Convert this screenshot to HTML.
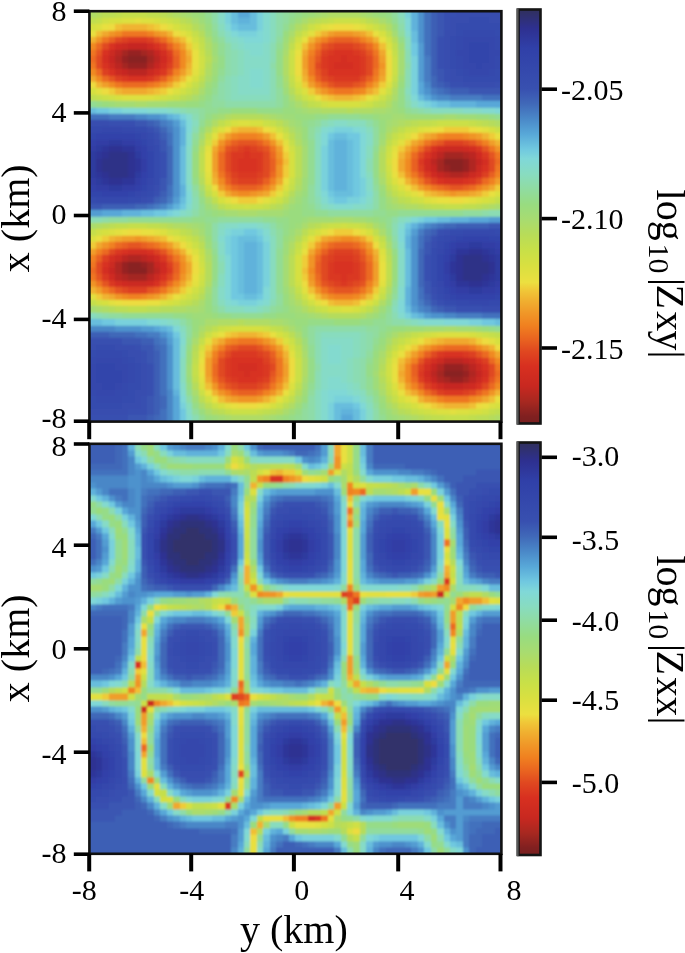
<!DOCTYPE html>
<html><head><meta charset="utf-8"><style>
html,body{margin:0;padding:0;background:#fff;width:685px;height:953px;overflow:hidden}
svg{display:block;will-change:transform}
text{font-family:"Liberation Serif",serif;fill:#000}
</style></head><body>
<svg width="685" height="953" viewBox="0 0 685 953">
<defs><linearGradient id="cg" x1="0" y1="0" x2="0" y2="1"><stop offset="0.000" stop-color="#303060"/><stop offset="0.003" stop-color="#303060"/><stop offset="0.045" stop-color="#2e3090"/><stop offset="0.093" stop-color="#3040a8"/><stop offset="0.191" stop-color="#3850b0"/><stop offset="0.227" stop-color="#4068b8"/><stop offset="0.264" stop-color="#4a88c8"/><stop offset="0.301" stop-color="#58a8d8"/><stop offset="0.337" stop-color="#70c8e0"/><stop offset="0.361" stop-color="#80d8d8"/><stop offset="0.398" stop-color="#88dcc0"/><stop offset="0.435" stop-color="#90dca0"/><stop offset="0.471" stop-color="#98dc80"/><stop offset="0.508" stop-color="#a8dc70"/><stop offset="0.544" stop-color="#b8dc58"/><stop offset="0.581" stop-color="#c8e048"/><stop offset="0.617" stop-color="#d8e040"/><stop offset="0.659" stop-color="#ece040"/><stop offset="0.678" stop-color="#f0c838"/><stop offset="0.703" stop-color="#f0b030"/><stop offset="0.732" stop-color="#f09828"/><stop offset="0.764" stop-color="#f08020"/><stop offset="0.800" stop-color="#e86020"/><stop offset="0.825" stop-color="#e04820"/><stop offset="0.861" stop-color="#d83020"/><stop offset="0.910" stop-color="#c82820"/><stop offset="0.946" stop-color="#a82820"/><stop offset="0.983" stop-color="#802020"/><stop offset="1.000" stop-color="#782020"/></linearGradient><filter id="bl" x="-0.05" y="-0.05" width="1.1" height="1.1"><feGaussianBlur stdDeviation="0.8"/></filter></defs>
<clipPath id="hc1"><rect x="89.40" y="11.20" width="412.00" height="410.40"/></clipPath><g clip-path="url(#hc1)"><g filter="url(#bl)"><svg x="82.96" y="4.79" width="424.88" height="423.23" viewBox="0 0 66 66" preserveAspectRatio="none" shape-rendering="crispEdges"><path fill="#b0dc65" d="M0 0h2v1h-2zM14 0h1v1h-1zM38 0h5v1h-5zM0 1h2v1h-2zM14 1h1v1h-1zM38 1h5v1h-5zM33 3h1v1h-1zM47 3h1v1h-1zM19 6h1v1h-1zM31 8h1v1h-1zM31 9h1v1h-1zM19 10h1v1h-1zM31 10h1v1h-1zM48 13h1v1h-1zM47 15h1v1h-1zM37 16h4v1h-4zM42 16h3v1h-3zM22 17h1v1h-1zM28 17h1v1h-1zM20 18h1v1h-1zM31 18h1v1h-1zM49 18h1v1h-1zM64 18h2v1h-2zM19 19h1v1h-1zM32 19h1v1h-1zM18 21h1v1h-1zM33 21h1v1h-1zM46 22h1v1h-1zM46 26h1v1h-1zM33 28h1v1h-1zM47 29h1v1h-1zM48 30h1v1h-1zM50 31h2v1h-2zM63 31h1v1h-1zM2 34h1v1h-1zM14 34h2v1h-2zM17 35h1v1h-1zM18 36h1v1h-1zM32 37h1v1h-1zM19 39h1v1h-1zM19 43h1v1h-1zM32 44h1v1h-1zM47 44h1v1h-1zM33 46h1v1h-1zM46 46h1v1h-1zM3 47h1v1h-1zM14 47h2v1h-2zM34 47h1v1h-1zM45 47h1v1h-1zM37 48h1v1h-1zM43 48h1v1h-1zM21 49h3v1h-3zM25 49h4v1h-4zM34 55h1v1h-1zM46 55h1v1h-1zM34 56h1v1h-1zM34 57h1v1h-1zM46 59h1v1h-1zM32 62h1v1h-1zM23 64h5v1h-5zM51 64h1v1h-1zM64 64h2v1h-2zM23 65h5v1h-5zM51 65h1v1h-1zM64 65h2v1h-2z"/><path fill="#b5dc5c" d="M2 0h1v1h-1zM13 0h1v1h-1zM2 1h1v1h-1zM13 1h1v1h-1zM16 2h1v1h-1zM35 2h1v1h-1zM45 2h1v1h-1zM17 3h1v1h-1zM18 4h1v1h-1zM32 5h1v1h-1zM48 5h1v1h-1zM19 7h1v1h-1zM19 9h1v1h-1zM18 12h1v1h-1zM32 13h1v1h-1zM16 14h1v1h-1zM34 15h1v1h-1zM41 16h1v1h-1zM23 17h5v1h-5zM50 18h1v1h-1zM63 18h1v1h-1zM48 19h1v1h-1zM47 20h1v1h-1zM46 23h1v1h-1zM46 24h1v1h-1zM46 25h1v1h-1zM18 27h1v1h-1zM33 27h1v1h-1zM32 29h1v1h-1zM30 31h1v1h-1zM52 31h1v1h-1zM62 31h1v1h-1zM3 34h1v1h-1zM13 34h1v1h-1zM35 34h1v1h-1zM33 36h1v1h-1zM32 38h1v1h-1zM47 38h1v1h-1zM19 40h1v1h-1zM19 41h1v1h-1zM19 42h1v1h-1zM18 45h1v1h-1zM17 46h1v1h-1zM4 47h1v1h-1zM12 47h2v1h-2zM38 48h5v1h-5zM24 49h1v1h-1zM19 50h1v1h-1zM31 50h1v1h-1zM18 51h1v1h-1zM49 51h1v1h-1zM33 52h1v1h-1zM17 53h1v1h-1zM47 53h1v1h-1zM46 56h1v1h-1zM46 58h1v1h-1zM17 59h1v1h-1zM33 60h1v1h-1zM47 61h1v1h-1zM48 62h1v1h-1zM20 63h1v1h-1zM30 63h1v1h-1zM49 63h1v1h-1zM52 64h1v1h-1zM63 64h1v1h-1zM52 65h1v1h-1zM63 65h1v1h-1z"/><path fill="#bbdd55" d="M3 0h2v1h-2zM12 0h1v1h-1zM3 1h2v1h-2zM12 1h1v1h-1zM15 2h1v1h-1zM36 2h1v1h-1zM44 2h1v1h-1zM34 3h1v1h-1zM19 8h1v1h-1zM48 12h1v1h-1zM17 13h1v1h-1zM15 14h1v1h-1zM33 14h1v1h-1zM47 14h1v1h-1zM46 15h1v1h-1zM30 18h1v1h-1zM51 18h1v1h-1zM62 18h1v1h-1zM32 20h1v1h-1zM18 22h1v1h-1zM33 22h1v1h-1zM33 23h1v1h-1zM33 24h1v1h-1zM33 25h1v1h-1zM18 26h1v1h-1zM33 26h1v1h-1zM47 28h1v1h-1zM31 30h1v1h-1zM49 30h1v1h-1zM21 31h1v1h-1zM29 31h1v1h-1zM53 31h1v1h-1zM61 31h1v1h-1zM4 34h1v1h-1zM12 34h1v1h-1zM36 34h1v1h-1zM44 34h1v1h-1zM16 35h1v1h-1zM34 35h1v1h-1zM18 37h1v1h-1zM32 39h1v1h-1zM47 39h1v1h-1zM32 40h1v1h-1zM32 41h1v1h-1zM32 42h1v1h-1zM32 43h1v1h-1zM47 43h1v1h-1zM33 45h1v1h-1zM5 47h2v1h-2zM10 47h2v1h-2zM35 47h1v1h-1zM32 51h1v1h-1zM50 51h1v1h-1zM48 52h1v1h-1zM17 54h1v1h-1zM46 57h1v1h-1zM18 61h1v1h-1zM19 62h1v1h-1zM31 62h1v1h-1zM21 63h1v1h-1zM29 63h1v1h-1zM50 63h1v1h-1zM53 64h1v1h-1zM61 64h2v1h-2zM53 65h1v1h-1zM61 65h2v1h-2z"/><path fill="#c0de50" d="M5 0h1v1h-1zM10 0h2v1h-2zM5 1h1v1h-1zM10 1h2v1h-2zM0 2h2v1h-2zM37 2h1v1h-1zM46 3h1v1h-1zM33 4h1v1h-1zM47 4h1v1h-1zM18 5h1v1h-1zM32 6h1v1h-1zM48 6h1v1h-1zM18 11h1v1h-1zM32 12h1v1h-1zM0 14h2v1h-2zM35 15h1v1h-1zM45 15h1v1h-1zM21 18h1v1h-1zM52 18h2v1h-2zM61 18h1v1h-1zM31 19h1v1h-1zM49 19h1v1h-1zM47 21h1v1h-1zM18 23h1v1h-1zM18 24h1v1h-1zM18 25h1v1h-1zM19 29h1v1h-1zM48 29h1v1h-1zM20 30h1v1h-1zM50 30h1v1h-1zM54 31h2v1h-2zM59 31h2v1h-2zM5 34h2v1h-2zM10 34h2v1h-2zM15 35h1v1h-1zM45 35h1v1h-1zM17 36h1v1h-1zM46 36h1v1h-1zM47 40h1v1h-1zM47 41h1v1h-1zM47 42h1v1h-1zM18 44h1v1h-1zM16 46h1v1h-1zM34 46h1v1h-1zM7 47h3v1h-3zM44 47h1v1h-1zM20 50h1v1h-1zM30 50h1v1h-1zM64 51h2v1h-2zM33 53h1v1h-1zM47 54h1v1h-1zM17 55h1v1h-1zM17 58h1v1h-1zM33 59h1v1h-1zM47 60h1v1h-1zM32 61h1v1h-1zM28 63h1v1h-1zM64 63h2v1h-2zM54 64h2v1h-2zM60 64h1v1h-1zM54 65h2v1h-2zM60 65h1v1h-1z"/><path fill="#c5df4b" d="M6 0h4v1h-4zM6 1h4v1h-4zM2 2h1v1h-1zM14 2h1v1h-1zM38 2h1v1h-1zM43 2h1v1h-1zM16 3h1v1h-1zM17 4h1v1h-1zM18 6h1v1h-1zM48 7h1v1h-1zM32 11h1v1h-1zM48 11h1v1h-1zM17 12h1v1h-1zM16 13h1v1h-1zM2 14h1v1h-1zM14 14h1v1h-1zM36 15h1v1h-1zM29 18h1v1h-1zM54 18h1v1h-1zM60 18h1v1h-1zM19 20h1v1h-1zM48 20h1v1h-1zM32 21h1v1h-1zM47 27h1v1h-1zM32 28h1v1h-1zM64 30h2v1h-2zM22 31h1v1h-1zM28 31h1v1h-1zM56 31h3v1h-3zM7 34h3v1h-3zM37 34h1v1h-1zM43 34h1v1h-1zM0 35h2v1h-2zM33 37h1v1h-1zM18 38h1v1h-1zM33 44h1v1h-1zM17 45h1v1h-1zM46 45h1v1h-1zM0 46h2v1h-2zM15 46h1v1h-1zM36 47h1v1h-1zM29 50h1v1h-1zM51 51h1v1h-1zM63 51h1v1h-1zM18 52h1v1h-1zM49 52h1v1h-1zM48 53h1v1h-1zM33 54h1v1h-1zM17 56h1v1h-1zM17 57h1v1h-1zM47 59h1v1h-1zM48 61h1v1h-1zM49 62h1v1h-1zM22 63h1v1h-1zM27 63h1v1h-1zM51 63h1v1h-1zM63 63h1v1h-1zM56 64h4v1h-4zM56 65h4v1h-4z"/><path fill="#aadc6d" d="M15 0h1v1h-1zM37 0h1v1h-1zM43 0h1v1h-1zM15 1h1v1h-1zM37 1h1v1h-1zM43 1h1v1h-1zM17 2h1v1h-1zM34 2h1v1h-1zM46 2h1v1h-1zM18 3h1v1h-1zM32 4h1v1h-1zM19 5h1v1h-1zM31 7h1v1h-1zM19 11h1v1h-1zM31 11h1v1h-1zM18 13h1v1h-1zM17 14h1v1h-1zM32 14h1v1h-1zM48 14h1v1h-1zM8 15h2v1h-2zM33 15h1v1h-1zM35 16h2v1h-2zM45 16h2v1h-2zM29 17h1v1h-1zM48 18h1v1h-1zM47 19h1v1h-1zM33 20h1v1h-1zM46 27h1v1h-1zM18 28h1v1h-1zM19 30h1v1h-1zM32 30h1v1h-1zM20 31h1v1h-1zM31 31h1v1h-1zM49 31h1v1h-1zM64 31h2v1h-2zM24 32h3v1h-3zM39 33h3v1h-3zM0 34h2v1h-2zM16 34h1v1h-1zM34 34h1v1h-1zM45 34h1v1h-1zM33 35h1v1h-1zM46 35h1v1h-1zM47 37h1v1h-1zM19 38h1v1h-1zM32 45h1v1h-1zM18 46h1v1h-1zM2 47h1v1h-1zM16 47h2v1h-2zM36 48h1v1h-1zM19 49h2v1h-2zM29 49h2v1h-2zM18 50h1v1h-1zM32 50h1v1h-1zM56 50h2v1h-2zM33 51h1v1h-1zM48 51h1v1h-1zM17 52h1v1h-1zM47 52h1v1h-1zM34 54h1v1h-1zM46 54h1v1h-1zM34 58h1v1h-1zM17 60h1v1h-1zM46 60h1v1h-1zM33 61h1v1h-1zM18 62h1v1h-1zM47 62h1v1h-1zM19 63h1v1h-1zM31 63h1v1h-1zM48 63h1v1h-1zM22 64h1v1h-1zM28 64h1v1h-1zM50 64h1v1h-1zM22 65h1v1h-1zM28 65h1v1h-1zM50 65h1v1h-1z"/><path fill="#a5dc73" d="M16 0h1v1h-1zM36 0h1v1h-1zM44 0h1v1h-1zM16 1h1v1h-1zM36 1h1v1h-1zM44 1h1v1h-1zM48 4h1v1h-1zM31 6h1v1h-1zM49 7h1v1h-1zM20 8h1v1h-1zM49 8h1v1h-1zM49 9h1v1h-1zM49 10h1v1h-1zM31 12h1v1h-1zM5 15h3v1h-3zM10 15h3v1h-3zM34 16h1v1h-1zM47 16h1v1h-1zM21 17h1v1h-1zM30 17h1v1h-1zM48 17h2v1h-2zM56 17h2v1h-2zM32 18h1v1h-1zM47 18h1v1h-1zM33 19h1v1h-1zM18 20h1v1h-1zM46 21h1v1h-1zM34 22h1v1h-1zM34 23h1v1h-1zM34 24h1v1h-1zM34 25h1v1h-1zM34 26h1v1h-1zM33 29h1v1h-1zM47 30h1v1h-1zM48 31h1v1h-1zM22 32h2v1h-2zM27 32h4v1h-4zM35 33h4v1h-4zM42 33h2v1h-2zM17 34h1v1h-1zM18 35h1v1h-1zM32 36h1v1h-1zM31 39h1v1h-1zM31 40h1v1h-1zM31 41h1v1h-1zM31 42h1v1h-1zM31 43h1v1h-1zM19 44h1v1h-1zM47 45h1v1h-1zM32 46h1v1h-1zM0 47h2v1h-2zM18 47h1v1h-1zM33 47h1v1h-1zM35 48h1v1h-1zM44 48h1v1h-1zM31 49h1v1h-1zM53 50h3v1h-3zM58 50h3v1h-3zM34 53h1v1h-1zM45 57h1v1h-1zM34 59h1v1h-1zM21 64h1v1h-1zM29 64h1v1h-1zM49 64h1v1h-1zM21 65h1v1h-1zM29 65h1v1h-1zM49 65h1v1h-1z"/><path fill="#9fdc79" d="M17 0h1v1h-1zM35 0h1v1h-1zM45 0h1v1h-1zM17 1h1v1h-1zM35 1h1v1h-1zM45 1h1v1h-1zM18 2h1v1h-1zM33 2h1v1h-1zM47 2h1v1h-1zM32 3h1v1h-1zM19 4h1v1h-1zM31 5h1v1h-1zM20 6h1v1h-1zM49 6h1v1h-1zM20 7h1v1h-1zM20 9h1v1h-1zM20 10h1v1h-1zM49 11h1v1h-1zM19 12h1v1h-1zM31 13h1v1h-1zM18 14h1v1h-1zM4 15h1v1h-1zM13 15h3v1h-3zM32 15h1v1h-1zM48 15h1v1h-1zM33 16h1v1h-1zM48 16h1v1h-1zM20 17h1v1h-1zM31 17h2v1h-2zM46 17h2v1h-2zM50 17h6v1h-6zM58 17h3v1h-3zM19 18h1v1h-1zM33 18h1v1h-1zM46 20h1v1h-1zM34 21h1v1h-1zM34 27h1v1h-1zM34 28h1v1h-1zM46 28h1v1h-1zM18 29h1v1h-1zM33 30h1v1h-1zM19 31h1v1h-1zM32 31h1v1h-1zM47 31h1v1h-1zM21 32h1v1h-1zM31 32h1v1h-1zM34 33h1v1h-1zM44 33h1v1h-1zM18 34h1v1h-1zM33 34h1v1h-1zM46 34h1v1h-1zM32 35h1v1h-1zM47 36h1v1h-1zM19 37h1v1h-1zM31 37h1v1h-1zM31 38h1v1h-1zM31 44h1v1h-1zM19 45h1v1h-1zM32 47h1v1h-1zM46 47h1v1h-1zM17 48h3v1h-3zM33 48h2v1h-2zM45 48h1v1h-1zM18 49h1v1h-1zM32 49h1v1h-1zM33 50h1v1h-1zM50 50h3v1h-3zM61 50h1v1h-1zM17 51h1v1h-1zM47 51h1v1h-1zM34 52h1v1h-1zM46 53h1v1h-1zM45 55h1v1h-1zM16 56h1v1h-1zM45 56h1v1h-1zM16 57h1v1h-1zM45 58h1v1h-1zM45 59h1v1h-1zM34 60h1v1h-1zM17 61h1v1h-1zM46 61h1v1h-1zM33 62h1v1h-1zM32 63h1v1h-1zM47 63h1v1h-1zM20 64h1v1h-1zM30 64h1v1h-1zM48 64h1v1h-1zM20 65h1v1h-1zM30 65h1v1h-1zM48 65h1v1h-1z"/><path fill="#9adc7e" d="M18 0h1v1h-1zM34 0h1v1h-1zM46 0h1v1h-1zM18 1h1v1h-1zM34 1h1v1h-1zM46 1h1v1h-1zM19 3h1v1h-1zM48 3h1v1h-1zM31 4h1v1h-1zM20 11h1v1h-1zM49 12h1v1h-1zM19 13h1v1h-1zM3 15h1v1h-1zM16 15h2v1h-2zM23 16h4v1h-4zM31 16h2v1h-2zM49 16h1v1h-1zM33 17h3v1h-3zM45 17h1v1h-1zM61 17h2v1h-2zM46 18h1v1h-1zM18 19h1v1h-1zM34 19h1v1h-1zM46 19h1v1h-1zM34 20h1v1h-1zM17 23h1v1h-1zM17 24h1v1h-1zM17 25h1v1h-1zM17 26h1v1h-1zM34 29h1v1h-1zM46 29h1v1h-1zM33 31h1v1h-1zM20 32h1v1h-1zM32 32h2v1h-2zM32 33h2v1h-2zM45 33h1v1h-1zM32 34h1v1h-1zM19 36h1v1h-1zM31 36h1v1h-1zM48 39h1v1h-1zM48 40h1v1h-1zM48 41h1v1h-1zM48 42h1v1h-1zM31 45h1v1h-1zM19 46h1v1h-1zM31 46h1v1h-1zM47 46h1v1h-1zM19 47h1v1h-1zM16 48h1v1h-1zM20 48h1v1h-1zM30 48h3v1h-3zM17 49h1v1h-1zM33 49h2v1h-2zM39 49h4v1h-4zM17 50h1v1h-1zM48 50h2v1h-2zM62 50h1v1h-1zM46 52h1v1h-1zM16 54h1v1h-1zM45 54h1v1h-1zM16 55h1v1h-1zM16 58h1v1h-1zM34 61h1v1h-1zM46 62h1v1h-1zM18 63h1v1h-1zM19 64h1v1h-1zM31 64h1v1h-1zM47 64h1v1h-1zM19 65h1v1h-1zM31 65h1v1h-1zM47 65h1v1h-1z"/><path fill="#93dc93" d="M19 0h1v1h-1zM32 0h1v1h-1zM19 1h1v1h-1zM32 1h1v1h-1zM48 2h1v1h-1zM31 3h1v1h-1zM20 4h1v1h-1zM21 6h1v1h-1zM30 6h1v1h-1zM21 7h1v1h-1zM21 10h1v1h-1zM30 11h1v1h-1zM30 12h1v1h-1zM20 13h1v1h-1zM0 15h2v1h-2zM19 15h1v1h-1zM19 16h2v1h-2zM50 16h1v1h-1zM38 17h5v1h-5zM64 17h2v1h-2zM18 18h1v1h-1zM35 18h1v1h-1zM45 18h1v1h-1zM17 21h1v1h-1zM35 21h1v1h-1zM35 22h1v1h-1zM45 22h1v1h-1zM35 23h1v1h-1zM35 24h1v1h-1zM35 25h1v1h-1zM35 26h1v1h-1zM35 27h1v1h-1zM45 27h1v1h-1zM18 31h1v1h-1zM35 31h1v1h-1zM18 32h1v1h-1zM36 32h2v1h-2zM45 32h2v1h-2zM49 32h10v1h-10zM7 33h10v1h-10zM19 33h2v1h-2zM28 33h2v1h-2zM47 33h1v1h-1zM30 34h1v1h-1zM47 34h1v1h-1zM20 38h1v1h-1zM30 38h1v1h-1zM30 39h1v1h-1zM30 40h1v1h-1zM30 41h1v1h-1zM30 42h1v1h-1zM20 43h1v1h-1zM30 43h1v1h-1zM30 44h1v1h-1zM48 44h1v1h-1zM20 47h1v1h-1zM30 47h1v1h-1zM47 47h1v1h-1zM6 48h8v1h-8zM23 48h5v1h-5zM16 49h1v1h-1zM45 49h2v1h-2zM46 50h1v1h-1zM64 50h2v1h-2zM16 52h1v1h-1zM45 52h1v1h-1zM35 53h1v1h-1zM35 54h1v1h-1zM44 55h1v1h-1zM44 58h1v1h-1zM35 59h1v1h-1zM44 59h1v1h-1zM16 60h1v1h-1zM45 61h1v1h-1zM34 62h1v1h-1zM18 64h1v1h-1zM33 64h1v1h-1zM46 64h1v1h-1zM18 65h1v1h-1zM33 65h1v1h-1zM46 65h1v1h-1z"/><path fill="#8edca9" d="M20 0h1v1h-1zM30 0h1v1h-1zM20 1h1v1h-1zM30 1h1v1h-1zM20 2h1v1h-1zM30 2h1v1h-1zM30 3h1v1h-1zM49 3h1v1h-1zM30 4h1v1h-1zM22 6h1v1h-1zM22 7h1v1h-1zM22 8h1v1h-1zM22 9h1v1h-1zM29 9h1v1h-1zM50 9h1v1h-1zM22 10h1v1h-1zM21 12h1v1h-1zM21 13h1v1h-1zM21 14h1v1h-1zM22 15h8v1h-8zM50 15h1v1h-1zM16 16h2v1h-2zM52 16h1v1h-1zM44 18h1v1h-1zM17 29h1v1h-1zM45 29h1v1h-1zM45 30h1v1h-1zM36 31h1v1h-1zM45 31h1v1h-1zM17 32h1v1h-1zM62 32h1v1h-1zM3 33h1v1h-1zM48 33h1v1h-1zM20 34h1v1h-1zM29 34h1v1h-1zM20 35h1v1h-1zM20 36h1v1h-1zM48 36h1v1h-1zM21 47h1v1h-1zM3 48h1v1h-1zM15 49h1v1h-1zM48 49h2v1h-2zM36 50h8v1h-8zM44 51h1v1h-1zM44 52h1v1h-1zM44 53h1v1h-1zM43 55h1v1h-1zM36 56h1v1h-1zM43 56h1v1h-1zM43 57h1v1h-1zM43 58h1v1h-1zM43 59h1v1h-1zM16 61h1v1h-1zM35 61h1v1h-1zM35 62h1v1h-1zM35 63h1v1h-1zM45 63h1v1h-1zM35 64h1v1h-1zM45 64h1v1h-1zM35 65h1v1h-1zM45 65h1v1h-1z"/><path fill="#86dbc7" d="M21 0h1v1h-1zM21 1h1v1h-1zM21 2h1v1h-1zM22 4h1v1h-1zM23 5h1v1h-1zM24 6h1v1h-1zM28 6h1v1h-1zM25 7h1v1h-1zM28 7h1v1h-1zM25 8h4v1h-4zM25 9h4v1h-4zM25 10h1v1h-1zM28 10h1v1h-1zM24 11h2v1h-2zM28 11h1v1h-1zM24 12h2v1h-2zM28 12h1v1h-1zM24 13h5v1h-5zM51 15h1v1h-1zM13 16h1v1h-1zM59 16h3v1h-3zM39 18h2v1h-2zM44 20h1v1h-1zM44 21h1v1h-1zM16 22h1v1h-1zM16 23h1v1h-1zM16 24h1v1h-1zM16 25h1v1h-1zM16 26h1v1h-1zM16 27h1v1h-1zM44 27h1v1h-1zM44 28h1v1h-1zM44 30h1v1h-1zM38 31h1v1h-1zM42 31h2v1h-2zM15 32h1v1h-1zM50 33h1v1h-1zM22 34h2v1h-2zM27 34h1v1h-1zM21 35h1v1h-1zM21 37h1v1h-1zM21 38h1v1h-1zM49 38h1v1h-1zM49 39h1v1h-1zM49 40h1v1h-1zM49 41h1v1h-1zM49 42h1v1h-1zM49 43h1v1h-1zM21 44h1v1h-1zM21 45h1v1h-1zM25 47h2v1h-2zM13 49h1v1h-1zM52 49h1v1h-1zM15 51h1v1h-1zM37 52h5v1h-5zM15 53h1v1h-1zM37 53h1v1h-1zM40 53h2v1h-2zM15 54h1v1h-1zM37 54h1v1h-1zM40 54h2v1h-2zM37 55h1v1h-1zM40 55h1v1h-1zM37 56h4v1h-4zM37 57h4v1h-4zM37 58h1v1h-1zM40 58h1v1h-1zM15 59h1v1h-1zM37 59h1v1h-1zM41 59h1v1h-1zM42 60h1v1h-1zM43 61h1v1h-1zM16 63h1v1h-1zM44 63h1v1h-1zM44 64h1v1h-1zM44 65h1v1h-1z"/><path fill="#79d1dc" d="M22 0h1v1h-1zM27 0h1v1h-1zM50 0h1v1h-1zM22 1h1v1h-1zM27 1h1v1h-1zM50 1h1v1h-1zM22 2h1v1h-1zM27 2h1v1h-1zM27 3h1v1h-1zM24 4h3v1h-3zM51 8h1v1h-1zM51 9h1v1h-1zM51 10h1v1h-1zM51 11h1v1h-1zM51 12h1v1h-1zM51 13h1v1h-1zM53 15h1v1h-1zM4 16h2v1h-2zM15 17h1v1h-1zM39 19h3v1h-3zM37 22h1v1h-1zM37 23h1v1h-1zM37 24h1v1h-1zM37 25h1v1h-1zM37 26h1v1h-1zM37 27h1v1h-1zM43 27h1v1h-1zM37 28h1v1h-1zM43 28h1v1h-1zM43 29h1v1h-1zM38 30h1v1h-1zM41 30h2v1h-2zM13 32h1v1h-1zM52 33h1v1h-1zM23 35h2v1h-2zM27 35h1v1h-1zM22 36h1v1h-1zM22 37h1v1h-1zM28 37h1v1h-1zM22 38h1v1h-1zM28 38h1v1h-1zM28 39h1v1h-1zM28 40h1v1h-1zM28 41h1v1h-1zM28 42h1v1h-1zM28 43h1v1h-1zM24 46h3v1h-3zM50 48h1v1h-1zM5 49h5v1h-5zM60 49h2v1h-2zM39 61h3v1h-3zM15 62h1v1h-1zM38 62h1v1h-1zM38 63h1v1h-1zM43 63h1v1h-1zM38 64h1v1h-1zM43 64h1v1h-1zM38 65h1v1h-1zM43 65h1v1h-1z"/><path fill="#68bddd" d="M23 0h1v1h-1zM26 0h1v1h-1zM23 1h1v1h-1zM26 1h1v1h-1zM23 2h1v1h-1zM26 2h1v1h-1zM24 3h3v1h-3zM51 4h1v1h-1zM51 5h1v1h-1zM52 14h1v1h-1zM55 15h2v1h-2zM0 16h2v1h-2zM14 17h1v1h-1zM15 18h1v1h-1zM39 20h2v1h-2zM38 21h1v1h-1zM41 21h1v1h-1zM15 22h1v1h-1zM38 22h1v1h-1zM41 22h1v1h-1zM15 23h1v1h-1zM38 23h1v1h-1zM41 23h1v1h-1zM15 24h1v1h-1zM38 24h1v1h-1zM41 24h1v1h-1zM15 25h1v1h-1zM38 25h1v1h-1zM41 25h1v1h-1zM15 26h1v1h-1zM38 26h1v1h-1zM41 26h1v1h-1zM15 27h1v1h-1zM38 27h1v1h-1zM41 27h1v1h-1zM38 28h1v1h-1zM41 28h1v1h-1zM39 29h3v1h-3zM15 30h1v1h-1zM9 32h2v1h-2zM55 33h2v1h-2zM50 35h1v1h-1zM24 36h3v1h-3zM24 37h1v1h-1zM27 37h1v1h-1zM24 38h1v1h-1zM27 38h1v1h-1zM50 38h1v1h-1zM24 39h1v1h-1zM27 39h1v1h-1zM50 39h1v1h-1zM24 40h1v1h-1zM27 40h1v1h-1zM50 40h1v1h-1zM24 41h1v1h-1zM27 41h1v1h-1zM50 41h1v1h-1zM24 42h1v1h-1zM27 42h1v1h-1zM50 42h1v1h-1zM24 43h1v1h-1zM27 43h1v1h-1zM50 43h1v1h-1zM24 44h1v1h-1zM27 44h1v1h-1zM25 45h2v1h-2zM50 47h1v1h-1zM51 48h1v1h-1zM0 49h3v1h-3zM64 49h2v1h-2zM13 50h1v1h-1zM14 52h1v1h-1zM14 53h1v1h-1zM14 54h1v1h-1zM14 55h1v1h-1zM14 56h1v1h-1zM14 57h1v1h-1zM14 58h1v1h-1zM14 59h1v1h-1zM39 62h3v1h-3zM39 63h1v1h-1zM42 63h1v1h-1zM39 64h1v1h-1zM42 64h1v1h-1zM39 65h1v1h-1zM42 65h1v1h-1z"/><path fill="#58a7d8" d="M24 0h2v1h-2zM24 1h2v1h-2zM52 12h1v1h-1zM52 13h1v1h-1zM53 14h1v1h-1zM61 15h5v1h-5zM3 32h3v1h-3zM60 33h3v1h-3zM11 50h1v1h-1zM13 51h1v1h-1zM14 61h1v1h-1zM14 62h1v1h-1zM14 63h1v1h-1zM14 64h1v1h-1zM40 64h2v1h-2zM14 65h1v1h-1zM40 65h2v1h-2z"/><path fill="#83dacf" d="M28 0h1v1h-1zM28 1h1v1h-1zM28 2h1v1h-1zM28 3h1v1h-1zM28 4h1v1h-1zM50 4h1v1h-1zM24 5h1v1h-1zM28 5h1v1h-1zM25 6h3v1h-3zM26 7h2v1h-2zM26 10h2v1h-2zM26 11h2v1h-2zM26 12h2v1h-2zM10 16h3v1h-3zM62 16h2v1h-2zM16 17h1v1h-1zM37 19h1v1h-1zM43 19h1v1h-1zM16 20h1v1h-1zM16 21h1v1h-1zM16 28h1v1h-1zM44 29h1v1h-1zM37 30h1v1h-1zM16 31h1v1h-1zM39 31h3v1h-3zM24 34h3v1h-3zM49 34h1v1h-1zM28 35h1v1h-1zM21 36h1v1h-1zM49 37h1v1h-1zM49 44h1v1h-1zM49 45h1v1h-1zM22 46h1v1h-1zM28 46h1v1h-1zM49 48h1v1h-1zM12 49h1v1h-1zM53 49h3v1h-3zM15 52h1v1h-1zM38 53h2v1h-2zM38 54h2v1h-2zM38 55h2v1h-2zM38 58h2v1h-2zM38 59h3v1h-3zM15 60h1v1h-1zM37 60h1v1h-1zM41 60h1v1h-1zM37 61h1v1h-1zM37 62h1v1h-1zM37 63h1v1h-1zM16 64h1v1h-1zM37 64h1v1h-1zM16 65h1v1h-1zM37 65h1v1h-1z"/><path fill="#88dcbe" d="M29 0h1v1h-1zM49 0h1v1h-1zM29 1h1v1h-1zM49 1h1v1h-1zM29 2h1v1h-1zM21 3h1v1h-1zM29 3h1v1h-1zM29 4h1v1h-1zM22 5h1v1h-1zM29 5h1v1h-1zM50 5h1v1h-1zM23 6h1v1h-1zM50 6h1v1h-1zM24 7h1v1h-1zM24 8h1v1h-1zM24 9h1v1h-1zM24 10h1v1h-1zM23 11h1v1h-1zM23 12h1v1h-1zM23 13h1v1h-1zM50 13h1v1h-1zM23 14h6v1h-6zM14 16h1v1h-1zM54 16h5v1h-5zM17 18h1v1h-1zM38 18h1v1h-1zM41 18h3v1h-3zM44 19h1v1h-1zM36 20h1v1h-1zM36 21h1v1h-1zM36 22h1v1h-1zM44 22h1v1h-1zM36 23h1v1h-1zM44 23h1v1h-1zM36 24h1v1h-1zM36 25h1v1h-1zM36 26h1v1h-1zM44 26h1v1h-1zM36 27h1v1h-1zM36 28h1v1h-1zM36 29h1v1h-1zM37 31h1v1h-1zM44 31h1v1h-1zM16 32h1v1h-1zM49 33h1v1h-1zM21 34h1v1h-1zM28 34h1v1h-1zM29 36h1v1h-1zM29 37h1v1h-1zM29 38h1v1h-1zM21 39h1v1h-1zM29 39h1v1h-1zM29 40h1v1h-1zM29 41h1v1h-1zM21 42h1v1h-1zM29 42h1v1h-1zM21 43h1v1h-1zM29 43h1v1h-1zM29 44h1v1h-1zM29 45h1v1h-1zM21 46h1v1h-1zM22 47h3v1h-3zM27 47h1v1h-1zM48 47h1v1h-1zM0 48h2v1h-2zM14 49h1v1h-1zM51 49h1v1h-1zM15 50h1v1h-1zM37 51h6v1h-6zM42 52h1v1h-1zM42 53h1v1h-1zM42 54h1v1h-1zM15 55h1v1h-1zM41 55h1v1h-1zM15 56h1v1h-1zM41 56h1v1h-1zM15 57h1v1h-1zM41 57h1v1h-1zM15 58h1v1h-1zM41 58h1v1h-1zM42 59h1v1h-1zM36 60h1v1h-1zM43 60h1v1h-1zM36 61h1v1h-1zM16 62h1v1h-1zM36 62h1v1h-1zM44 62h1v1h-1zM36 63h1v1h-1zM36 64h1v1h-1zM36 65h1v1h-1z"/><path fill="#91dc9e" d="M31 0h1v1h-1zM48 0h1v1h-1zM31 1h1v1h-1zM48 1h1v1h-1zM31 2h1v1h-1zM20 3h1v1h-1zM49 4h1v1h-1zM21 5h1v1h-1zM30 5h1v1h-1zM21 11h1v1h-1zM30 13h1v1h-1zM20 14h1v1h-1zM30 14h1v1h-1zM20 15h2v1h-2zM30 15h1v1h-1zM18 16h1v1h-1zM51 16h1v1h-1zM18 17h1v1h-1zM36 18h1v1h-1zM35 19h1v1h-1zM45 19h1v1h-1zM17 20h1v1h-1zM35 20h1v1h-1zM45 20h1v1h-1zM45 21h1v1h-1zM17 28h1v1h-1zM35 28h1v1h-1zM45 28h1v1h-1zM35 29h1v1h-1zM35 30h1v1h-1zM38 32h7v1h-7zM59 32h3v1h-3zM4 33h3v1h-3zM21 33h7v1h-7zM30 35h1v1h-1zM30 36h1v1h-1zM20 37h1v1h-1zM30 37h1v1h-1zM48 37h1v1h-1zM20 44h1v1h-1zM20 45h1v1h-1zM30 45h1v1h-1zM48 45h1v1h-1zM20 46h1v1h-1zM30 46h1v1h-1zM29 47h1v1h-1zM4 48h2v1h-2zM47 48h1v1h-1zM47 49h1v1h-1zM16 50h1v1h-1zM35 50h1v1h-1zM44 50h2v1h-2zM16 51h1v1h-1zM35 51h1v1h-1zM45 51h1v1h-1zM35 52h1v1h-1zM44 54h1v1h-1zM35 60h1v1h-1zM44 60h1v1h-1zM45 62h1v1h-1zM17 63h1v1h-1zM34 63h1v1h-1zM34 64h1v1h-1zM34 65h1v1h-1z"/><path fill="#96dc88" d="M33 0h1v1h-1zM47 0h1v1h-1zM33 1h1v1h-1zM47 1h1v1h-1zM19 2h1v1h-1zM32 2h1v1h-1zM20 5h1v1h-1zM49 5h1v1h-1zM30 7h1v1h-1zM21 8h1v1h-1zM30 8h1v1h-1zM21 9h1v1h-1zM30 9h1v1h-1zM30 10h1v1h-1zM20 12h1v1h-1zM49 13h1v1h-1zM19 14h1v1h-1zM31 14h1v1h-1zM49 14h1v1h-1zM2 15h1v1h-1zM18 15h1v1h-1zM31 15h1v1h-1zM49 15h1v1h-1zM21 16h2v1h-2zM27 16h4v1h-4zM19 17h1v1h-1zM36 17h2v1h-2zM43 17h2v1h-2zM63 17h1v1h-1zM34 18h1v1h-1zM17 22h1v1h-1zM45 23h1v1h-1zM45 24h1v1h-1zM45 25h1v1h-1zM45 26h1v1h-1zM17 27h1v1h-1zM18 30h1v1h-1zM34 30h1v1h-1zM46 30h1v1h-1zM34 31h1v1h-1zM46 31h1v1h-1zM19 32h1v1h-1zM34 32h2v1h-2zM47 32h2v1h-2zM17 33h2v1h-2zM30 33h2v1h-2zM46 33h1v1h-1zM19 34h1v1h-1zM31 34h1v1h-1zM19 35h1v1h-1zM31 35h1v1h-1zM47 35h1v1h-1zM48 38h1v1h-1zM20 39h1v1h-1zM20 40h1v1h-1zM20 41h1v1h-1zM20 42h1v1h-1zM48 43h1v1h-1zM31 47h1v1h-1zM14 48h2v1h-2zM21 48h2v1h-2zM28 48h2v1h-2zM46 48h1v1h-1zM35 49h4v1h-4zM43 49h2v1h-2zM34 50h1v1h-1zM47 50h1v1h-1zM63 50h1v1h-1zM34 51h1v1h-1zM46 51h1v1h-1zM16 53h1v1h-1zM45 53h1v1h-1zM35 55h1v1h-1zM35 56h1v1h-1zM44 56h1v1h-1zM35 57h1v1h-1zM44 57h1v1h-1zM35 58h1v1h-1zM16 59h1v1h-1zM45 60h1v1h-1zM17 62h1v1h-1zM33 63h1v1h-1zM46 63h1v1h-1zM32 64h1v1h-1zM32 65h1v1h-1z"/><path fill="#60b2db" d="M51 0h1v1h-1zM51 1h1v1h-1zM24 2h2v1h-2zM51 2h1v1h-1zM51 3h1v1h-1zM57 15h4v1h-4zM13 17h1v1h-1zM15 19h1v1h-1zM15 20h1v1h-1zM15 21h1v1h-1zM39 21h2v1h-2zM39 22h2v1h-2zM39 23h2v1h-2zM39 24h2v1h-2zM39 25h2v1h-2zM39 26h2v1h-2zM39 27h2v1h-2zM15 28h1v1h-1zM39 28h2v1h-2zM15 29h1v1h-1zM14 31h1v1h-1zM6 32h3v1h-3zM57 33h3v1h-3zM51 34h1v1h-1zM50 36h1v1h-1zM25 37h2v1h-2zM50 37h1v1h-1zM25 38h2v1h-2zM25 39h2v1h-2zM25 40h2v1h-2zM25 41h2v1h-2zM25 42h2v1h-2zM25 43h2v1h-2zM25 44h2v1h-2zM50 44h1v1h-1zM50 45h1v1h-1zM50 46h1v1h-1zM52 48h1v1h-1zM12 50h1v1h-1zM14 60h1v1h-1zM40 63h2v1h-2z"/><path fill="#4e92cd" d="M52 0h1v1h-1zM52 1h1v1h-1zM52 2h1v1h-1zM52 3h1v1h-1zM52 4h1v1h-1zM52 5h1v1h-1zM53 13h1v1h-1zM54 14h1v1h-1zM10 17h2v1h-2zM14 19h1v1h-1zM14 20h1v1h-1zM14 21h1v1h-1zM14 22h1v1h-1zM14 23h1v1h-1zM14 24h1v1h-1zM14 25h1v1h-1zM14 26h1v1h-1zM14 27h1v1h-1zM14 28h1v1h-1zM14 29h1v1h-1zM51 36h1v1h-1zM51 37h1v1h-1zM51 38h1v1h-1zM51 39h1v1h-1zM51 40h1v1h-1zM51 41h1v1h-1zM51 42h1v1h-1zM51 43h1v1h-1zM51 44h1v1h-1zM51 45h1v1h-1zM51 46h1v1h-1zM54 48h2v1h-2zM5 50h4v1h-4zM12 51h1v1h-1zM13 53h1v1h-1zM13 54h1v1h-1zM13 55h1v1h-1zM13 56h1v1h-1zM13 57h1v1h-1zM13 58h1v1h-1zM13 59h1v1h-1z"/><path fill="#4371bd" d="M53 0h1v1h-1zM53 1h1v1h-1zM53 2h1v1h-1zM53 3h1v1h-1zM53 4h1v1h-1zM53 5h1v1h-1zM53 6h1v1h-1zM53 7h1v1h-1zM55 13h1v1h-1zM62 14h4v1h-4zM0 17h4v1h-4zM13 20h1v1h-1zM13 21h1v1h-1zM13 28h1v1h-1zM13 29h1v1h-1zM10 31h1v1h-1zM55 34h1v1h-1zM52 36h1v1h-1zM52 37h1v1h-1zM52 44h1v1h-1zM52 45h1v1h-1zM62 48h4v1h-4zM8 51h2v1h-2zM11 52h1v1h-1zM12 53h1v1h-1zM12 54h1v1h-1zM12 55h1v1h-1zM12 56h1v1h-1zM12 57h1v1h-1zM12 58h1v1h-1zM12 59h1v1h-1zM12 60h1v1h-1zM12 63h1v1h-1zM12 64h1v1h-1zM12 65h1v1h-1z"/><path fill="#3d5eb5" d="M54 0h1v1h-1zM54 1h1v1h-1zM54 2h1v1h-1zM54 3h1v1h-1zM54 4h1v1h-1zM54 5h1v1h-1zM54 6h1v1h-1zM54 7h1v1h-1zM54 8h1v1h-1zM54 9h1v1h-1zM54 10h1v1h-1zM55 12h1v1h-1zM57 13h3v1h-3zM10 18h1v1h-1zM12 20h1v1h-1zM12 29h1v1h-1zM11 30h1v1h-1zM3 31h5v1h-5zM58 34h5v1h-5zM54 35h1v1h-1zM53 36h1v1h-1zM53 45h1v1h-1zM55 47h1v1h-1zM0 51h4v1h-4zM9 52h2v1h-2zM11 54h1v1h-1zM11 55h1v1h-1zM11 56h1v1h-1zM11 57h1v1h-1zM11 58h1v1h-1zM11 59h1v1h-1zM11 60h1v1h-1zM11 61h1v1h-1zM11 62h1v1h-1zM11 63h1v1h-1zM10 64h1v1h-1zM10 65h1v1h-1z"/><path fill="#3a56b2" d="M55 0h1v1h-1zM55 1h1v1h-1zM55 2h1v1h-1zM55 3h1v1h-1zM55 4h1v1h-1zM55 10h1v1h-1zM55 11h1v1h-1zM56 12h1v1h-1zM60 13h6v1h-6zM8 18h2v1h-2zM11 19h1v1h-1zM12 21h1v1h-1zM12 22h1v1h-1zM12 27h1v1h-1zM12 28h1v1h-1zM0 31h3v1h-3zM63 34h3v1h-3zM53 37h1v1h-1zM53 38h1v1h-1zM53 43h1v1h-1zM53 44h1v1h-1zM54 46h1v1h-1zM56 47h2v1h-2zM6 52h3v1h-3zM9 53h2v1h-2zM10 54h1v1h-1zM10 55h1v1h-1zM10 61h1v1h-1zM10 62h1v1h-1zM10 63h1v1h-1zM7 64h3v1h-3zM7 65h3v1h-3z"/><path fill="#384fb0" d="M56 0h2v1h-2zM56 1h2v1h-2zM56 2h1v1h-1zM56 3h1v1h-1zM55 5h1v1h-1zM55 6h1v1h-1zM55 7h1v1h-1zM55 8h1v1h-1zM55 9h1v1h-1zM56 10h1v1h-1zM56 11h1v1h-1zM57 12h2v1h-2zM64 12h2v1h-2zM4 18h4v1h-4zM10 19h1v1h-1zM11 20h1v1h-1zM12 23h1v1h-1zM12 24h1v1h-1zM12 25h1v1h-1zM12 26h1v1h-1zM11 29h1v1h-1zM10 30h1v1h-1zM55 35h1v1h-1zM54 36h1v1h-1zM53 39h1v1h-1zM53 40h1v1h-1zM53 41h1v1h-1zM53 42h1v1h-1zM54 45h1v1h-1zM55 46h1v1h-1zM58 47h4v1h-4zM0 52h6v1h-6zM8 53h1v1h-1zM9 54h1v1h-1zM9 55h1v1h-1zM10 56h1v1h-1zM10 57h1v1h-1zM10 58h1v1h-1zM10 59h1v1h-1zM10 60h1v1h-1zM9 61h1v1h-1zM9 62h1v1h-1zM7 63h3v1h-3zM0 64h7v1h-7zM0 65h7v1h-7z"/><path fill="#374daf" d="M58 0h8v1h-8zM58 1h8v1h-8zM57 2h3v1h-3zM63 2h3v1h-3zM57 3h1v1h-1zM56 4h2v1h-2zM56 5h1v1h-1zM56 6h1v1h-1zM56 7h1v1h-1zM56 8h1v1h-1zM56 9h1v1h-1zM57 10h1v1h-1zM57 11h2v1h-2zM59 12h5v1h-5zM0 18h4v1h-4zM11 21h1v1h-1zM11 28h1v1h-1zM9 30h1v1h-1zM56 35h1v1h-1zM54 37h1v1h-1zM54 44h1v1h-1zM62 47h4v1h-4zM0 53h2v1h-2zM5 53h3v1h-3zM7 54h2v1h-2zM8 55h1v1h-1zM9 56h1v1h-1zM9 57h1v1h-1zM9 58h1v1h-1zM9 59h1v1h-1zM8 60h2v1h-2zM8 61h1v1h-1zM6 62h3v1h-3zM0 63h7v1h-7z"/><path fill="#d0e044" d="M3 2h1v1h-1zM12 2h1v1h-1zM34 4h1v1h-1zM17 5h1v1h-1zM33 5h1v1h-1zM47 5h1v1h-1zM18 8h1v1h-1zM18 9h1v1h-1zM15 13h1v1h-1zM4 14h1v1h-1zM12 14h1v1h-1zM37 15h1v1h-1zM43 15h1v1h-1zM30 19h1v1h-1zM51 19h1v1h-1zM31 20h1v1h-1zM49 20h1v1h-1zM19 21h1v1h-1zM48 21h1v1h-1zM32 22h1v1h-1zM47 23h1v1h-1zM47 25h1v1h-1zM52 30h1v1h-1zM63 30h1v1h-1zM25 31h1v1h-1zM40 34h1v1h-1zM2 35h1v1h-1zM13 35h1v1h-1zM18 40h1v1h-1zM18 42h1v1h-1zM33 43h1v1h-1zM17 44h1v1h-1zM46 44h1v1h-1zM16 45h1v1h-1zM34 45h1v1h-1zM2 46h1v1h-1zM14 46h1v1h-1zM35 46h1v1h-1zM22 50h1v1h-1zM28 50h1v1h-1zM53 51h1v1h-1zM61 51h1v1h-1zM50 52h1v1h-1zM47 56h1v1h-1zM47 57h1v1h-1zM32 60h1v1h-1zM48 60h1v1h-1zM19 61h1v1h-1zM31 61h1v1h-1zM53 63h1v1h-1zM62 63h1v1h-1z"/><path fill="#d6e041" d="M4 2h2v1h-2zM11 2h1v1h-1zM0 3h2v1h-2zM14 3h1v1h-1zM36 3h1v1h-1zM44 3h1v1h-1zM16 4h1v1h-1zM46 4h1v1h-1zM17 11h1v1h-1zM16 12h1v1h-1zM33 12h1v1h-1zM0 13h2v1h-2zM5 14h1v1h-1zM11 14h1v1h-1zM35 14h1v1h-1zM38 15h5v1h-5zM23 18h1v1h-1zM26 18h2v1h-2zM63 19h1v1h-1zM32 23h1v1h-1zM32 24h1v1h-1zM47 24h1v1h-1zM32 25h1v1h-1zM32 26h1v1h-1zM20 29h1v1h-1zM50 29h1v1h-1zM21 30h1v1h-1zM29 30h1v1h-1zM62 30h1v1h-1zM3 35h1v1h-1zM36 35h1v1h-1zM44 35h1v1h-1zM15 36h1v1h-1zM45 36h1v1h-1zM33 39h1v1h-1zM33 40h1v1h-1zM18 41h1v1h-1zM33 41h1v1h-1zM33 42h1v1h-1zM3 46h1v1h-1zM13 46h1v1h-1zM38 47h2v1h-2zM42 47h1v1h-1zM23 50h5v1h-5zM30 51h1v1h-1zM54 51h1v1h-1zM60 51h1v1h-1zM64 52h2v1h-2zM18 53h1v1h-1zM32 53h1v1h-1zM49 53h1v1h-1zM48 54h1v1h-1zM49 61h1v1h-1zM21 62h1v1h-1zM29 62h1v1h-1zM51 62h1v1h-1zM64 62h2v1h-2zM54 63h1v1h-1zM60 63h2v1h-2z"/><path fill="#dce040" d="M6 2h2v1h-2zM9 2h2v1h-2zM2 3h1v1h-1zM17 6h1v1h-1zM33 6h1v1h-1zM47 6h1v1h-1zM47 12h1v1h-1zM14 13h1v1h-1zM34 13h1v1h-1zM6 14h5v1h-5zM45 14h1v1h-1zM24 18h2v1h-2zM21 19h1v1h-1zM52 19h1v1h-1zM50 20h1v1h-1zM19 27h1v1h-1zM48 27h1v1h-1zM31 28h1v1h-1zM49 28h1v1h-1zM64 29h2v1h-2zM53 30h1v1h-1zM61 30h1v1h-1zM4 35h1v1h-1zM12 35h1v1h-1zM0 36h2v1h-2zM16 37h1v1h-1zM34 37h1v1h-1zM17 38h1v1h-1zM46 38h1v1h-1zM15 45h1v1h-1zM12 46h1v1h-1zM44 46h1v1h-1zM40 47h2v1h-2zM20 51h1v1h-1zM55 51h5v1h-5zM31 52h1v1h-1zM51 52h1v1h-1zM18 59h1v1h-1zM32 59h1v1h-1zM48 59h1v1h-1zM63 62h1v1h-1zM55 63h2v1h-2zM58 63h2v1h-2z"/><path fill="#e2e040" d="M8 2h1v1h-1zM13 3h1v1h-1zM37 3h1v1h-1zM43 3h1v1h-1zM15 4h1v1h-1zM35 4h1v1h-1zM17 10h1v1h-1zM33 11h1v1h-1zM2 13h1v1h-1zM46 13h1v1h-1zM29 19h1v1h-1zM53 19h1v1h-1zM62 19h1v1h-1zM20 20h1v1h-1zM31 21h1v1h-1zM49 21h1v1h-1zM19 22h1v1h-1zM48 22h1v1h-1zM19 26h1v1h-1zM30 29h1v1h-1zM51 29h1v1h-1zM22 30h1v1h-1zM28 30h1v1h-1zM54 30h1v1h-1zM60 30h1v1h-1zM5 35h1v1h-1zM11 35h1v1h-1zM37 35h1v1h-1zM43 35h1v1h-1zM14 36h1v1h-1zM35 36h1v1h-1zM46 39h1v1h-1zM17 43h1v1h-1zM46 43h1v1h-1zM16 44h1v1h-1zM34 44h1v1h-1zM0 45h2v1h-2zM45 45h1v1h-1zM4 46h1v1h-1zM36 46h1v1h-1zM19 52h1v1h-1zM63 52h1v1h-1zM18 54h1v1h-1zM32 54h1v1h-1zM48 55h1v1h-1zM18 58h1v1h-1zM30 61h1v1h-1zM50 61h1v1h-1zM22 62h1v1h-1zM28 62h1v1h-1zM52 62h1v1h-1zM57 63h1v1h-1z"/><path fill="#cbe047" d="M13 2h1v1h-1zM39 2h4v1h-4zM15 3h1v1h-1zM35 3h1v1h-1zM45 3h1v1h-1zM18 7h1v1h-1zM32 7h1v1h-1zM32 8h1v1h-1zM48 8h1v1h-1zM32 9h1v1h-1zM48 9h1v1h-1zM18 10h1v1h-1zM32 10h1v1h-1zM48 10h1v1h-1zM33 13h1v1h-1zM47 13h1v1h-1zM3 14h1v1h-1zM13 14h1v1h-1zM34 14h1v1h-1zM46 14h1v1h-1zM44 15h1v1h-1zM22 18h1v1h-1zM28 18h1v1h-1zM55 18h5v1h-5zM20 19h1v1h-1zM50 19h1v1h-1zM64 19h2v1h-2zM47 22h1v1h-1zM47 26h1v1h-1zM32 27h1v1h-1zM19 28h1v1h-1zM48 28h1v1h-1zM31 29h1v1h-1zM49 29h1v1h-1zM30 30h1v1h-1zM51 30h1v1h-1zM23 31h2v1h-2zM26 31h2v1h-2zM38 34h2v1h-2zM41 34h2v1h-2zM14 35h1v1h-1zM35 35h1v1h-1zM16 36h1v1h-1zM34 36h1v1h-1zM17 37h1v1h-1zM46 37h1v1h-1zM33 38h1v1h-1zM18 39h1v1h-1zM18 43h1v1h-1zM45 46h1v1h-1zM37 47h1v1h-1zM43 47h1v1h-1zM21 50h1v1h-1zM19 51h1v1h-1zM31 51h1v1h-1zM52 51h1v1h-1zM62 51h1v1h-1zM32 52h1v1h-1zM33 55h1v1h-1zM47 55h1v1h-1zM33 56h1v1h-1zM33 57h1v1h-1zM33 58h1v1h-1zM47 58h1v1h-1zM18 60h1v1h-1zM20 62h1v1h-1zM30 62h1v1h-1zM50 62h1v1h-1zM23 63h4v1h-4zM52 63h1v1h-1z"/><path fill="#8bdcb3" d="M49 2h1v1h-1zM21 4h1v1h-1zM29 6h1v1h-1zM23 7h1v1h-1zM29 7h1v1h-1zM50 7h1v1h-1zM23 8h1v1h-1zM29 8h1v1h-1zM50 8h1v1h-1zM23 9h1v1h-1zM23 10h1v1h-1zM29 10h1v1h-1zM50 10h1v1h-1zM22 11h1v1h-1zM29 11h1v1h-1zM50 11h1v1h-1zM22 12h1v1h-1zM29 12h1v1h-1zM50 12h1v1h-1zM22 13h1v1h-1zM29 13h1v1h-1zM22 14h1v1h-1zM29 14h1v1h-1zM50 14h1v1h-1zM15 16h1v1h-1zM53 16h1v1h-1zM17 17h1v1h-1zM37 18h1v1h-1zM17 19h1v1h-1zM36 19h1v1h-1zM44 24h1v1h-1zM44 25h1v1h-1zM17 30h1v1h-1zM36 30h1v1h-1zM17 31h1v1h-1zM63 32h3v1h-3zM0 33h3v1h-3zM48 34h1v1h-1zM29 35h1v1h-1zM48 35h1v1h-1zM21 40h1v1h-1zM21 41h1v1h-1zM29 46h1v1h-1zM48 46h1v1h-1zM28 47h1v1h-1zM2 48h1v1h-1zM48 48h1v1h-1zM50 49h1v1h-1zM36 51h1v1h-1zM43 51h1v1h-1zM36 52h1v1h-1zM43 52h1v1h-1zM36 53h1v1h-1zM43 53h1v1h-1zM36 54h1v1h-1zM43 54h1v1h-1zM36 55h1v1h-1zM42 55h1v1h-1zM42 56h1v1h-1zM36 57h1v1h-1zM42 57h1v1h-1zM36 58h1v1h-1zM42 58h1v1h-1zM36 59h1v1h-1zM44 61h1v1h-1zM17 64h1v1h-1zM17 65h1v1h-1z"/><path fill="#80d8d7" d="M50 2h1v1h-1zM22 3h1v1h-1zM50 3h1v1h-1zM23 4h1v1h-1zM27 4h1v1h-1zM25 5h3v1h-3zM51 14h1v1h-1zM52 15h1v1h-1zM6 16h4v1h-4zM64 16h2v1h-2zM16 18h1v1h-1zM16 19h1v1h-1zM38 19h1v1h-1zM42 19h1v1h-1zM37 20h1v1h-1zM43 20h1v1h-1zM37 21h1v1h-1zM43 21h1v1h-1zM43 22h1v1h-1zM43 23h1v1h-1zM43 24h1v1h-1zM43 25h1v1h-1zM43 26h1v1h-1zM16 29h1v1h-1zM37 29h1v1h-1zM16 30h1v1h-1zM43 30h1v1h-1zM14 32h1v1h-1zM51 33h1v1h-1zM22 35h1v1h-1zM49 35h1v1h-1zM28 36h1v1h-1zM49 36h1v1h-1zM22 39h1v1h-1zM22 40h1v1h-1zM22 41h1v1h-1zM22 42h1v1h-1zM22 43h1v1h-1zM22 44h1v1h-1zM28 44h1v1h-1zM22 45h1v1h-1zM28 45h1v1h-1zM23 46h1v1h-1zM27 46h1v1h-1zM49 46h1v1h-1zM49 47h1v1h-1zM10 49h2v1h-2zM56 49h4v1h-4zM14 50h1v1h-1zM38 60h3v1h-3zM15 61h1v1h-1zM38 61h1v1h-1zM42 61h1v1h-1zM43 62h1v1h-1z"/><path fill="#364bae" d="M60 2h3v1h-3zM58 3h8v1h-8zM58 4h1v1h-1zM64 4h2v1h-2zM57 5h1v1h-1zM57 6h1v1h-1zM57 7h1v1h-1zM57 8h1v1h-1zM57 9h1v1h-1zM58 10h1v1h-1zM64 10h2v1h-2zM59 11h7v1h-7zM8 19h2v1h-2zM10 20h1v1h-1zM11 22h1v1h-1zM11 23h1v1h-1zM11 24h1v1h-1zM11 25h1v1h-1zM11 26h1v1h-1zM11 27h1v1h-1zM10 29h1v1h-1zM0 30h2v1h-2zM7 30h2v1h-2zM57 35h2v1h-2zM64 35h2v1h-2zM55 36h1v1h-1zM54 38h1v1h-1zM54 39h1v1h-1zM54 40h1v1h-1zM54 41h1v1h-1zM54 42h1v1h-1zM54 43h1v1h-1zM55 45h1v1h-1zM56 46h2v1h-2zM2 53h3v1h-3zM0 54h2v1h-2zM6 54h1v1h-1zM7 55h1v1h-1zM8 56h1v1h-1zM8 57h1v1h-1zM8 58h1v1h-1zM7 59h2v1h-2zM7 60h1v1h-1zM0 61h2v1h-2zM6 61h2v1h-2zM0 62h6v1h-6z"/><path fill="#e8e040" d="M3 3h1v1h-1zM38 3h1v1h-1zM42 3h1v1h-1zM0 4h2v1h-2zM45 4h1v1h-1zM16 5h1v1h-1zM34 5h1v1h-1zM46 5h1v1h-1zM17 7h1v1h-1zM33 7h1v1h-1zM47 7h1v1h-1zM17 8h1v1h-1zM17 9h1v1h-1zM16 11h1v1h-1zM47 11h1v1h-1zM15 12h1v1h-1zM13 13h1v1h-1zM36 14h1v1h-1zM44 14h1v1h-1zM54 19h1v1h-1zM61 19h1v1h-1zM30 20h1v1h-1zM64 20h2v1h-2zM19 23h1v1h-1zM48 23h1v1h-1zM19 24h1v1h-1zM19 25h1v1h-1zM48 26h1v1h-1zM31 27h1v1h-1zM63 29h1v1h-1zM55 30h2v1h-2zM59 30h1v1h-1zM6 35h1v1h-1zM9 35h2v1h-2zM2 36h1v1h-1zM34 38h1v1h-1zM17 39h1v1h-1zM46 40h1v1h-1zM46 41h1v1h-1zM17 42h1v1h-1zM46 42h1v1h-1zM14 45h1v1h-1zM35 45h1v1h-1zM5 46h1v1h-1zM10 46h2v1h-2zM21 51h1v1h-1zM29 51h1v1h-1zM52 52h1v1h-1zM50 53h1v1h-1zM49 54h1v1h-1zM18 55h1v1h-1zM48 56h1v1h-1zM18 57h1v1h-1zM48 57h1v1h-1zM32 58h1v1h-1zM48 58h1v1h-1zM19 60h1v1h-1zM31 60h1v1h-1zM49 60h1v1h-1zM20 61h1v1h-1zM64 61h2v1h-2zM23 62h1v1h-1zM27 62h1v1h-1zM62 62h1v1h-1z"/><path fill="#eddc3f" d="M4 3h1v1h-1zM12 3h1v1h-1zM39 3h3v1h-3zM14 4h1v1h-1zM33 8h1v1h-1zM47 8h1v1h-1zM33 9h1v1h-1zM47 9h1v1h-1zM33 10h1v1h-1zM47 10h1v1h-1zM0 12h2v1h-2zM3 13h1v1h-1zM22 19h1v1h-1zM28 19h1v1h-1zM55 19h1v1h-1zM60 19h1v1h-1zM51 20h1v1h-1zM31 22h1v1h-1zM48 24h1v1h-1zM48 25h1v1h-1zM49 27h1v1h-1zM20 28h1v1h-1zM50 28h1v1h-1zM52 29h1v1h-1zM23 30h1v1h-1zM27 30h1v1h-1zM57 30h2v1h-2zM7 35h2v1h-2zM38 35h1v1h-1zM42 35h1v1h-1zM13 36h1v1h-1zM15 37h1v1h-1zM45 37h1v1h-1zM16 38h1v1h-1zM17 40h1v1h-1zM17 41h1v1h-1zM34 43h1v1h-1zM6 46h4v1h-4zM37 46h1v1h-1zM43 46h1v1h-1zM62 52h1v1h-1zM64 53h2v1h-2zM32 55h1v1h-1zM18 56h1v1h-1zM32 56h1v1h-1zM32 57h1v1h-1zM51 61h1v1h-1zM24 62h3v1h-3zM53 62h1v1h-1zM61 62h1v1h-1z"/><path fill="#f0bf35" d="M5 3h1v1h-1zM10 3h1v1h-1zM2 4h1v1h-1zM44 4h1v1h-1zM15 5h1v1h-1zM34 6h1v1h-1zM46 6h1v1h-1zM16 10h1v1h-1zM15 11h1v1h-1zM11 13h1v1h-1zM45 13h1v1h-1zM38 14h1v1h-1zM42 14h1v1h-1zM23 19h1v1h-1zM27 19h1v1h-1zM21 20h1v1h-1zM29 20h1v1h-1zM52 20h1v1h-1zM30 21h1v1h-1zM31 24h1v1h-1zM49 26h1v1h-1zM51 28h1v1h-1zM53 29h1v1h-1zM12 36h1v1h-1zM14 37h1v1h-1zM16 39h1v1h-1zM34 41h1v1h-1zM35 44h1v1h-1zM36 45h1v1h-1zM44 45h1v1h-1zM38 46h1v1h-1zM42 46h1v1h-1zM23 51h1v1h-1zM27 51h1v1h-1zM20 52h1v1h-1zM54 52h1v1h-1zM50 54h1v1h-1zM49 55h1v1h-1zM19 59h1v1h-1zM31 59h1v1h-1zM50 60h1v1h-1zM21 61h1v1h-1zM63 61h1v1h-1zM55 62h1v1h-1zM60 62h1v1h-1z"/><path fill="#f0b331" d="M6 3h4v1h-4zM13 4h1v1h-1zM37 4h1v1h-1zM0 5h2v1h-2zM35 5h1v1h-1zM45 5h1v1h-1zM16 7h1v1h-1zM16 9h1v1h-1zM34 11h1v1h-1zM2 12h1v1h-1zM5 13h1v1h-1zM10 13h1v1h-1zM39 14h3v1h-3zM24 19h3v1h-3zM62 20h1v1h-1zM64 21h2v1h-2zM49 23h1v1h-1zM20 27h1v1h-1zM50 27h1v1h-1zM54 29h1v1h-1zM61 29h1v1h-1zM4 36h1v1h-1zM11 36h1v1h-1zM15 38h1v1h-1zM45 38h1v1h-1zM16 42h1v1h-1zM0 44h2v1h-2zM3 45h1v1h-1zM12 45h1v1h-1zM39 46h3v1h-3zM24 51h3v1h-3zM55 52h1v1h-1zM60 52h1v1h-1zM63 53h1v1h-1zM19 54h1v1h-1zM31 54h1v1h-1zM49 56h1v1h-1zM49 58h1v1h-1zM20 60h1v1h-1zM30 60h1v1h-1zM64 60h2v1h-2zM28 61h1v1h-1zM52 61h1v1h-1zM56 62h4v1h-4z"/><path fill="#efcc39" d="M11 3h1v1h-1zM36 4h1v1h-1zM16 6h1v1h-1zM14 12h1v1h-1zM34 12h1v1h-1zM46 12h1v1h-1zM4 13h1v1h-1zM12 13h1v1h-1zM35 13h1v1h-1zM37 14h1v1h-1zM43 14h1v1h-1zM56 19h4v1h-4zM63 20h1v1h-1zM20 21h1v1h-1zM50 21h1v1h-1zM49 22h1v1h-1zM31 23h1v1h-1zM31 25h1v1h-1zM31 26h1v1h-1zM30 28h1v1h-1zM64 28h2v1h-2zM21 29h1v1h-1zM29 29h1v1h-1zM62 29h1v1h-1zM24 30h3v1h-3zM39 35h3v1h-3zM3 36h1v1h-1zM36 36h1v1h-1zM44 36h1v1h-1zM0 37h2v1h-2zM35 37h1v1h-1zM34 39h1v1h-1zM34 40h1v1h-1zM34 42h1v1h-1zM16 43h1v1h-1zM15 44h1v1h-1zM45 44h1v1h-1zM2 45h1v1h-1zM13 45h1v1h-1zM22 51h1v1h-1zM28 51h1v1h-1zM30 52h1v1h-1zM53 52h1v1h-1zM61 52h1v1h-1zM19 53h1v1h-1zM31 53h1v1h-1zM51 53h1v1h-1zM49 59h1v1h-1zM29 61h1v1h-1zM54 62h1v1h-1z"/><path fill="#70c8e0" d="M23 3h1v1h-1zM51 6h1v1h-1zM51 7h1v1h-1zM54 15h1v1h-1zM2 16h2v1h-2zM38 20h1v1h-1zM41 20h2v1h-2zM42 21h1v1h-1zM42 22h1v1h-1zM42 23h1v1h-1zM42 24h1v1h-1zM42 25h1v1h-1zM42 26h1v1h-1zM42 27h1v1h-1zM42 28h1v1h-1zM38 29h1v1h-1zM42 29h1v1h-1zM39 30h2v1h-2zM15 31h1v1h-1zM11 32h2v1h-2zM53 33h2v1h-2zM50 34h1v1h-1zM25 35h2v1h-2zM23 36h1v1h-1zM27 36h1v1h-1zM23 37h1v1h-1zM23 38h1v1h-1zM23 39h1v1h-1zM23 40h1v1h-1zM23 41h1v1h-1zM23 42h1v1h-1zM23 43h1v1h-1zM23 44h1v1h-1zM23 45h2v1h-2zM27 45h1v1h-1zM3 49h2v1h-2zM62 49h2v1h-2zM14 51h1v1h-1zM42 62h1v1h-1zM15 63h1v1h-1zM15 64h1v1h-1zM15 65h1v1h-1z"/><path fill="#f0a82d" d="M3 4h1v1h-1zM43 4h1v1h-1zM14 5h1v1h-1zM34 7h1v1h-1zM46 7h1v1h-1zM16 8h1v1h-1zM34 10h1v1h-1zM0 11h2v1h-2zM46 11h1v1h-1zM13 12h1v1h-1zM6 13h4v1h-4zM36 13h1v1h-1zM44 13h1v1h-1zM53 20h1v1h-1zM51 21h1v1h-1zM20 22h1v1h-1zM50 22h1v1h-1zM49 24h1v1h-1zM49 25h1v1h-1zM20 26h1v1h-1zM30 27h1v1h-1zM63 28h1v1h-1zM22 29h1v1h-1zM28 29h1v1h-1zM55 29h1v1h-1zM60 29h1v1h-1zM5 36h1v1h-1zM10 36h1v1h-1zM37 36h1v1h-1zM43 36h1v1h-1zM2 37h1v1h-1zM35 38h1v1h-1zM45 39h1v1h-1zM16 40h1v1h-1zM16 41h1v1h-1zM15 43h1v1h-1zM45 43h1v1h-1zM14 44h1v1h-1zM4 45h1v1h-1zM21 52h1v1h-1zM29 52h1v1h-1zM56 52h4v1h-4zM52 53h1v1h-1zM64 54h2v1h-2zM31 55h1v1h-1zM49 57h1v1h-1zM19 58h1v1h-1zM31 58h1v1h-1zM51 60h1v1h-1zM22 61h1v1h-1zM62 61h1v1h-1z"/><path fill="#f09427" d="M4 4h1v1h-1zM11 4h1v1h-1zM39 4h3v1h-3zM2 5h1v1h-1zM36 5h1v1h-1zM44 5h1v1h-1zM35 6h1v1h-1zM46 9h1v1h-1zM12 12h1v1h-1zM37 13h1v1h-1zM60 20h1v1h-1zM21 21h1v1h-1zM29 21h1v1h-1zM52 21h1v1h-1zM64 22h2v1h-2zM30 23h1v1h-1zM50 23h1v1h-1zM30 25h1v1h-1zM30 26h1v1h-1zM50 26h1v1h-1zM51 27h1v1h-1zM62 28h1v1h-1zM23 29h1v1h-1zM26 29h1v1h-1zM57 29h1v1h-1zM8 36h1v1h-1zM39 36h1v1h-1zM42 36h1v1h-1zM3 37h1v1h-1zM14 38h1v1h-1zM15 39h1v1h-1zM35 39h1v1h-1zM35 40h1v1h-1zM15 42h1v1h-1zM35 42h1v1h-1zM0 43h2v1h-2zM13 44h1v1h-1zM36 44h1v1h-1zM44 44h1v1h-1zM5 45h1v1h-1zM10 45h1v1h-1zM28 52h1v1h-1zM53 53h1v1h-1zM20 59h1v1h-1zM30 59h1v1h-1zM21 60h1v1h-1zM29 60h1v1h-1zM63 60h1v1h-1zM24 61h3v1h-3zM54 61h1v1h-1zM61 61h1v1h-1z"/><path fill="#f08a24" d="M5 4h1v1h-1zM13 5h1v1h-1zM0 6h2v1h-2zM45 6h1v1h-1zM15 7h1v1h-1zM15 8h1v1h-1zM15 9h1v1h-1zM0 10h2v1h-2zM2 11h1v1h-1zM35 11h1v1h-1zM4 12h1v1h-1zM43 13h1v1h-1zM23 20h1v1h-1zM27 20h1v1h-1zM55 20h1v1h-1zM59 20h1v1h-1zM51 22h1v1h-1zM30 24h1v1h-1zM50 24h1v1h-1zM50 25h1v1h-1zM21 27h1v1h-1zM53 28h1v1h-1zM24 29h2v1h-2zM40 36h2v1h-2zM12 37h1v1h-1zM44 38h1v1h-1zM15 40h1v1h-1zM15 41h1v1h-1zM35 41h1v1h-1zM14 43h1v1h-1zM6 45h1v1h-1zM9 45h1v1h-1zM38 45h1v1h-1zM42 45h1v1h-1zM22 52h1v1h-1zM61 53h1v1h-1zM30 54h1v1h-1zM63 54h1v1h-1zM64 55h2v1h-2zM50 56h1v1h-1zM50 57h1v1h-1zM50 58h1v1h-1zM64 59h2v1h-2zM52 60h1v1h-1zM60 61h1v1h-1z"/><path fill="#ee7620" d="M6 4h4v1h-4zM3 5h1v1h-1zM36 6h1v1h-1zM0 7h2v1h-2zM45 7h1v1h-1zM35 8h1v1h-1zM0 9h2v1h-2zM35 9h1v1h-1zM35 10h1v1h-1zM45 10h1v1h-1zM5 12h1v1h-1zM10 12h1v1h-1zM39 13h3v1h-3zM22 21h1v1h-1zM28 21h1v1h-1zM53 21h1v1h-1zM29 22h1v1h-1zM63 22h1v1h-1zM64 23h2v1h-2zM64 25h2v1h-2zM21 26h1v1h-1zM51 26h1v1h-1zM52 27h1v1h-1zM54 28h1v1h-1zM11 37h1v1h-1zM13 38h1v1h-1zM14 39h1v1h-1zM44 39h1v1h-1zM0 40h2v1h-2zM0 42h2v1h-2zM2 43h1v1h-1zM36 43h1v1h-1zM12 44h1v1h-1zM37 44h1v1h-1zM43 44h1v1h-1zM24 52h3v1h-3zM55 53h1v1h-1zM60 53h1v1h-1zM20 55h1v1h-1zM30 55h1v1h-1zM30 56h1v1h-1zM64 56h2v1h-2zM30 57h1v1h-1zM20 58h1v1h-1zM64 58h2v1h-2zM29 59h1v1h-1zM62 60h1v1h-1zM56 61h4v1h-4z"/><path fill="#f08120" d="M10 4h1v1h-1zM37 5h1v1h-1zM43 5h1v1h-1zM14 6h1v1h-1zM35 7h1v1h-1zM14 10h1v1h-1zM13 11h1v1h-1zM45 11h1v1h-1zM11 12h1v1h-1zM36 12h1v1h-1zM44 12h1v1h-1zM38 13h1v1h-1zM42 13h1v1h-1zM24 20h3v1h-3zM56 20h3v1h-3zM62 21h1v1h-1zM21 22h1v1h-1zM64 26h2v1h-2zM29 27h1v1h-1zM63 27h1v1h-1zM22 28h1v1h-1zM28 28h1v1h-1zM61 28h1v1h-1zM4 37h1v1h-1zM37 37h1v1h-1zM43 37h1v1h-1zM2 38h1v1h-1zM36 38h1v1h-1zM0 39h2v1h-2zM44 43h1v1h-1zM3 44h1v1h-1zM7 45h2v1h-2zM39 45h3v1h-3zM23 52h1v1h-1zM27 52h1v1h-1zM21 53h1v1h-1zM29 53h1v1h-1zM54 53h1v1h-1zM20 54h1v1h-1zM52 54h1v1h-1zM51 55h1v1h-1zM30 58h1v1h-1zM51 59h1v1h-1zM22 60h1v1h-1zM28 60h1v1h-1zM55 61h1v1h-1z"/><path fill="#f09e2a" d="M12 4h1v1h-1zM38 4h1v1h-1zM42 4h1v1h-1zM15 6h1v1h-1zM34 8h1v1h-1zM46 8h1v1h-1zM34 9h1v1h-1zM15 10h1v1h-1zM46 10h1v1h-1zM14 11h1v1h-1zM3 12h1v1h-1zM35 12h1v1h-1zM45 12h1v1h-1zM22 20h1v1h-1zM28 20h1v1h-1zM54 20h1v1h-1zM61 20h1v1h-1zM63 21h1v1h-1zM30 22h1v1h-1zM20 23h1v1h-1zM20 24h1v1h-1zM20 25h1v1h-1zM64 27h2v1h-2zM21 28h1v1h-1zM29 28h1v1h-1zM52 28h1v1h-1zM27 29h1v1h-1zM56 29h1v1h-1zM58 29h2v1h-2zM6 36h2v1h-2zM9 36h1v1h-1zM38 36h1v1h-1zM13 37h1v1h-1zM36 37h1v1h-1zM44 37h1v1h-1zM0 38h2v1h-2zM45 40h1v1h-1zM45 41h1v1h-1zM45 42h1v1h-1zM35 43h1v1h-1zM2 44h1v1h-1zM11 45h1v1h-1zM37 45h1v1h-1zM43 45h1v1h-1zM20 53h1v1h-1zM30 53h1v1h-1zM62 53h1v1h-1zM51 54h1v1h-1zM19 55h1v1h-1zM50 55h1v1h-1zM19 56h1v1h-1zM31 56h1v1h-1zM19 57h1v1h-1zM31 57h1v1h-1zM50 59h1v1h-1zM23 61h1v1h-1zM27 61h1v1h-1zM53 61h1v1h-1z"/><path fill="#3549ad" d="M59 4h5v1h-5zM58 5h1v1h-1zM64 5h2v1h-2zM58 6h1v1h-1zM64 6h2v1h-2zM58 8h1v1h-1zM64 8h2v1h-2zM58 9h1v1h-1zM64 9h2v1h-2zM59 10h1v1h-1zM63 10h1v1h-1zM0 19h3v1h-3zM6 19h2v1h-2zM10 21h1v1h-1zM10 28h1v1h-1zM9 29h1v1h-1zM2 30h5v1h-5zM59 35h5v1h-5zM56 36h1v1h-1zM55 37h1v1h-1zM55 44h1v1h-1zM58 46h2v1h-2zM63 46h3v1h-3zM2 54h4v1h-4zM0 55h2v1h-2zM6 55h1v1h-1zM7 56h1v1h-1zM7 57h1v1h-1zM7 58h1v1h-1zM6 59h1v1h-1zM0 60h2v1h-2zM5 60h2v1h-2zM2 61h4v1h-4z"/><path fill="#e86020" d="M4 5h1v1h-1zM39 5h3v1h-3zM13 6h1v1h-1zM36 7h1v1h-1zM14 8h1v1h-1zM14 9h1v1h-1zM12 11h1v1h-1zM36 11h1v1h-1zM44 11h1v1h-1zM43 12h1v1h-1zM23 21h1v1h-1zM27 21h1v1h-1zM54 21h1v1h-1zM29 24h1v1h-1zM51 24h1v1h-1zM29 25h1v1h-1zM51 25h1v1h-1zM63 26h1v1h-1zM22 27h1v1h-1zM28 27h1v1h-1zM24 28h3v1h-3zM56 28h1v1h-1zM59 28h1v1h-1zM6 37h1v1h-1zM9 37h1v1h-1zM39 37h3v1h-3zM37 38h1v1h-1zM43 38h1v1h-1zM2 39h1v1h-1zM14 40h1v1h-1zM36 40h1v1h-1zM14 41h1v1h-1zM36 41h1v1h-1zM11 44h1v1h-1zM38 44h1v1h-1zM42 44h1v1h-1zM22 53h1v1h-1zM21 54h1v1h-1zM29 54h1v1h-1zM53 54h1v1h-1zM51 56h1v1h-1zM51 57h1v1h-1zM29 58h1v1h-1zM52 59h1v1h-1zM24 60h3v1h-3zM61 60h1v1h-1z"/><path fill="#e04820" d="M5 5h1v1h-1zM3 6h1v1h-1zM38 6h1v1h-1zM42 6h1v1h-1zM2 8h1v1h-1zM44 8h1v1h-1zM2 9h1v1h-1zM36 9h1v1h-1zM44 9h1v1h-1zM44 10h1v1h-1zM11 11h1v1h-1zM37 11h1v1h-1zM43 11h1v1h-1zM39 12h3v1h-3zM59 21h1v1h-1zM23 22h1v1h-1zM27 22h1v1h-1zM53 22h1v1h-1zM22 23h1v1h-1zM28 23h1v1h-1zM52 23h1v1h-1zM22 24h1v1h-1zM28 24h1v1h-1zM63 24h1v1h-1zM22 25h1v1h-1zM28 25h1v1h-1zM63 25h1v1h-1zM28 26h1v1h-1zM23 27h1v1h-1zM27 27h1v1h-1zM61 27h1v1h-1zM4 38h1v1h-1zM38 38h1v1h-1zM42 38h1v1h-1zM37 39h1v1h-1zM2 40h1v1h-1zM37 40h1v1h-1zM43 40h1v1h-1zM2 41h1v1h-1zM37 41h1v1h-1zM43 41h1v1h-1zM13 42h1v1h-1zM37 42h1v1h-1zM43 42h1v1h-1zM12 43h1v1h-1zM38 43h1v1h-1zM42 43h1v1h-1zM6 44h1v1h-1zM24 53h3v1h-3zM22 54h1v1h-1zM28 54h1v1h-1zM54 54h1v1h-1zM21 55h1v1h-1zM21 56h1v1h-1zM29 56h1v1h-1zM63 56h1v1h-1zM21 57h1v1h-1zM63 57h1v1h-1zM23 59h1v1h-1zM27 59h1v1h-1zM62 59h1v1h-1zM60 60h1v1h-1z"/><path fill="#dd4020" d="M6 5h1v1h-1zM10 5h1v1h-1zM12 6h1v1h-1zM39 6h3v1h-3zM13 7h1v1h-1zM37 7h1v1h-1zM43 7h1v1h-1zM13 9h1v1h-1zM3 10h1v1h-1zM37 10h1v1h-1zM5 11h1v1h-1zM38 11h1v1h-1zM56 21h3v1h-3zM24 22h1v1h-1zM26 22h1v1h-1zM52 25h1v1h-1zM23 26h1v1h-1zM27 26h1v1h-1zM62 26h1v1h-1zM24 27h3v1h-3zM54 27h1v1h-1zM11 38h1v1h-1zM39 38h3v1h-3zM3 39h1v1h-1zM38 39h1v1h-1zM42 39h1v1h-1zM13 40h1v1h-1zM39 43h1v1h-1zM41 43h1v1h-1zM7 44h3v1h-3zM27 54h1v1h-1zM60 54h1v1h-1zM28 55h1v1h-1zM62 55h1v1h-1zM52 56h1v1h-1zM22 58h1v1h-1zM28 58h1v1h-1zM52 58h1v1h-1zM24 59h3v1h-3zM53 59h1v1h-1zM55 60h1v1h-1zM59 60h1v1h-1z"/><path fill="#da3720" d="M7 5h3v1h-3zM38 7h1v1h-1zM42 7h1v1h-1zM13 8h1v1h-1zM37 8h1v1h-1zM43 8h1v1h-1zM37 9h1v1h-1zM43 9h1v1h-1zM12 10h1v1h-1zM43 10h1v1h-1zM6 11h1v1h-1zM10 11h1v1h-1zM39 11h4v1h-4zM25 22h1v1h-1zM61 22h1v1h-1zM23 23h2v1h-2zM26 23h2v1h-2zM62 23h1v1h-1zM23 24h1v1h-1zM27 24h1v1h-1zM52 24h1v1h-1zM23 25h1v1h-1zM27 25h1v1h-1zM24 26h3v1h-3zM53 26h1v1h-1zM60 27h1v1h-1zM5 38h1v1h-1zM12 39h1v1h-1zM39 39h3v1h-3zM38 40h1v1h-1zM42 40h1v1h-1zM13 41h1v1h-1zM38 41h1v1h-1zM42 41h1v1h-1zM3 42h1v1h-1zM38 42h2v1h-2zM41 42h2v1h-2zM4 43h1v1h-1zM40 43h1v1h-1zM23 54h4v1h-4zM55 54h1v1h-1zM59 54h1v1h-1zM22 55h1v1h-1zM53 55h1v1h-1zM22 56h1v1h-1zM28 56h1v1h-1zM22 57h1v1h-1zM28 57h1v1h-1zM52 57h1v1h-1zM23 58h1v1h-1zM27 58h1v1h-1zM56 60h3v1h-3z"/><path fill="#e45420" d="M11 5h1v1h-1zM37 6h1v1h-1zM43 6h1v1h-1zM2 7h1v1h-1zM44 7h1v1h-1zM36 8h1v1h-1zM13 10h1v1h-1zM36 10h1v1h-1zM4 11h1v1h-1zM38 12h1v1h-1zM42 12h1v1h-1zM24 21h3v1h-3zM55 21h1v1h-1zM60 21h1v1h-1zM22 22h1v1h-1zM28 22h1v1h-1zM62 22h1v1h-1zM63 23h1v1h-1zM22 26h1v1h-1zM52 26h1v1h-1zM53 27h1v1h-1zM57 28h2v1h-2zM7 37h2v1h-2zM12 38h1v1h-1zM13 39h1v1h-1zM43 39h1v1h-1zM2 42h1v1h-1zM3 43h1v1h-1zM37 43h1v1h-1zM43 43h1v1h-1zM5 44h1v1h-1zM10 44h1v1h-1zM39 44h3v1h-3zM23 53h1v1h-1zM27 53h1v1h-1zM61 54h1v1h-1zM29 55h1v1h-1zM52 55h1v1h-1zM29 57h1v1h-1zM21 58h1v1h-1zM63 58h1v1h-1zM22 59h1v1h-1zM28 59h1v1h-1zM54 60h1v1h-1z"/><path fill="#eb6b20" d="M12 5h1v1h-1zM38 5h1v1h-1zM42 5h1v1h-1zM2 6h1v1h-1zM44 6h1v1h-1zM14 7h1v1h-1zM0 8h2v1h-2zM45 8h1v1h-1zM45 9h1v1h-1zM2 10h1v1h-1zM3 11h1v1h-1zM6 12h4v1h-4zM37 12h1v1h-1zM61 21h1v1h-1zM52 22h1v1h-1zM21 23h1v1h-1zM29 23h1v1h-1zM51 23h1v1h-1zM21 24h1v1h-1zM64 24h2v1h-2zM21 25h1v1h-1zM29 26h1v1h-1zM62 27h1v1h-1zM23 28h1v1h-1zM27 28h1v1h-1zM55 28h1v1h-1zM60 28h1v1h-1zM5 37h1v1h-1zM10 37h1v1h-1zM38 37h1v1h-1zM42 37h1v1h-1zM3 38h1v1h-1zM36 39h1v1h-1zM44 40h1v1h-1zM0 41h2v1h-2zM44 41h1v1h-1zM14 42h1v1h-1zM36 42h1v1h-1zM44 42h1v1h-1zM13 43h1v1h-1zM4 44h1v1h-1zM28 53h1v1h-1zM56 53h4v1h-4zM62 54h1v1h-1zM63 55h1v1h-1zM20 56h1v1h-1zM20 57h1v1h-1zM64 57h2v1h-2zM51 58h1v1h-1zM21 59h1v1h-1zM63 59h1v1h-1zM23 60h1v1h-1zM27 60h1v1h-1zM53 60h1v1h-1z"/><path fill="#3447ac" d="M59 5h5v1h-5zM59 6h1v1h-1zM63 6h1v1h-1zM58 7h2v1h-2zM63 7h3v1h-3zM59 8h1v1h-1zM63 8h1v1h-1zM59 9h2v1h-2zM62 9h2v1h-2zM60 10h3v1h-3zM3 19h3v1h-3zM9 20h1v1h-1zM10 22h1v1h-1zM10 27h1v1h-1zM8 29h1v1h-1zM57 36h1v1h-1zM55 38h1v1h-1zM55 43h1v1h-1zM56 45h1v1h-1zM60 46h3v1h-3zM2 55h4v1h-4zM0 56h2v1h-2zM5 56h2v1h-2zM0 57h2v1h-2zM6 57h1v1h-1zM0 58h2v1h-2zM6 58h1v1h-1zM0 59h3v1h-3zM5 59h1v1h-1zM2 60h3v1h-3z"/><path fill="#d83020" d="M4 6h1v1h-1zM11 6h1v1h-1zM3 7h1v1h-1zM39 7h3v1h-3zM38 8h2v1h-2zM41 8h2v1h-2zM3 9h1v1h-1zM38 9h1v1h-1zM42 9h1v1h-1zM4 10h1v1h-1zM38 10h5v1h-5zM7 11h3v1h-3zM54 22h1v1h-1zM25 23h1v1h-1zM53 23h1v1h-1zM24 24h3v1h-3zM24 25h3v1h-3zM62 25h1v1h-1zM55 27h1v1h-1zM59 27h1v1h-1zM6 38h1v1h-1zM10 38h1v1h-1zM3 40h1v1h-1zM39 40h3v1h-3zM39 41h3v1h-3zM12 42h1v1h-1zM40 42h1v1h-1zM11 43h1v1h-1zM56 54h3v1h-3zM23 55h5v1h-5zM61 55h1v1h-1zM23 56h1v1h-1zM27 56h1v1h-1zM62 56h1v1h-1zM23 57h2v1h-2zM26 57h2v1h-2zM24 58h3v1h-3zM62 58h1v1h-1zM54 59h1v1h-1zM61 59h1v1h-1z"/><path fill="#cf2c20" d="M5 6h1v1h-1zM10 6h1v1h-1zM12 8h1v1h-1zM55 22h1v1h-1zM59 22h1v1h-1zM61 23h1v1h-1zM53 24h1v1h-1zM53 25h1v1h-1zM54 26h1v1h-1zM11 39h1v1h-1zM12 40h1v1h-1zM12 41h1v1h-1zM4 42h1v1h-1zM6 43h1v1h-1zM10 43h1v1h-1zM53 57h1v1h-1zM55 59h1v1h-1zM60 59h1v1h-1z"/><path fill="#cb2a20" d="M6 6h1v1h-1zM4 7h1v1h-1zM4 9h1v1h-1zM5 10h1v1h-1zM10 10h1v1h-1zM56 22h3v1h-3zM54 23h1v1h-1zM61 25h1v1h-1zM60 26h1v1h-1zM5 39h1v1h-1zM4 40h1v1h-1zM11 42h1v1h-1zM7 43h3v1h-3zM55 55h1v1h-1zM60 55h1v1h-1zM61 56h1v1h-1zM61 58h1v1h-1zM59 59h1v1h-1z"/><path fill="#c62820" d="M7 6h3v1h-3zM11 7h1v1h-1zM4 8h1v1h-1zM11 9h1v1h-1zM6 10h1v1h-1zM61 24h1v1h-1zM54 25h1v1h-1zM55 26h1v1h-1zM10 39h1v1h-1zM11 40h1v1h-1zM4 41h1v1h-1zM59 55h1v1h-1zM54 56h1v1h-1zM61 57h1v1h-1zM54 58h1v1h-1zM56 59h3v1h-3z"/><path fill="#539cd2" d="M52 6h1v1h-1zM52 7h1v1h-1zM52 8h1v1h-1zM52 9h1v1h-1zM52 10h1v1h-1zM52 11h1v1h-1zM12 17h1v1h-1zM14 18h1v1h-1zM14 30h1v1h-1zM13 31h1v1h-1zM0 32h3v1h-3zM63 33h3v1h-3zM52 34h1v1h-1zM51 35h1v1h-1zM51 47h1v1h-1zM53 48h1v1h-1zM9 50h2v1h-2zM13 52h1v1h-1z"/><path fill="#3345ab" d="M60 6h3v1h-3zM60 7h3v1h-3zM60 8h3v1h-3zM61 9h1v1h-1zM0 20h2v1h-2zM8 20h1v1h-1zM9 21h1v1h-1zM10 23h1v1h-1zM10 24h1v1h-1zM10 25h1v1h-1zM10 26h1v1h-1zM9 28h1v1h-1zM0 29h3v1h-3zM7 29h1v1h-1zM58 36h1v1h-1zM63 36h3v1h-3zM56 37h1v1h-1zM55 39h1v1h-1zM55 40h1v1h-1zM55 41h1v1h-1zM55 42h1v1h-1zM56 44h1v1h-1zM57 45h1v1h-1zM64 45h2v1h-2zM2 56h3v1h-3zM2 57h4v1h-4zM2 58h4v1h-4zM3 59h2v1h-2z"/><path fill="#bb2820" d="M5 7h1v1h-1zM11 8h1v1h-1zM5 9h1v1h-1zM7 10h3v1h-3zM55 23h1v1h-1zM60 23h1v1h-1zM54 24h1v1h-1zM56 26h1v1h-1zM59 26h1v1h-1zM6 39h1v1h-1zM9 39h1v1h-1zM11 41h1v1h-1zM5 42h1v1h-1zM10 42h1v1h-1zM56 55h3v1h-3zM60 56h1v1h-1zM54 57h1v1h-1zM60 58h1v1h-1z"/><path fill="#a42720" d="M6 7h1v1h-1zM9 7h1v1h-1zM10 8h1v1h-1zM6 9h1v1h-1zM56 23h3v1h-3zM55 24h1v1h-1zM55 25h1v1h-1zM10 40h1v1h-1zM10 41h1v1h-1zM7 42h3v1h-3zM59 56h1v1h-1zM55 57h1v1h-1zM56 58h1v1h-1zM59 58h1v1h-1z"/><path fill="#962420" d="M7 7h2v1h-2zM6 8h1v1h-1zM7 9h3v1h-3zM59 24h1v1h-1zM56 25h1v1h-1zM59 25h1v1h-1zM6 40h1v1h-1zM9 40h1v1h-1zM6 41h1v1h-1zM56 56h3v1h-3zM59 57h1v1h-1zM57 58h2v1h-2z"/><path fill="#b02820" d="M10 7h1v1h-1zM5 8h1v1h-1zM10 9h1v1h-1zM59 23h1v1h-1zM60 24h1v1h-1zM60 25h1v1h-1zM57 26h2v1h-2zM7 39h2v1h-2zM5 40h1v1h-1zM5 41h1v1h-1zM6 42h1v1h-1zM55 56h1v1h-1zM60 57h1v1h-1zM55 58h1v1h-1z"/><path fill="#d32e20" d="M12 7h1v1h-1zM3 8h1v1h-1zM40 8h1v1h-1zM12 9h1v1h-1zM39 9h3v1h-3zM11 10h1v1h-1zM60 22h1v1h-1zM62 24h1v1h-1zM61 26h1v1h-1zM56 27h3v1h-3zM7 38h3v1h-3zM4 39h1v1h-1zM3 41h1v1h-1zM5 43h1v1h-1zM54 55h1v1h-1zM24 56h3v1h-3zM53 56h1v1h-1zM25 57h1v1h-1zM62 57h1v1h-1zM53 58h1v1h-1z"/><path fill="#892220" d="M7 8h3v1h-3zM56 24h3v1h-3zM57 25h2v1h-2zM7 40h2v1h-2zM7 41h3v1h-3zM56 57h3v1h-3z"/><path fill="#467cc2" d="M53 8h1v1h-1zM53 9h1v1h-1zM53 10h1v1h-1zM53 11h1v1h-1zM54 13h1v1h-1zM57 14h5v1h-5zM4 17h4v1h-4zM12 18h1v1h-1zM13 19h1v1h-1zM13 30h1v1h-1zM11 31h1v1h-1zM54 34h1v1h-1zM52 35h1v1h-1zM52 46h1v1h-1zM53 47h1v1h-1zM58 48h4v1h-4zM10 51h2v1h-2zM12 52h1v1h-1z"/><path fill="#4067b8" d="M54 11h1v1h-1zM54 12h1v1h-1zM56 13h1v1h-1zM11 18h1v1h-1zM12 19h1v1h-1zM13 22h1v1h-1zM13 23h1v1h-1zM13 24h1v1h-1zM13 25h1v1h-1zM13 26h1v1h-1zM13 27h1v1h-1zM12 30h1v1h-1zM8 31h2v1h-2zM56 34h2v1h-2zM53 35h1v1h-1zM52 38h1v1h-1zM52 39h1v1h-1zM52 40h1v1h-1zM52 41h1v1h-1zM52 42h1v1h-1zM52 43h1v1h-1zM53 46h1v1h-1zM54 47h1v1h-1zM4 51h4v1h-4zM11 53h1v1h-1zM12 61h1v1h-1zM12 62h1v1h-1zM11 64h1v1h-1zM11 65h1v1h-1z"/><path fill="#4a87c7" d="M53 12h1v1h-1zM55 14h2v1h-2zM8 17h2v1h-2zM13 18h1v1h-1zM12 31h1v1h-1zM53 34h1v1h-1zM52 47h1v1h-1zM56 48h2v1h-2zM0 50h5v1h-5zM13 60h1v1h-1zM13 61h1v1h-1zM13 62h1v1h-1zM13 63h1v1h-1zM13 64h1v1h-1zM13 65h1v1h-1z"/><path fill="#3243aa" d="M2 20h6v1h-6zM9 27h1v1h-1zM3 29h4v1h-4zM59 36h4v1h-4zM56 38h1v1h-1zM58 45h6v1h-6z"/><path fill="#3141a9" d="M0 21h2v1h-2zM8 21h1v1h-1zM9 22h1v1h-1zM9 23h1v1h-1zM9 26h1v1h-1zM0 28h2v1h-2zM8 28h1v1h-1zM57 37h1v1h-1zM64 37h2v1h-2zM56 39h1v1h-1zM56 42h1v1h-1zM56 43h1v1h-1zM57 44h1v1h-1zM64 44h2v1h-2z"/><path fill="#303ea5" d="M2 21h2v1h-2zM6 21h2v1h-2zM0 22h2v1h-2zM8 22h1v1h-1zM9 24h1v1h-1zM9 25h1v1h-1zM0 27h2v1h-2zM8 27h1v1h-1zM2 28h2v1h-2zM6 28h2v1h-2zM58 37h2v1h-2zM62 37h2v1h-2zM57 38h1v1h-1zM64 38h2v1h-2zM56 40h1v1h-1zM56 41h1v1h-1zM57 43h1v1h-1zM64 43h2v1h-2zM58 44h2v1h-2zM62 44h2v1h-2z"/><path fill="#2f3a9f" d="M4 21h2v1h-2zM2 22h1v1h-1zM0 23h2v1h-2zM8 23h1v1h-1zM0 24h2v1h-2zM0 25h2v1h-2zM0 26h2v1h-2zM8 26h1v1h-1zM2 27h1v1h-1zM4 28h2v1h-2zM60 37h2v1h-2zM63 38h1v1h-1zM57 39h1v1h-1zM64 39h2v1h-2zM64 40h2v1h-2zM64 41h2v1h-2zM57 42h1v1h-1zM64 42h2v1h-2zM63 43h1v1h-1zM60 44h2v1h-2z"/><path fill="#2f3699" d="M3 22h1v1h-1zM6 22h2v1h-2zM2 23h1v1h-1zM8 24h1v1h-1zM8 25h1v1h-1zM2 26h1v1h-1zM3 27h1v1h-1zM6 27h2v1h-2zM58 38h2v1h-2zM62 38h1v1h-1zM63 39h1v1h-1zM57 40h1v1h-1zM57 41h1v1h-1zM63 42h1v1h-1zM58 43h2v1h-2zM62 43h1v1h-1z"/><path fill="#2e3292" d="M4 22h2v1h-2zM3 23h1v1h-1zM7 23h1v1h-1zM2 24h1v1h-1zM7 24h1v1h-1zM2 25h1v1h-1zM7 25h1v1h-1zM3 26h1v1h-1zM7 26h1v1h-1zM4 27h2v1h-2zM60 38h2v1h-2zM58 39h1v1h-1zM62 39h1v1h-1zM58 40h1v1h-1zM63 40h1v1h-1zM58 41h1v1h-1zM63 41h1v1h-1zM58 42h1v1h-1zM62 42h1v1h-1zM60 43h2v1h-2z"/><path fill="#2e3087" d="M4 23h3v1h-3zM3 24h4v1h-4zM3 25h4v1h-4zM4 26h3v1h-3zM59 39h3v1h-3zM59 40h4v1h-4zM59 41h4v1h-4zM59 42h3v1h-3z"/></svg></g></g>
<clipPath id="hc2"><rect x="89.40" y="443.80" width="412.00" height="410.00"/></clipPath><g clip-path="url(#hc2)"><g filter="url(#bl)"><svg x="82.96" y="437.39" width="424.88" height="422.81" viewBox="0 0 66 66" preserveAspectRatio="none" shape-rendering="crispEdges"><path fill="#3d5eb5" d="M0 0h5v1h-5zM28 0h8v1h-8zM45 0h21v1h-21zM0 1h5v1h-5zM28 1h8v1h-8zM45 1h21v1h-21zM0 2h5v1h-5zM45 2h21v1h-21zM0 3h5v1h-5zM45 3h21v1h-21zM50 4h16v1h-16zM55 5h6v1h-6zM56 6h3v1h-3zM57 7h1v1h-1zM14 8h2v1h-2zM11 9h1v1h-1zM22 9h1v1h-1zM58 9h1v1h-1zM10 10h1v1h-1zM37 10h1v1h-1zM46 11h2v1h-2zM49 11h2v1h-2zM9 12h1v1h-1zM45 12h1v1h-1zM9 13h1v1h-1zM23 13h1v1h-1zM38 13h1v1h-1zM28 14h1v1h-1zM38 14h1v1h-1zM53 14h1v1h-1zM59 14h1v1h-1zM44 15h1v1h-1zM59 15h1v1h-1zM0 16h2v1h-2zM44 16h1v1h-1zM0 17h2v1h-2zM44 17h1v1h-1zM0 18h2v1h-2zM28 19h1v1h-1zM38 19h1v1h-1zM53 19h1v1h-1zM60 19h1v1h-1zM9 20h1v1h-1zM9 21h1v1h-1zM36 21h1v1h-1zM47 21h1v1h-1zM49 21h2v1h-2zM62 21h2v1h-2zM11 23h2v1h-2zM0 28h6v1h-6zM29 28h1v1h-1zM53 28h1v1h-1zM0 29h6v1h-6zM14 29h1v1h-1zM19 29h1v1h-1zM28 29h1v1h-1zM62 29h4v1h-4zM0 30h6v1h-6zM13 30h1v1h-1zM62 30h4v1h-4zM0 31h6v1h-6zM61 31h5v1h-5zM0 32h6v1h-6zM38 32h1v1h-1zM61 32h5v1h-5zM0 33h6v1h-6zM38 33h1v1h-1zM61 33h5v1h-5zM0 34h5v1h-5zM53 34h1v1h-1zM61 34h5v1h-5zM0 35h5v1h-5zM60 35h6v1h-6zM0 36h3v1h-3zM20 36h1v1h-1zM28 36h1v1h-1zM47 36h1v1h-1zM50 36h1v1h-1zM60 36h6v1h-6zM14 37h2v1h-2zM17 37h2v1h-2zM60 37h6v1h-6zM54 42h1v1h-1zM56 43h1v1h-1zM5 44h1v1h-1zM15 44h4v1h-4zM36 44h1v1h-1zM13 45h1v1h-1zM20 45h1v1h-1zM37 45h1v1h-1zM6 47h1v1h-1zM42 47h1v1h-1zM64 47h2v1h-2zM27 48h1v1h-1zM42 48h1v1h-1zM64 48h2v1h-2zM42 49h1v1h-1zM64 49h2v1h-2zM13 51h1v1h-1zM20 52h1v1h-1zM15 53h1v1h-1zM37 53h1v1h-1zM28 54h1v1h-1zM56 54h1v1h-1zM28 55h1v1h-1zM55 55h1v1h-1zM54 56h1v1h-1zM8 57h1v1h-1zM44 57h4v1h-4zM6 58h4v1h-4zM5 59h6v1h-6zM0 60h13v1h-13zM0 61h18v1h-18zM64 61h2v1h-2zM0 62h23v1h-23zM62 62h4v1h-4zM0 63h23v1h-23zM31 63h2v1h-2zM62 63h4v1h-4zM0 64h23v1h-23zM30 64h9v1h-9zM61 64h5v1h-5zM0 65h23v1h-23zM30 65h9v1h-9zM61 65h5v1h-5z"/><path fill="#4067b8" d="M5 0h1v1h-1zM27 0h1v1h-1zM5 1h1v1h-1zM27 1h1v1h-1zM5 2h1v1h-1zM33 2h2v1h-2zM5 3h1v1h-1zM0 4h6v1h-6zM45 4h5v1h-5zM54 5h1v1h-1zM22 7h1v1h-1zM12 8h2v1h-2zM10 9h1v1h-1zM31 9h6v1h-6zM29 10h1v1h-1zM58 10h1v1h-1zM9 11h1v1h-1zM51 11h1v1h-1zM38 12h1v1h-1zM52 12h1v1h-1zM28 13h1v1h-1zM44 14h1v1h-1zM0 15h2v1h-2zM59 16h1v1h-1zM44 18h1v1h-1zM44 19h1v1h-1zM38 20h1v1h-1zM53 20h1v1h-1zM60 20h1v1h-1zM29 21h1v1h-1zM37 21h1v1h-1zM46 21h1v1h-1zM51 21h1v1h-1zM61 21h1v1h-1zM9 22h1v1h-1zM22 22h1v1h-1zM10 23h1v1h-1zM20 23h1v1h-1zM0 27h7v1h-7zM31 27h3v1h-3zM48 27h4v1h-4zM6 28h1v1h-1zM37 28h1v1h-1zM45 28h1v1h-1zM6 29h1v1h-1zM38 30h1v1h-1zM44 30h1v1h-1zM54 30h1v1h-1zM61 30h1v1h-1zM21 31h1v1h-1zM38 31h1v1h-1zM44 31h1v1h-1zM54 31h1v1h-1zM12 32h1v1h-1zM21 32h1v1h-1zM44 32h1v1h-1zM54 32h1v1h-1zM12 33h1v1h-1zM21 33h1v1h-1zM44 33h1v1h-1zM5 34h1v1h-1zM12 34h1v1h-1zM21 34h1v1h-1zM38 34h1v1h-1zM44 34h1v1h-1zM60 34h1v1h-1zM12 35h1v1h-1zM21 35h1v1h-1zM3 36h1v1h-1zM46 36h1v1h-1zM51 36h1v1h-1zM19 37h1v1h-1zM29 37h1v1h-1zM36 37h1v1h-1zM59 37h1v1h-1zM59 38h7v1h-7zM44 42h1v1h-1zM55 42h1v1h-1zM0 43h4v1h-4zM43 43h1v1h-1zM14 44h1v1h-1zM19 44h1v1h-1zM28 44h1v1h-1zM6 46h1v1h-1zM21 46h1v1h-1zM27 46h1v1h-1zM42 46h1v1h-1zM64 46h2v1h-2zM21 47h1v1h-1zM27 47h1v1h-1zM21 48h1v1h-1zM21 49h1v1h-1zM27 49h1v1h-1zM21 50h1v1h-1zM27 50h1v1h-1zM42 50h1v1h-1zM64 50h2v1h-2zM20 53h1v1h-1zM7 54h1v1h-1zM17 54h2v1h-2zM37 54h1v1h-1zM36 55h1v1h-1zM43 55h1v1h-1zM56 55h1v1h-1zM8 56h1v1h-1zM55 56h1v1h-1zM9 57h1v1h-1zM43 57h1v1h-1zM48 57h1v1h-1zM10 58h1v1h-1zM11 59h1v1h-1zM13 60h1v1h-1zM62 60h4v1h-4zM18 61h5v1h-5zM61 61h3v1h-3zM60 62h2v1h-2zM33 63h1v1h-1zM60 63h2v1h-2zM47 64h4v1h-4zM60 64h1v1h-1zM47 65h4v1h-4zM60 65h1v1h-1z"/><path fill="#4371bd" d="M6 0h1v1h-1zM36 0h1v1h-1zM6 1h1v1h-1zM36 1h1v1h-1zM6 2h1v1h-1zM35 2h1v1h-1zM6 3h1v1h-1zM6 4h1v1h-1zM0 5h7v1h-7zM53 5h1v1h-1zM55 6h1v1h-1zM19 7h3v1h-3zM23 7h1v1h-1zM4 8h3v1h-3zM10 8h2v1h-2zM57 8h1v1h-1zM6 9h1v1h-1zM9 9h1v1h-1zM30 9h1v1h-1zM37 9h1v1h-1zM9 10h1v1h-1zM38 10h1v1h-1zM38 11h1v1h-1zM45 11h1v1h-1zM23 12h1v1h-1zM28 12h1v1h-1zM44 13h1v1h-1zM53 13h1v1h-1zM2 16h1v1h-1zM2 17h1v1h-1zM59 17h1v1h-1zM2 18h1v1h-1zM0 19h2v1h-2zM23 20h1v1h-1zM28 20h1v1h-1zM44 20h1v1h-1zM45 21h1v1h-1zM52 21h1v1h-1zM9 23h1v1h-1zM3 26h4v1h-4zM34 27h2v1h-2zM46 27h2v1h-2zM52 27h1v1h-1zM28 28h1v1h-1zM62 28h4v1h-4zM13 29h1v1h-1zM20 29h1v1h-1zM38 29h1v1h-1zM44 29h1v1h-1zM54 29h1v1h-1zM61 29h1v1h-1zM6 30h1v1h-1zM21 30h1v1h-1zM6 31h1v1h-1zM12 31h1v1h-1zM27 31h1v1h-1zM27 32h1v1h-1zM27 33h1v1h-1zM60 33h1v1h-1zM27 34h1v1h-1zM5 35h1v1h-1zM38 35h1v1h-1zM44 35h1v1h-1zM53 35h1v1h-1zM4 36h1v1h-1zM12 36h1v1h-1zM21 36h1v1h-1zM45 36h1v1h-1zM59 36h1v1h-1zM13 37h1v1h-1zM20 37h1v1h-1zM28 37h1v1h-1zM37 37h1v1h-1zM33 38h1v1h-1zM58 39h2v1h-2zM47 41h1v1h-1zM56 42h1v1h-1zM4 43h1v1h-1zM30 43h5v1h-5zM13 44h1v1h-1zM20 44h1v1h-1zM6 45h1v1h-1zM21 45h1v1h-1zM27 45h1v1h-1zM12 46h1v1h-1zM63 46h1v1h-1zM12 47h1v1h-1zM63 47h1v1h-1zM12 48h1v1h-1zM63 48h1v1h-1zM12 49h1v1h-1zM63 49h1v1h-1zM12 50h1v1h-1zM21 51h1v1h-1zM27 51h1v1h-1zM42 51h1v1h-1zM13 52h1v1h-1zM7 53h1v1h-1zM14 53h1v1h-1zM57 53h1v1h-1zM16 54h1v1h-1zM19 54h1v1h-1zM57 54h1v1h-1zM28 56h7v1h-7zM43 56h1v1h-1zM56 56h1v1h-1zM49 57h6v1h-6zM14 60h1v1h-1zM60 60h2v1h-2zM23 61h1v1h-1zM60 61h1v1h-1zM30 63h1v1h-1zM34 63h1v1h-1zM46 64h1v1h-1zM46 65h1v1h-1z"/><path fill="#60b2db" d="M7 0h1v1h-1zM21 0h1v1h-1zM7 1h1v1h-1zM21 1h1v1h-1zM16 2h5v1h-5zM37 3h1v1h-1zM9 4h1v1h-1zM19 6h4v1h-4zM52 6h1v1h-1zM0 8h2v1h-2zM3 9h1v1h-1zM27 11h1v1h-1zM43 11h1v1h-1zM7 12h1v1h-1zM27 12h1v1h-1zM43 12h1v1h-1zM24 14h1v1h-1zM8 15h1v1h-1zM8 16h1v1h-1zM58 17h1v1h-1zM8 19h1v1h-1zM8 20h1v1h-1zM43 21h1v1h-1zM7 22h1v1h-1zM39 22h1v1h-1zM52 22h1v1h-1zM6 23h1v1h-1zM19 24h1v1h-1zM4 25h1v1h-1zM9 25h1v1h-1zM31 26h1v1h-1zM36 26h2v1h-2zM45 26h1v1h-1zM8 27h1v1h-1zM27 27h1v1h-1zM61 27h1v1h-1zM43 28h1v1h-1zM22 29h1v1h-1zM55 29h1v1h-1zM11 30h1v1h-1zM26 31h1v1h-1zM59 31h1v1h-1zM59 32h1v1h-1zM7 33h1v1h-1zM55 33h1v1h-1zM26 34h1v1h-1zM26 35h1v1h-1zM43 35h1v1h-1zM58 35h1v1h-1zM6 36h1v1h-1zM26 36h1v1h-1zM52 37h1v1h-1zM12 38h1v1h-1zM22 38h1v1h-1zM37 38h1v1h-1zM56 39h1v1h-1zM59 40h1v1h-1zM4 42h1v1h-1zM12 43h1v1h-1zM22 43h1v1h-1zM42 43h1v1h-1zM26 44h1v1h-1zM63 44h1v1h-1zM7 45h1v1h-1zM11 46h1v1h-1zM11 50h1v1h-1zM26 50h1v1h-1zM62 50h1v1h-1zM11 51h1v1h-1zM64 52h2v1h-2zM8 53h1v1h-1zM26 53h1v1h-1zM13 54h1v1h-1zM22 54h1v1h-1zM26 54h1v1h-1zM21 55h1v1h-1zM60 55h1v1h-1zM10 56h1v1h-1zM62 56h1v1h-1zM11 57h1v1h-1zM34 57h1v1h-1zM42 58h1v1h-1zM54 58h1v1h-1zM15 59h1v1h-1zM29 61h1v1h-1zM56 61h1v1h-1zM28 63h1v1h-1zM52 63h1v1h-1zM24 64h1v1h-1zM44 64h1v1h-1zM24 65h1v1h-1zM44 65h1v1h-1z"/><path fill="#8bdcb3" d="M8 0h1v1h-1zM8 1h1v1h-1zM9 2h1v1h-1zM15 3h1v1h-1zM38 3h1v1h-1zM14 5h1v1h-1zM18 5h4v1h-4zM32 7h1v1h-1zM4 11h1v1h-1zM2 12h1v1h-1zM4 20h1v1h-1zM24 21h1v1h-1zM27 22h1v1h-1zM24 23h1v1h-1zM51 23h1v1h-1zM58 23h1v1h-1zM21 24h1v1h-1zM23 24h2v1h-2zM11 25h1v1h-1zM33 25h2v1h-2zM46 25h2v1h-2zM51 25h1v1h-1zM61 26h1v1h-1zM10 31h1v1h-1zM58 32h1v1h-1zM40 34h1v1h-1zM7 36h1v1h-1zM6 38h1v1h-1zM40 39h1v1h-1zM41 40h1v1h-1zM41 41h1v1h-1zM12 42h1v1h-1zM59 42h1v1h-1zM58 44h1v1h-1zM39 45h1v1h-1zM58 45h1v1h-1zM58 46h1v1h-1zM58 47h1v1h-1zM58 48h1v1h-1zM59 52h1v1h-1zM63 53h1v1h-1zM63 55h1v1h-1zM22 58h1v1h-1zM31 58h1v1h-1zM49 59h4v1h-4zM55 62h1v1h-1zM27 63h1v1h-1zM41 64h1v1h-1zM41 65h1v1h-1z"/><path fill="#96dc88" d="M9 0h1v1h-1zM42 0h1v1h-1zM9 1h1v1h-1zM42 1h1v1h-1zM11 2h1v1h-1zM42 2h1v1h-1zM42 3h1v1h-1zM42 4h1v1h-1zM36 5h1v1h-1zM29 7h1v1h-1zM42 9h1v1h-1zM53 9h1v1h-1zM0 10h2v1h-2zM3 11h1v1h-1zM26 11h1v1h-1zM3 12h1v1h-1zM42 12h1v1h-1zM4 13h1v1h-1zM5 19h1v1h-1zM4 21h1v1h-1zM28 23h1v1h-1zM52 23h1v1h-1zM12 25h1v1h-1zM52 25h1v1h-1zM55 25h1v1h-1zM56 27h1v1h-1zM56 28h1v1h-1zM42 34h1v1h-1zM40 37h1v1h-1zM52 38h1v1h-1zM39 39h1v1h-1zM41 39h1v1h-1zM9 40h1v1h-1zM44 40h2v1h-2zM38 42h1v1h-1zM41 43h1v1h-1zM59 43h1v1h-1zM10 45h1v1h-1zM59 50h1v1h-1zM21 58h1v1h-1zM40 59h1v1h-1zM31 60h1v1h-1zM44 60h4v1h-4zM54 61h1v1h-1zM41 63h1v1h-1zM54 63h1v1h-1z"/><path fill="#9fdc79" d="M10 0h1v1h-1zM10 1h1v1h-1zM10 2h1v1h-1zM24 2h1v1h-1zM22 3h1v1h-1zM13 4h4v1h-4zM34 5h1v1h-1zM50 7h1v1h-1zM40 8h1v1h-1zM55 9h1v1h-1zM26 10h1v1h-1zM5 14h1v1h-1zM6 16h1v1h-1zM6 17h1v1h-1zM6 18h1v1h-1zM57 18h1v1h-1zM5 20h1v1h-1zM4 22h1v1h-1zM42 23h1v1h-1zM58 24h1v1h-1zM14 25h2v1h-2zM23 25h1v1h-1zM27 25h1v1h-1zM43 25h1v1h-1zM53 25h1v1h-1zM24 26h1v1h-1zM42 26h1v1h-1zM25 28h1v1h-1zM56 37h1v1h-1zM45 38h1v1h-1zM55 38h1v1h-1zM3 39h1v1h-1zM17 40h1v1h-1zM33 40h2v1h-2zM28 41h1v1h-1zM40 41h1v1h-1zM63 41h3v1h-3zM60 42h1v1h-1zM8 44h1v1h-1zM60 44h1v1h-1zM59 45h1v1h-1zM59 46h1v1h-1zM59 47h1v1h-1zM59 48h1v1h-1zM60 49h1v1h-1zM60 50h1v1h-1zM60 52h1v1h-1zM61 53h1v1h-1zM10 54h1v1h-1zM13 57h1v1h-1zM20 58h1v1h-1zM49 60h4v1h-4zM38 61h2v1h-2zM53 61h1v1h-1zM54 62h1v1h-1zM42 63h1v1h-1zM55 64h1v1h-1zM55 65h1v1h-1z"/><path fill="#88dcbe" d="M11 0h1v1h-1zM38 0h1v1h-1zM11 1h1v1h-1zM38 1h1v1h-1zM12 2h1v1h-1zM22 2h1v1h-1zM25 2h1v1h-1zM38 2h1v1h-1zM16 3h6v1h-6zM26 3h1v1h-1zM11 4h1v1h-1zM13 5h1v1h-1zM40 9h1v1h-1zM6 13h1v1h-1zM55 13h1v1h-1zM4 14h1v1h-1zM7 16h1v1h-1zM7 17h1v1h-1zM7 18h1v1h-1zM6 21h1v1h-1zM58 21h1v1h-1zM58 22h1v1h-1zM30 23h1v1h-1zM59 23h2v1h-2zM3 24h1v1h-1zM32 25h1v1h-1zM48 25h2v1h-2zM26 26h1v1h-1zM40 26h1v1h-1zM59 27h1v1h-1zM26 28h1v1h-1zM23 30h1v1h-1zM56 30h1v1h-1zM8 32h1v1h-1zM10 32h1v1h-1zM10 36h1v1h-1zM10 37h1v1h-1zM43 37h1v1h-1zM38 38h1v1h-1zM13 39h1v1h-1zM51 40h2v1h-2zM3 41h1v1h-1zM37 42h1v1h-1zM62 43h1v1h-1zM58 49h1v1h-1zM61 50h1v1h-1zM23 52h1v1h-1zM41 52h1v1h-1zM12 54h1v1h-1zM23 54h1v1h-1zM11 56h1v1h-1zM15 56h1v1h-1zM29 58h2v1h-2zM48 59h1v1h-1zM29 60h2v1h-2zM54 60h1v1h-1zM25 63h1v1h-1z"/><path fill="#70c8e0" d="M12 0h1v1h-1zM25 0h1v1h-1zM12 1h1v1h-1zM25 1h1v1h-1zM21 2h1v1h-1zM8 3h1v1h-1zM33 3h1v1h-1zM43 3h1v1h-1zM36 4h1v1h-1zM11 5h1v1h-1zM13 6h1v1h-1zM48 6h2v1h-2zM54 7h1v1h-1zM2 9h1v1h-1zM24 9h1v1h-1zM45 9h5v1h-5zM56 9h1v1h-1zM4 10h1v1h-1zM24 12h1v1h-1zM2 13h1v1h-1zM7 13h1v1h-1zM3 14h1v1h-1zM24 19h1v1h-1zM3 20h1v1h-1zM27 20h1v1h-1zM0 21h2v1h-2zM7 21h1v1h-1zM28 22h1v1h-1zM3 25h1v1h-1zM39 26h1v1h-1zM53 26h1v1h-1zM14 27h3v1h-3zM19 27h1v1h-1zM55 27h1v1h-1zM60 27h1v1h-1zM8 28h1v1h-1zM7 34h1v1h-1zM55 34h1v1h-1zM58 34h1v1h-1zM39 36h1v1h-1zM54 36h1v1h-1zM6 37h1v1h-1zM57 37h1v1h-1zM3 38h1v1h-1zM11 38h1v1h-1zM26 38h1v1h-1zM19 39h1v1h-1zM29 39h2v1h-2zM43 41h1v1h-1zM6 42h1v1h-1zM19 42h3v1h-3zM35 42h1v1h-1zM7 44h1v1h-1zM11 44h1v1h-1zM62 44h1v1h-1zM39 48h1v1h-1zM39 49h1v1h-1zM39 50h1v1h-1zM62 51h1v1h-1zM58 53h1v1h-1zM9 54h1v1h-1zM14 55h1v1h-1zM38 56h1v1h-1zM63 56h1v1h-1zM36 57h1v1h-1zM13 58h1v1h-1zM27 58h1v1h-1zM53 58h1v1h-1zM17 59h3v1h-3zM33 62h1v1h-1zM46 62h6v1h-6zM56 62h1v1h-1zM57 63h1v1h-1zM53 64h1v1h-1zM53 65h1v1h-1z"/><path fill="#539cd2" d="M13 0h1v1h-1zM37 0h1v1h-1zM13 1h1v1h-1zM37 1h1v1h-1zM7 2h1v1h-1zM27 2h1v1h-1zM37 2h1v1h-1zM8 4h1v1h-1zM53 6h1v1h-1zM14 7h3v1h-3zM55 7h1v1h-1zM2 8h1v1h-1zM30 8h6v1h-6zM56 8h1v1h-1zM28 9h1v1h-1zM5 10h1v1h-1zM39 10h1v1h-1zM44 10h1v1h-1zM51 10h1v1h-1zM39 11h1v1h-1zM8 13h1v1h-1zM2 14h1v1h-1zM27 14h1v1h-1zM58 14h1v1h-1zM27 15h1v1h-1zM43 15h1v1h-1zM3 16h1v1h-1zM43 16h1v1h-1zM43 17h1v1h-1zM3 18h1v1h-1zM27 18h1v1h-1zM43 18h1v1h-1zM2 20h1v1h-1zM54 20h1v1h-1zM59 20h1v1h-1zM8 21h1v1h-1zM39 21h1v1h-1zM38 22h1v1h-1zM45 22h1v1h-1zM50 22h2v1h-2zM61 22h1v1h-1zM6 24h1v1h-1zM10 24h1v1h-1zM14 24h2v1h-2zM17 24h2v1h-2zM5 25h1v1h-1zM8 25h1v1h-1zM48 26h3v1h-3zM28 27h1v1h-1zM54 27h1v1h-1zM62 27h4v1h-4zM27 28h1v1h-1zM39 28h1v1h-1zM60 28h1v1h-1zM7 29h1v1h-1zM39 29h1v1h-1zM7 30h1v1h-1zM39 30h1v1h-1zM55 30h1v1h-1zM22 31h1v1h-1zM55 31h1v1h-1zM11 32h1v1h-1zM43 32h1v1h-1zM11 33h1v1h-1zM43 33h1v1h-1zM59 33h1v1h-1zM6 35h1v1h-1zM11 35h1v1h-1zM22 35h1v1h-1zM54 35h1v1h-1zM22 36h1v1h-1zM53 36h1v1h-1zM47 37h4v1h-4zM13 38h1v1h-1zM21 38h1v1h-1zM36 38h1v1h-1zM63 39h3v1h-3zM50 41h2v1h-2zM54 41h1v1h-1zM3 42h1v1h-1zM6 43h1v1h-1zM13 43h1v1h-1zM21 43h1v1h-1zM22 44h1v1h-1zM57 44h1v1h-1zM22 45h1v1h-1zM38 45h1v1h-1zM57 45h1v1h-1zM7 46h1v1h-1zM22 46h1v1h-1zM57 46h1v1h-1zM62 46h1v1h-1zM57 47h1v1h-1zM62 47h1v1h-1zM62 48h1v1h-1zM22 50h1v1h-1zM63 51h1v1h-1zM12 52h1v1h-1zM42 54h1v1h-1zM16 55h1v1h-1zM20 55h1v1h-1zM26 55h1v1h-1zM59 55h1v1h-1zM37 56h1v1h-1zM58 56h1v1h-1zM61 56h1v1h-1zM28 57h1v1h-1zM42 57h1v1h-1zM58 57h1v1h-1zM64 57h2v1h-2zM45 58h2v1h-2zM56 58h10v1h-10zM14 59h1v1h-1zM23 59h1v1h-1zM58 59h1v1h-1zM58 60h1v1h-1zM24 61h1v1h-1zM58 61h1v1h-1zM24 62h1v1h-1zM58 62h1v1h-1zM45 63h1v1h-1zM51 63h1v1h-1z"/><path fill="#4e92cd" d="M14 0h1v1h-1zM20 0h1v1h-1zM26 0h1v1h-1zM14 1h1v1h-1zM20 1h1v1h-1zM26 1h1v1h-1zM28 2h3v1h-3zM34 3h1v1h-1zM36 3h1v1h-1zM8 5h1v1h-1zM45 5h4v1h-4zM7 6h2v1h-2zM10 6h1v1h-1zM0 7h2v1h-2zM7 7h2v1h-2zM13 7h1v1h-1zM17 7h1v1h-1zM8 8h1v1h-1zM36 8h3v1h-3zM4 9h1v1h-1zM8 9h1v1h-1zM8 10h1v1h-1zM45 10h1v1h-1zM50 10h1v1h-1zM7 11h2v1h-2zM8 12h1v1h-1zM39 12h1v1h-1zM39 13h1v1h-1zM58 13h1v1h-1zM39 14h1v1h-1zM54 14h1v1h-1zM27 16h1v1h-1zM3 17h1v1h-1zM27 17h1v1h-1zM39 19h1v1h-1zM0 20h2v1h-2zM39 20h1v1h-1zM23 21h1v1h-1zM28 21h1v1h-1zM53 21h1v1h-1zM8 22h1v1h-1zM30 22h1v1h-1zM37 22h1v1h-1zM46 22h4v1h-4zM7 23h2v1h-2zM8 24h2v1h-2zM16 24h1v1h-1zM6 25h2v1h-2zM29 27h1v1h-1zM38 27h1v1h-1zM44 27h1v1h-1zM13 28h1v1h-1zM20 28h1v1h-1zM12 29h1v1h-1zM27 29h1v1h-1zM39 31h1v1h-1zM22 32h1v1h-1zM39 32h1v1h-1zM22 33h1v1h-1zM39 33h1v1h-1zM11 34h1v1h-1zM22 34h1v1h-1zM59 34h1v1h-1zM44 36h1v1h-1zM4 37h1v1h-1zM27 37h1v1h-1zM38 37h1v1h-1zM58 37h1v1h-1zM14 38h1v1h-1zM20 38h1v1h-1zM28 38h1v1h-1zM57 39h1v1h-1zM61 39h2v1h-2zM57 40h1v1h-1zM49 41h1v1h-1zM55 41h1v1h-1zM0 42h3v1h-3zM14 43h3v1h-3zM19 43h2v1h-2zM27 43h1v1h-1zM57 43h1v1h-1zM12 44h1v1h-1zM7 47h1v1h-1zM22 47h1v1h-1zM7 48h1v1h-1zM22 48h1v1h-1zM57 48h1v1h-1zM22 49h1v1h-1zM57 49h1v1h-1zM13 53h1v1h-1zM38 53h1v1h-1zM42 53h1v1h-1zM8 54h1v1h-1zM14 54h1v1h-1zM21 54h1v1h-1zM38 54h1v1h-1zM17 55h3v1h-3zM58 55h1v1h-1zM26 56h1v1h-1zM26 57h2v1h-2zM63 57h1v1h-1zM25 58h1v1h-1zM44 58h1v1h-1zM55 58h1v1h-1zM13 59h1v1h-1zM24 59h1v1h-1zM24 60h1v1h-1zM56 60h1v1h-1zM57 61h1v1h-1zM29 62h1v1h-1zM46 63h2v1h-2zM50 63h1v1h-1zM52 64h1v1h-1zM59 64h1v1h-1zM52 65h1v1h-1zM59 65h1v1h-1z"/><path fill="#4a87c7" d="M15 0h1v1h-1zM19 0h1v1h-1zM15 1h1v1h-1zM19 1h1v1h-1zM31 2h1v1h-1zM7 3h1v1h-1zM35 3h1v1h-1zM7 4h1v1h-1zM44 4h1v1h-1zM7 5h1v1h-1zM9 5h1v1h-1zM49 5h2v1h-2zM0 6h7v1h-7zM9 6h1v1h-1zM54 6h1v1h-1zM2 7h5v1h-5zM9 7h4v1h-4zM3 8h1v1h-1zM7 8h1v1h-1zM7 9h1v1h-1zM23 9h1v1h-1zM57 9h1v1h-1zM6 10h2v1h-2zM23 10h1v1h-1zM28 10h1v1h-1zM46 10h4v1h-4zM44 11h1v1h-1zM53 12h1v1h-1zM58 12h1v1h-1zM39 15h1v1h-1zM54 15h1v1h-1zM39 16h1v1h-1zM54 16h1v1h-1zM39 17h1v1h-1zM54 17h1v1h-1zM39 18h1v1h-1zM54 18h1v1h-1zM2 19h1v1h-1zM54 19h1v1h-1zM59 19h1v1h-1zM44 21h1v1h-1zM31 22h1v1h-1zM35 22h2v1h-2zM62 22h1v1h-1zM21 23h1v1h-1zM7 24h1v1h-1zM0 26h2v1h-2zM7 27h1v1h-1zM37 27h1v1h-1zM53 27h1v1h-1zM7 28h1v1h-1zM14 28h2v1h-2zM19 28h1v1h-1zM54 28h1v1h-1zM21 29h1v1h-1zM60 29h1v1h-1zM60 30h1v1h-1zM6 34h1v1h-1zM54 34h1v1h-1zM59 35h1v1h-1zM38 36h1v1h-1zM0 37h4v1h-4zM12 37h1v1h-1zM21 37h1v1h-1zM17 38h3v1h-3zM29 38h2v1h-2zM35 38h1v1h-1zM58 40h1v1h-1zM46 41h1v1h-1zM48 41h1v1h-1zM56 41h2v1h-2zM43 42h1v1h-1zM57 42h1v1h-1zM5 43h1v1h-1zM17 43h2v1h-2zM28 43h1v1h-1zM36 43h1v1h-1zM6 44h1v1h-1zM42 45h1v1h-1zM63 45h1v1h-1zM38 46h1v1h-1zM7 49h1v1h-1zM7 50h1v1h-1zM57 50h1v1h-1zM63 50h1v1h-1zM7 51h1v1h-1zM57 51h1v1h-1zM64 51h2v1h-2zM38 52h1v1h-1zM9 56h1v1h-1zM36 56h1v1h-1zM60 56h1v1h-1zM10 57h1v1h-1zM62 57h1v1h-1zM11 58h1v1h-1zM43 58h1v1h-1zM59 59h1v1h-1zM16 60h6v1h-6zM30 62h1v1h-1zM29 63h1v1h-1zM36 63h3v1h-3zM48 63h2v1h-2zM23 64h1v1h-1zM45 64h1v1h-1zM23 65h1v1h-1zM45 65h1v1h-1z"/><path fill="#467cc2" d="M16 0h3v1h-3zM44 0h1v1h-1zM16 1h3v1h-3zM44 1h1v1h-1zM32 2h1v1h-1zM36 2h1v1h-1zM44 2h1v1h-1zM44 3h1v1h-1zM51 5h2v1h-2zM18 7h1v1h-1zM56 7h1v1h-1zM9 8h1v1h-1zM23 8h1v1h-1zM5 9h1v1h-1zM29 9h1v1h-1zM38 9h1v1h-1zM23 11h1v1h-1zM28 11h1v1h-1zM52 11h1v1h-1zM58 11h1v1h-1zM44 12h1v1h-1zM0 14h2v1h-2zM2 15h1v1h-1zM59 18h1v1h-1zM38 21h1v1h-1zM60 21h1v1h-1zM32 22h3v1h-3zM63 22h3v1h-3zM2 26h1v1h-1zM7 26h1v1h-1zM30 27h1v1h-1zM36 27h1v1h-1zM45 27h1v1h-1zM16 28h3v1h-3zM38 28h1v1h-1zM44 28h1v1h-1zM61 28h1v1h-1zM12 30h1v1h-1zM27 30h1v1h-1zM60 31h1v1h-1zM6 32h1v1h-1zM60 32h1v1h-1zM6 33h1v1h-1zM54 33h1v1h-1zM27 35h1v1h-1zM5 36h1v1h-1zM27 36h1v1h-1zM52 36h1v1h-1zM15 38h2v1h-2zM31 38h2v1h-2zM34 38h1v1h-1zM58 38h1v1h-1zM60 39h1v1h-1zM29 43h1v1h-1zM35 43h1v1h-1zM21 44h1v1h-1zM27 44h1v1h-1zM37 44h1v1h-1zM12 45h1v1h-1zM64 45h2v1h-2zM38 47h1v1h-1zM38 48h1v1h-1zM38 49h1v1h-1zM38 50h1v1h-1zM12 51h1v1h-1zM38 51h1v1h-1zM7 52h1v1h-1zM21 52h1v1h-1zM27 52h1v1h-1zM42 52h1v1h-1zM57 52h1v1h-1zM21 53h1v1h-1zM27 53h1v1h-1zM15 54h1v1h-1zM20 54h1v1h-1zM27 54h1v1h-1zM8 55h1v1h-1zM27 55h1v1h-1zM37 55h1v1h-1zM57 55h1v1h-1zM27 56h1v1h-1zM35 56h1v1h-1zM57 56h1v1h-1zM59 56h1v1h-1zM55 57h3v1h-3zM59 57h3v1h-3zM12 59h1v1h-1zM56 59h2v1h-2zM60 59h6v1h-6zM15 60h1v1h-1zM22 60h2v1h-2zM57 60h1v1h-1zM59 60h1v1h-1zM59 61h1v1h-1zM23 62h1v1h-1zM31 62h1v1h-1zM59 62h1v1h-1zM23 63h1v1h-1zM35 63h1v1h-1zM59 63h1v1h-1zM29 64h1v1h-1zM39 64h1v1h-1zM51 64h1v1h-1zM29 65h1v1h-1zM39 65h1v1h-1zM51 65h1v1h-1z"/><path fill="#83dacf" d="M22 0h1v1h-1zM22 1h1v1h-1zM8 2h1v1h-1zM34 4h1v1h-1zM12 5h1v1h-1zM43 5h1v1h-1zM44 6h1v1h-1zM34 7h2v1h-2zM39 7h1v1h-1zM0 9h2v1h-2zM43 9h1v1h-1zM3 10h1v1h-1zM40 10h1v1h-1zM40 11h1v1h-1zM54 11h1v1h-1zM40 12h1v1h-1zM40 13h1v1h-1zM7 14h1v1h-1zM4 15h1v1h-1zM4 19h1v1h-1zM7 20h1v1h-1zM40 21h1v1h-1zM40 22h1v1h-1zM31 23h1v1h-1zM39 23h1v1h-1zM44 23h5v1h-5zM27 26h3v1h-3zM63 26h1v1h-1zM12 27h1v1h-1zM40 27h1v1h-1zM40 28h1v1h-1zM40 29h1v1h-1zM40 30h1v1h-1zM23 31h1v1h-1zM40 31h1v1h-1zM56 31h1v1h-1zM23 32h1v1h-1zM40 33h1v1h-1zM58 33h1v1h-1zM10 34h1v1h-1zM23 36h1v1h-1zM57 36h1v1h-1zM23 37h1v1h-1zM5 38h1v1h-1zM39 38h1v1h-1zM56 38h1v1h-1zM22 39h1v1h-1zM26 39h1v1h-1zM48 40h1v1h-1zM61 40h1v1h-1zM7 42h1v1h-1zM14 42h1v1h-1zM11 43h1v1h-1zM23 43h1v1h-1zM38 43h1v1h-1zM23 44h1v1h-1zM61 45h1v1h-1zM41 46h1v1h-1zM8 47h1v1h-1zM8 48h1v1h-1zM41 48h1v1h-1zM61 48h1v1h-1zM41 49h1v1h-1zM61 49h1v1h-1zM23 50h1v1h-1zM58 51h1v1h-1zM62 52h1v1h-1zM59 53h1v1h-1zM60 54h1v1h-1zM10 55h1v1h-1zM25 55h1v1h-1zM39 55h1v1h-1zM21 56h1v1h-1zM41 57h1v1h-1zM28 58h1v1h-1zM43 59h1v1h-1zM45 59h3v1h-3zM55 61h1v1h-1zM25 62h1v1h-1zM39 62h1v1h-1zM40 63h1v1h-1zM53 63h1v1h-1zM56 63h1v1h-1z"/><path fill="#9adc7e" d="M23 0h1v1h-1zM23 1h1v1h-1zM11 3h2v1h-2zM25 3h1v1h-1zM17 4h5v1h-5zM42 5h1v1h-1zM38 6h1v1h-1zM28 7h1v1h-1zM25 8h1v1h-1zM54 8h1v1h-1zM2 11h1v1h-1zM4 12h1v1h-1zM5 13h1v1h-1zM5 15h2v1h-2zM57 17h1v1h-1zM6 19h1v1h-1zM26 19h1v1h-1zM5 21h1v1h-1zM3 22h1v1h-1zM55 22h1v1h-1zM3 23h1v1h-1zM25 24h1v1h-1zM63 24h1v1h-1zM13 25h1v1h-1zM54 25h1v1h-1zM10 26h1v1h-1zM10 29h1v1h-1zM40 35h1v1h-1zM42 35h1v1h-1zM57 35h1v1h-1zM40 36h1v1h-1zM9 39h1v1h-1zM15 40h2v1h-2zM39 40h1v1h-1zM22 41h1v1h-1zM27 41h1v1h-1zM61 41h2v1h-2zM8 42h1v1h-1zM8 43h1v1h-1zM39 44h1v1h-1zM41 44h1v1h-1zM59 44h1v1h-1zM60 45h1v1h-1zM60 46h1v1h-1zM60 47h1v1h-1zM10 48h1v1h-1zM60 48h1v1h-1zM59 49h1v1h-1zM25 51h1v1h-1zM11 53h1v1h-1zM62 54h4v1h-4zM14 56h1v1h-1zM22 56h1v1h-1zM16 58h1v1h-1zM33 58h1v1h-1zM26 60h1v1h-1zM48 60h1v1h-1zM53 60h1v1h-1zM42 64h1v1h-1zM42 65h1v1h-1z"/><path fill="#8edca9" d="M24 0h1v1h-1zM24 1h1v1h-1zM10 3h1v1h-1zM14 3h1v1h-1zM15 5h3v1h-3zM31 7h1v1h-1zM52 7h1v1h-1zM2 10h1v1h-1zM42 10h1v1h-1zM5 12h1v1h-1zM42 14h1v1h-1zM57 14h1v1h-1zM42 15h1v1h-1zM42 16h1v1h-1zM42 17h1v1h-1zM42 18h1v1h-1zM42 19h1v1h-1zM42 20h1v1h-1zM42 21h1v1h-1zM55 21h1v1h-1zM5 22h1v1h-1zM24 22h1v1h-1zM4 23h1v1h-1zM29 23h1v1h-1zM2 24h1v1h-1zM22 24h1v1h-1zM25 25h1v1h-1zM35 25h2v1h-2zM45 25h1v1h-1zM25 26h1v1h-1zM9 27h1v1h-1zM23 29h1v1h-1zM42 29h1v1h-1zM42 30h1v1h-1zM42 31h1v1h-1zM25 32h1v1h-1zM42 32h1v1h-1zM8 33h1v1h-1zM42 33h1v1h-1zM47 38h2v1h-2zM10 39h3v1h-3zM36 39h2v1h-2zM54 39h1v1h-1zM40 40h1v1h-1zM60 41h1v1h-1zM41 45h1v1h-1zM25 48h1v1h-1zM10 50h1v1h-1zM61 51h1v1h-1zM41 53h1v1h-1zM41 54h1v1h-1zM39 56h1v1h-1zM15 58h1v1h-1zM42 59h1v1h-1zM53 62h1v1h-1zM54 64h1v1h-1zM54 65h1v1h-1z"/><path fill="#f0a82d" d="M39 0h1v1h-1zM39 1h1v1h-1zM39 2h1v1h-1zM33 6h1v1h-1zM56 21h1v1h-1zM30 24h1v1h-1zM58 25h1v1h-1zM24 28h1v1h-1zM24 29h1v1h-1zM9 30h1v1h-1zM56 35h1v1h-1zM42 38h1v1h-1zM12 41h1v1h-1zM9 49h1v1h-1zM14 57h1v1h-1zM38 58h1v1h-1z"/><path fill="#e8e040" d="M40 0h1v1h-1zM40 1h1v1h-1zM40 2h1v1h-1zM40 3h1v1h-1zM52 8h2v1h-2zM54 9h1v1h-1zM41 10h1v1h-1zM55 10h1v1h-1zM55 12h1v1h-1zM56 13h1v1h-1zM56 17h1v1h-1zM56 19h1v1h-1zM43 24h1v1h-1zM47 24h4v1h-4zM11 26h1v1h-1zM10 27h1v1h-1zM9 29h1v1h-1zM9 31h1v1h-1zM9 32h1v1h-1zM57 32h1v1h-1zM9 33h1v1h-1zM55 37h1v1h-1zM52 39h1v1h-1zM26 40h1v1h-1zM14 41h1v1h-1zM36 41h1v1h-1zM24 42h1v1h-1zM24 51h1v1h-1zM24 53h1v1h-1zM28 59h3v1h-3zM33 60h3v1h-3zM26 63h1v1h-1zM26 64h1v1h-1zM26 65h1v1h-1z"/><path fill="#cbe047" d="M41 0h1v1h-1zM41 1h1v1h-1zM41 2h1v1h-1zM41 3h1v1h-1zM40 4h1v1h-1zM41 6h1v1h-1zM50 8h1v1h-1zM25 10h1v1h-1zM25 14h1v1h-1zM25 15h1v1h-1zM25 18h1v1h-1zM57 20h1v1h-1zM27 23h1v1h-1zM21 25h1v1h-1zM24 27h1v1h-1zM56 34h1v1h-1zM9 37h1v1h-1zM41 38h1v1h-1zM38 39h1v1h-1zM28 40h1v1h-1zM36 40h1v1h-1zM9 41h1v1h-1zM17 41h1v1h-1zM20 57h1v1h-1zM40 57h1v1h-1zM38 60h1v1h-1z"/><path fill="#68bddd" d="M43 0h1v1h-1zM43 1h1v1h-1zM14 2h2v1h-2zM26 2h1v1h-1zM43 2h1v1h-1zM35 4h1v1h-1zM12 6h1v1h-1zM18 6h1v1h-1zM50 6h2v1h-2zM24 7h1v1h-1zM38 7h1v1h-1zM24 8h1v1h-1zM28 8h1v1h-1zM39 8h1v1h-1zM27 10h1v1h-1zM43 10h1v1h-1zM57 11h1v1h-1zM54 12h1v1h-1zM24 13h1v1h-1zM8 17h1v1h-1zM8 18h1v1h-1zM58 18h1v1h-1zM54 21h1v1h-1zM43 22h1v1h-1zM59 22h1v1h-1zM23 23h1v1h-1zM63 23h3v1h-3zM5 24h1v1h-1zM38 26h1v1h-1zM44 26h1v1h-1zM52 26h1v1h-1zM17 27h2v1h-2zM43 27h1v1h-1zM55 28h1v1h-1zM11 29h1v1h-1zM59 30h1v1h-1zM39 35h1v1h-1zM26 37h1v1h-1zM45 37h1v1h-1zM0 38h3v1h-3zM15 39h4v1h-4zM31 39h4v1h-4zM55 40h1v1h-1zM44 41h1v1h-1zM58 41h1v1h-1zM5 42h1v1h-1zM27 42h8v1h-8zM42 42h1v1h-1zM26 43h1v1h-1zM38 44h1v1h-1zM11 45h1v1h-1zM26 51h1v1h-1zM26 52h1v1h-1zM63 52h1v1h-1zM12 53h1v1h-1zM59 54h1v1h-1zM25 56h1v1h-1zM35 57h1v1h-1zM48 58h1v1h-1zM16 59h1v1h-1zM20 59h2v1h-2zM25 60h1v1h-1zM55 60h1v1h-1zM28 62h1v1h-1zM44 63h1v1h-1zM58 63h1v1h-1zM40 64h1v1h-1zM40 65h1v1h-1z"/><path fill="#79d1dc" d="M13 2h1v1h-1zM10 4h1v1h-1zM43 4h1v1h-1zM14 6h1v1h-1zM17 6h1v1h-1zM23 6h1v1h-1zM45 6h3v1h-3zM37 7h1v1h-1zM55 8h1v1h-1zM27 9h1v1h-1zM44 9h1v1h-1zM50 9h1v1h-1zM24 10h1v1h-1zM53 10h1v1h-1zM5 11h1v1h-1zM24 11h1v1h-1zM6 12h1v1h-1zM57 12h1v1h-1zM55 15h1v1h-1zM4 16h1v1h-1zM55 16h1v1h-1zM4 17h1v1h-1zM55 17h1v1h-1zM4 18h1v1h-1zM55 18h1v1h-1zM2 21h1v1h-1zM6 22h1v1h-1zM53 22h1v1h-1zM2 25h1v1h-1zM10 25h1v1h-1zM30 26h1v1h-1zM43 26h1v1h-1zM54 26h1v1h-1zM13 27h1v1h-1zM59 29h1v1h-1zM26 30h1v1h-1zM43 36h1v1h-1zM39 37h1v1h-1zM44 37h1v1h-1zM20 39h2v1h-2zM28 39h1v1h-1zM60 40h1v1h-1zM16 42h3v1h-3zM22 42h1v1h-1zM26 42h1v1h-1zM7 43h1v1h-1zM39 47h1v1h-1zM39 51h1v1h-1zM8 52h1v1h-1zM39 52h1v1h-1zM22 55h1v1h-1zM61 55h1v1h-1zM17 56h3v1h-3zM64 56h2v1h-2zM24 57h1v1h-1zM23 58h1v1h-1zM49 58h4v1h-4zM54 59h1v1h-1zM28 61h1v1h-1zM31 61h1v1h-1zM34 62h5v1h-5zM45 62h1v1h-1z"/><path fill="#aadc6d" d="M23 2h1v1h-1zM23 5h1v1h-1zM25 5h1v1h-1zM40 7h1v1h-1zM49 7h1v1h-1zM51 7h1v1h-1zM47 8h1v1h-1zM57 23h1v1h-1zM28 25h3v1h-3zM18 26h1v1h-1zM9 28h1v1h-1zM25 29h1v1h-1zM25 30h1v1h-1zM25 39h1v1h-1zM14 40h1v1h-1zM19 40h1v1h-1zM23 41h1v1h-1zM30 41h1v1h-1zM10 52h1v1h-1zM24 56h1v1h-1zM23 57h1v1h-1zM17 58h2v1h-2zM39 59h1v1h-1zM35 61h2v1h-2z"/><path fill="#80d8d7" d="M9 3h1v1h-1zM37 4h1v1h-1zM15 6h2v1h-2zM36 7h1v1h-1zM51 9h1v1h-1zM0 12h2v1h-2zM40 14h1v1h-1zM55 14h1v1h-1zM40 15h1v1h-1zM40 16h1v1h-1zM40 17h1v1h-1zM40 18h1v1h-1zM40 19h1v1h-1zM55 19h1v1h-1zM58 19h1v1h-1zM40 20h1v1h-1zM27 21h1v1h-1zM5 23h1v1h-1zM32 23h7v1h-7zM62 23h1v1h-1zM4 24h1v1h-1zM20 24h1v1h-1zM0 25h2v1h-2zM9 26h1v1h-1zM55 26h1v1h-1zM64 26h2v1h-2zM20 27h1v1h-1zM11 28h1v1h-1zM22 28h1v1h-1zM59 28h1v1h-1zM8 29h1v1h-1zM40 32h1v1h-1zM23 33h1v1h-1zM23 34h1v1h-1zM23 35h1v1h-1zM53 37h1v1h-1zM4 38h1v1h-1zM14 39h1v1h-1zM27 39h1v1h-1zM35 39h1v1h-1zM55 39h1v1h-1zM47 40h1v1h-1zM54 40h1v1h-1zM0 41h3v1h-3zM42 41h1v1h-1zM59 41h1v1h-1zM15 42h1v1h-1zM36 42h1v1h-1zM58 42h1v1h-1zM23 45h1v1h-1zM23 46h1v1h-1zM39 46h1v1h-1zM61 46h1v1h-1zM23 47h1v1h-1zM41 47h1v1h-1zM61 47h1v1h-1zM23 48h1v1h-1zM8 49h1v1h-1zM23 49h1v1h-1zM8 50h1v1h-1zM8 51h1v1h-1zM11 52h1v1h-1zM58 52h1v1h-1zM39 53h1v1h-1zM39 54h1v1h-1zM16 56h1v1h-1zM20 56h1v1h-1zM37 57h1v1h-1zM41 58h1v1h-1zM26 59h1v1h-1zM44 59h1v1h-1zM25 61h1v1h-1zM44 62h1v1h-1zM52 62h1v1h-1zM58 64h1v1h-1zM58 65h1v1h-1z"/><path fill="#91dc9e" d="M13 3h1v1h-1zM43 6h1v1h-1zM25 7h1v1h-1zM26 14h1v1h-1zM26 15h1v1h-1zM57 15h1v1h-1zM26 16h1v1h-1zM26 17h1v1h-1zM26 18h1v1h-1zM0 22h2v1h-2zM42 22h1v1h-1zM40 23h1v1h-1zM0 24h2v1h-2zM24 25h1v1h-1zM31 25h1v1h-1zM37 25h2v1h-2zM44 25h1v1h-1zM60 26h1v1h-1zM42 27h1v1h-1zM42 28h1v1h-1zM56 29h1v1h-1zM25 31h1v1h-1zM58 31h1v1h-1zM25 33h1v1h-1zM25 34h1v1h-1zM25 35h1v1h-1zM25 36h1v1h-1zM7 37h1v1h-1zM40 38h1v1h-1zM49 38h2v1h-2zM42 40h1v1h-1zM4 41h1v1h-1zM7 41h1v1h-1zM11 42h1v1h-1zM41 42h1v1h-1zM25 43h1v1h-1zM61 43h1v1h-1zM25 44h1v1h-1zM8 45h1v1h-1zM25 45h1v1h-1zM10 46h1v1h-1zM25 46h1v1h-1zM10 47h1v1h-1zM25 47h1v1h-1zM25 49h1v1h-1zM25 50h1v1h-1zM10 51h1v1h-1zM59 51h1v1h-1zM9 53h1v1h-1zM60 53h1v1h-1zM25 54h1v1h-1zM61 54h1v1h-1zM41 55h1v1h-1zM64 55h2v1h-2zM41 56h1v1h-1zM38 57h1v1h-1zM40 58h1v1h-1zM32 61h1v1h-1zM44 61h8v1h-8zM43 62h1v1h-1zM25 64h1v1h-1zM56 64h1v1h-1zM25 65h1v1h-1zM56 65h1v1h-1z"/><path fill="#d6e041" d="M23 3h1v1h-1zM24 4h1v1h-1zM33 5h1v1h-1zM42 7h1v1h-1zM25 11h1v1h-1zM25 12h1v1h-1zM56 18h1v1h-1zM26 22h1v1h-1zM57 22h1v1h-1zM12 26h1v1h-1zM57 26h1v1h-1zM53 38h1v1h-1zM27 40h1v1h-1zM15 41h1v1h-1zM35 41h1v1h-1zM40 47h1v1h-1zM40 52h1v1h-1zM12 56h1v1h-1zM16 57h1v1h-1zM37 60h1v1h-1z"/><path fill="#c5df4b" d="M24 3h1v1h-1zM27 7h1v1h-1zM44 7h2v1h-2zM25 16h1v1h-1zM25 17h1v1h-1zM57 21h1v1h-1zM25 23h1v1h-1zM56 24h1v1h-1zM20 25h1v1h-1zM22 25h1v1h-1zM13 26h1v1h-1zM10 28h1v1h-1zM43 38h1v1h-1zM13 40h1v1h-1zM21 40h1v1h-1zM37 40h2v1h-2zM18 41h1v1h-1zM34 41h1v1h-1zM12 55h1v1h-1zM19 57h1v1h-1zM41 60h1v1h-1zM42 62h1v1h-1z"/><path fill="#86dbc7" d="M27 3h6v1h-6zM24 6h1v1h-1zM33 7h1v1h-1zM53 7h1v1h-1zM27 8h1v1h-1zM52 9h1v1h-1zM56 10h1v1h-1zM3 13h1v1h-1zM57 13h1v1h-1zM7 15h1v1h-1zM7 19h1v1h-1zM24 20h1v1h-1zM55 20h1v1h-1zM58 20h1v1h-1zM3 21h1v1h-1zM54 22h1v1h-1zM43 23h1v1h-1zM49 23h2v1h-2zM61 23h1v1h-1zM50 25h1v1h-1zM62 26h1v1h-1zM21 27h1v1h-1zM26 27h1v1h-1zM26 29h1v1h-1zM8 30h1v1h-1zM8 31h1v1h-1zM56 32h1v1h-1zM10 33h1v1h-1zM7 35h1v1h-1zM10 35h1v1h-1zM55 35h1v1h-1zM10 38h1v1h-1zM23 38h1v1h-1zM46 40h1v1h-1zM49 40h2v1h-2zM53 40h1v1h-1zM62 40h4v1h-4zM13 42h1v1h-1zM23 42h1v1h-1zM58 43h1v1h-1zM63 43h3v1h-3zM61 44h1v1h-1zM8 46h1v1h-1zM41 50h1v1h-1zM58 50h1v1h-1zM23 51h1v1h-1zM41 51h1v1h-1zM23 53h1v1h-1zM64 53h2v1h-2zM13 55h1v1h-1zM62 55h1v1h-1zM12 57h1v1h-1zM14 58h1v1h-1zM53 59h1v1h-1zM43 63h1v1h-1zM27 64h1v1h-1zM43 64h1v1h-1zM57 64h1v1h-1zM27 65h1v1h-1zM43 65h1v1h-1zM57 65h1v1h-1z"/><path fill="#f09427" d="M39 3h1v1h-1zM39 4h1v1h-1zM27 6h1v1h-1zM32 6h1v1h-1zM26 23h1v1h-1zM28 24h2v1h-2zM53 24h1v1h-1zM24 30h1v1h-1zM8 38h1v1h-1zM38 41h1v1h-1zM32 59h1v1h-1z"/><path fill="#93dc93" d="M12 4h1v1h-1zM22 5h1v1h-1zM35 5h1v1h-1zM25 6h1v1h-1zM39 6h1v1h-1zM30 7h1v1h-1zM54 10h1v1h-1zM0 11h2v1h-2zM26 12h1v1h-1zM26 13h1v1h-1zM6 14h1v1h-1zM5 16h1v1h-1zM5 17h1v1h-1zM5 18h1v1h-1zM6 20h1v1h-1zM2 22h1v1h-1zM57 24h1v1h-1zM64 24h2v1h-2zM26 25h1v1h-1zM39 25h1v1h-1zM56 25h1v1h-1zM56 26h1v1h-1zM11 27h1v1h-1zM22 27h1v1h-1zM25 27h1v1h-1zM10 30h1v1h-1zM56 33h1v1h-1zM55 36h1v1h-1zM25 37h1v1h-1zM54 37h1v1h-1zM46 38h1v1h-1zM51 38h1v1h-1zM0 39h3v1h-3zM23 39h1v1h-1zM43 40h1v1h-1zM5 41h2v1h-2zM8 41h1v1h-1zM25 42h1v1h-1zM10 49h1v1h-1zM61 52h1v1h-1zM25 53h1v1h-1zM62 53h1v1h-1zM32 58h1v1h-1zM41 59h1v1h-1zM52 61h1v1h-1zM27 62h1v1h-1zM40 62h1v1h-1zM55 63h1v1h-1z"/><path fill="#c0de50" d="M22 4h1v1h-1zM25 4h1v1h-1zM31 4h1v1h-1zM41 4h1v1h-1zM41 5h1v1h-1zM26 6h1v1h-1zM46 7h1v1h-1zM26 21h1v1h-1zM60 24h2v1h-2zM14 26h1v1h-1zM58 27h1v1h-1zM58 29h1v1h-1zM8 34h1v1h-1zM42 37h1v1h-1zM5 39h1v1h-1zM42 39h1v1h-1zM10 40h3v1h-3zM29 40h1v1h-1zM33 41h1v1h-1zM39 43h1v1h-1zM17 57h2v1h-2zM37 58h1v1h-1zM27 59h1v1h-1z"/><path fill="#eddc3f" d="M23 4h1v1h-1zM34 6h1v1h-1zM31 24h1v1h-1zM21 26h1v1h-1zM59 26h1v1h-1zM24 31h1v1h-1zM9 34h1v1h-1zM54 38h1v1h-1zM46 39h1v1h-1zM39 41h1v1h-1zM9 46h1v1h-1zM42 61h1v1h-1zM26 62h1v1h-1z"/><path fill="#b0dc65" d="M26 4h1v1h-1zM24 5h1v1h-1zM40 5h1v1h-1zM42 6h1v1h-1zM48 8h1v1h-1zM26 20h1v1h-1zM62 24h1v1h-1zM18 25h1v1h-1zM40 25h1v1h-1zM17 26h1v1h-1zM58 30h1v1h-1zM57 34h1v1h-1zM44 38h1v1h-1zM53 39h1v1h-1zM31 40h1v1h-1zM35 40h1v1h-1zM20 41h1v1h-1zM31 41h1v1h-1zM10 43h1v1h-1z"/><path fill="#b5dc5c" d="M27 4h2v1h-2zM48 7h1v1h-1zM25 9h2v1h-2zM57 19h1v1h-1zM54 23h1v1h-1zM59 24h1v1h-1zM19 25h1v1h-1zM16 26h1v1h-1zM19 26h1v1h-1zM9 38h1v1h-1zM4 39h1v1h-1zM30 40h1v1h-1zM25 52h1v1h-1zM35 58h2v1h-2zM39 60h1v1h-1zM43 60h1v1h-1zM27 61h1v1h-1zM40 61h1v1h-1zM43 61h1v1h-1zM41 62h1v1h-1z"/><path fill="#bbdd55" d="M29 4h2v1h-2zM32 4h1v1h-1zM26 5h1v1h-1zM47 7h1v1h-1zM44 8h1v1h-1zM49 8h1v1h-1zM15 26h1v1h-1zM58 28h1v1h-1zM7 38h1v1h-1zM20 40h1v1h-1zM19 41h1v1h-1zM32 41h1v1h-1zM40 60h1v1h-1z"/><path fill="#a5dc73" d="M33 4h1v1h-1zM38 4h1v1h-1zM37 5h1v1h-1zM40 6h1v1h-1zM45 8h2v1h-2zM42 11h1v1h-1zM56 11h1v1h-1zM42 13h1v1h-1zM57 16h1v1h-1zM0 23h3v1h-3zM53 23h1v1h-1zM16 25h2v1h-2zM57 25h1v1h-1zM23 28h1v1h-1zM42 36h1v1h-1zM25 38h1v1h-1zM8 40h1v1h-1zM18 40h1v1h-1zM32 40h1v1h-1zM21 41h1v1h-1zM26 41h1v1h-1zM29 41h1v1h-1zM61 42h5v1h-5zM60 43h1v1h-1zM10 44h1v1h-1zM60 51h1v1h-1zM23 55h1v1h-1zM19 58h1v1h-1zM34 58h1v1h-1zM28 60h1v1h-1zM33 61h2v1h-2zM37 61h1v1h-1z"/><path fill="#58a7d8" d="M10 5h1v1h-1zM44 5h1v1h-1zM11 6h1v1h-1zM29 8h1v1h-1zM39 9h1v1h-1zM52 10h1v1h-1zM57 10h1v1h-1zM6 11h1v1h-1zM53 11h1v1h-1zM0 13h2v1h-2zM27 13h1v1h-1zM43 13h1v1h-1zM54 13h1v1h-1zM8 14h1v1h-1zM43 14h1v1h-1zM3 15h1v1h-1zM24 15h1v1h-1zM58 15h1v1h-1zM24 16h1v1h-1zM58 16h1v1h-1zM24 17h1v1h-1zM24 18h1v1h-1zM3 19h1v1h-1zM27 19h1v1h-1zM43 19h1v1h-1zM43 20h1v1h-1zM59 21h1v1h-1zM23 22h1v1h-1zM29 22h1v1h-1zM44 22h1v1h-1zM60 22h1v1h-1zM22 23h1v1h-1zM11 24h3v1h-3zM8 26h1v1h-1zM32 26h4v1h-4zM46 26h2v1h-2zM51 26h1v1h-1zM39 27h1v1h-1zM12 28h1v1h-1zM21 28h1v1h-1zM43 29h1v1h-1zM22 30h1v1h-1zM43 30h1v1h-1zM7 31h1v1h-1zM11 31h1v1h-1zM43 31h1v1h-1zM7 32h1v1h-1zM26 32h1v1h-1zM55 32h1v1h-1zM26 33h1v1h-1zM39 34h1v1h-1zM43 34h1v1h-1zM11 36h1v1h-1zM58 36h1v1h-1zM5 37h1v1h-1zM11 37h1v1h-1zM22 37h1v1h-1zM46 37h1v1h-1zM51 37h1v1h-1zM27 38h1v1h-1zM57 38h1v1h-1zM56 40h1v1h-1zM45 41h1v1h-1zM52 41h2v1h-2zM37 43h1v1h-1zM42 44h1v1h-1zM64 44h2v1h-2zM26 45h1v1h-1zM62 45h1v1h-1zM26 46h1v1h-1zM11 47h1v1h-1zM26 47h1v1h-1zM11 48h1v1h-1zM26 48h1v1h-1zM11 49h1v1h-1zM26 49h1v1h-1zM62 49h1v1h-1zM22 51h1v1h-1zM22 52h1v1h-1zM22 53h1v1h-1zM58 54h1v1h-1zM9 55h1v1h-1zM15 55h1v1h-1zM38 55h1v1h-1zM42 55h1v1h-1zM42 56h1v1h-1zM25 57h1v1h-1zM29 57h5v1h-5zM12 58h1v1h-1zM24 58h1v1h-1zM26 58h1v1h-1zM47 58h1v1h-1zM22 59h1v1h-1zM25 59h1v1h-1zM55 59h1v1h-1zM30 61h1v1h-1zM32 62h1v1h-1zM57 62h1v1h-1zM24 63h1v1h-1zM39 63h1v1h-1zM28 64h1v1h-1zM28 65h1v1h-1z"/><path fill="#d0e044" d="M27 5h1v1h-1zM37 6h1v1h-1zM25 13h1v1h-1zM20 26h1v1h-1zM6 39h1v1h-1zM7 40h1v1h-1zM16 41h1v1h-1zM40 42h1v1h-1zM40 48h1v1h-1zM40 49h1v1h-1zM40 50h1v1h-1zM40 51h1v1h-1zM11 55h1v1h-1zM39 58h1v1h-1zM32 60h1v1h-1zM42 60h1v1h-1z"/><path fill="#e2e040" d="M28 5h1v1h-1zM35 6h1v1h-1zM55 11h1v1h-1zM56 12h1v1h-1zM41 14h1v1h-1zM41 19h1v1h-1zM41 20h1v1h-1zM41 21h1v1h-1zM41 22h1v1h-1zM32 24h8v1h-8zM44 24h3v1h-3zM63 25h1v1h-1zM41 27h1v1h-1zM41 28h1v1h-1zM41 29h1v1h-1zM41 30h1v1h-1zM41 31h1v1h-1zM57 31h1v1h-1zM24 32h1v1h-1zM41 32h1v1h-1zM24 33h1v1h-1zM41 33h1v1h-1zM57 33h1v1h-1zM24 34h1v1h-1zM24 35h1v1h-1zM9 36h1v1h-1zM24 36h1v1h-1zM56 36h1v1h-1zM24 37h1v1h-1zM49 39h3v1h-3zM0 40h3v1h-3zM10 42h1v1h-1zM24 43h1v1h-1zM24 44h1v1h-1zM40 46h1v1h-1zM9 50h1v1h-1zM9 51h1v1h-1zM11 54h1v1h-1zM24 54h1v1h-1zM24 55h1v1h-1zM40 55h1v1h-1zM40 56h1v1h-1zM21 57h1v1h-1zM38 59h1v1h-1zM36 60h1v1h-1z"/><path fill="#f0bf35" d="M29 5h1v1h-1zM41 9h1v1h-1zM62 25h1v1h-1zM9 35h1v1h-1zM8 39h1v1h-1zM43 39h1v1h-1zM13 41h1v1h-1zM40 43h1v1h-1zM40 45h1v1h-1zM9 47h1v1h-1zM31 59h1v1h-1zM26 61h1v1h-1z"/><path fill="#f0b331" d="M30 5h1v1h-1zM26 7h1v1h-1zM41 12h1v1h-1zM25 20h1v1h-1zM56 20h1v1h-1zM25 21h1v1h-1zM25 22h1v1h-1zM23 26h1v1h-1zM41 37h1v1h-1zM44 39h2v1h-2zM37 41h1v1h-1zM9 45h1v1h-1zM27 60h1v1h-1z"/><path fill="#efcc39" d="M31 5h2v1h-2zM51 24h1v1h-1zM23 27h1v1h-1zM8 36h1v1h-1zM3 40h1v1h-1zM15 57h1v1h-1z"/><path fill="#f09e2a" d="M38 5h1v1h-1zM51 8h1v1h-1zM55 23h1v1h-1zM52 24h1v1h-1zM54 24h1v1h-1zM60 25h2v1h-2zM57 27h1v1h-1zM57 28h1v1h-1zM41 34h1v1h-1zM41 35h1v1h-1zM41 36h1v1h-1zM8 37h1v1h-1zM4 40h3v1h-3zM39 42h1v1h-1zM9 43h1v1h-1zM9 44h1v1h-1zM40 44h1v1h-1zM39 57h1v1h-1z"/><path fill="#dce040" d="M39 5h1v1h-1zM36 6h1v1h-1zM43 7h1v1h-1zM26 8h1v1h-1zM56 14h1v1h-1zM41 15h1v1h-1zM56 15h1v1h-1zM41 16h1v1h-1zM41 17h1v1h-1zM41 18h1v1h-1zM25 19h1v1h-1zM26 24h1v1h-1zM64 25h2v1h-2zM47 39h2v1h-2zM22 40h1v1h-1zM24 45h1v1h-1zM24 46h1v1h-1zM24 47h1v1h-1zM24 48h1v1h-1zM24 49h1v1h-1zM24 50h1v1h-1zM9 52h1v1h-1zM40 53h1v1h-1zM40 54h1v1h-1zM13 56h1v1h-1zM41 61h1v1h-1z"/><path fill="#3a56b2" d="M61 5h5v1h-5zM59 6h7v1h-7zM58 7h3v1h-3zM16 8h2v1h-2zM20 8h3v1h-3zM58 8h2v1h-2zM12 9h1v1h-1zM22 10h1v1h-1zM30 10h1v1h-1zM36 10h1v1h-1zM10 11h1v1h-1zM29 11h1v1h-1zM37 11h1v1h-1zM48 11h1v1h-1zM59 13h1v1h-1zM9 14h1v1h-1zM23 14h1v1h-1zM28 15h1v1h-1zM38 15h1v1h-1zM53 15h1v1h-1zM28 16h1v1h-1zM38 16h1v1h-1zM53 16h1v1h-1zM28 17h1v1h-1zM38 17h1v1h-1zM53 17h1v1h-1zM28 18h1v1h-1zM38 18h1v1h-1zM53 18h1v1h-1zM60 18h1v1h-1zM9 19h1v1h-1zM23 19h1v1h-1zM45 20h1v1h-1zM52 20h1v1h-1zM61 20h1v1h-1zM30 21h1v1h-1zM48 21h1v1h-1zM64 21h2v1h-2zM10 22h1v1h-1zM13 23h1v1h-1zM36 28h1v1h-1zM46 28h1v1h-1zM52 28h1v1h-1zM15 29h4v1h-4zM37 29h1v1h-1zM45 29h1v1h-1zM53 29h1v1h-1zM20 30h1v1h-1zM20 35h1v1h-1zM28 35h1v1h-1zM45 35h1v1h-1zM52 35h1v1h-1zM13 36h1v1h-1zM37 36h1v1h-1zM48 36h2v1h-2zM16 37h1v1h-1zM30 37h2v1h-2zM35 37h1v1h-1zM53 42h1v1h-1zM55 43h1v1h-1zM4 44h1v1h-1zM29 44h1v1h-1zM56 44h1v1h-1zM5 45h1v1h-1zM28 45h1v1h-1zM56 45h1v1h-1zM13 46h1v1h-1zM37 46h1v1h-1zM6 48h1v1h-1zM6 49h1v1h-1zM14 52h1v1h-1zM37 52h1v1h-1zM19 53h1v1h-1zM28 53h1v1h-1zM56 53h1v1h-1zM36 54h1v1h-1zM43 54h1v1h-1zM7 55h1v1h-1zM29 55h2v1h-2zM34 55h2v1h-2zM6 56h2v1h-2zM53 56h1v1h-1zM4 57h4v1h-4zM0 58h6v1h-6zM0 59h5v1h-5z"/><path fill="#f08120" d="M28 6h1v1h-1zM31 6h1v1h-1zM41 8h1v1h-1zM41 13h1v1h-1zM7 39h1v1h-1zM24 39h1v1h-1zM25 41h1v1h-1zM33 59h2v1h-2z"/><path fill="#d83020" d="M29 6h2v1h-2zM8 35h1v1h-1z"/><path fill="#f08a24" d="M41 7h1v1h-1zM42 8h1v1h-1zM41 23h1v1h-1zM56 23h1v1h-1zM27 24h1v1h-1zM59 25h1v1h-1zM22 26h1v1h-1zM58 26h1v1h-1zM57 30h1v1h-1zM11 41h1v1h-1zM10 53h1v1h-1zM23 56h1v1h-1z"/><path fill="#384fb0" d="M61 7h5v1h-5zM18 8h2v1h-2zM60 8h2v1h-2zM13 9h1v1h-1zM21 9h1v1h-1zM59 9h1v1h-1zM11 10h1v1h-1zM31 10h5v1h-5zM59 10h1v1h-1zM36 11h1v1h-1zM59 11h1v1h-1zM29 12h1v1h-1zM37 12h1v1h-1zM46 12h1v1h-1zM51 12h1v1h-1zM59 12h1v1h-1zM45 13h1v1h-1zM52 13h1v1h-1zM9 15h1v1h-1zM23 15h1v1h-1zM9 16h1v1h-1zM9 17h1v1h-1zM9 18h1v1h-1zM23 18h1v1h-1zM61 19h1v1h-1zM29 20h1v1h-1zM37 20h1v1h-1zM62 20h4v1h-4zM31 21h1v1h-1zM34 21h2v1h-2zM14 23h1v1h-1zM19 23h1v1h-1zM30 28h1v1h-1zM34 28h2v1h-2zM47 28h1v1h-1zM51 28h1v1h-1zM14 30h1v1h-1zM28 30h1v1h-1zM37 30h1v1h-1zM45 30h1v1h-1zM53 30h1v1h-1zM13 31h1v1h-1zM20 31h1v1h-1zM28 31h1v1h-1zM13 32h1v1h-1zM53 33h1v1h-1zM13 34h1v1h-1zM20 34h1v1h-1zM28 34h1v1h-1zM13 35h1v1h-1zM37 35h1v1h-1zM14 36h2v1h-2zM18 36h2v1h-2zM29 36h1v1h-1zM32 37h3v1h-3zM45 42h1v1h-1zM52 42h1v1h-1zM0 44h4v1h-4zM30 44h1v1h-1zM35 44h1v1h-1zM43 44h1v1h-1zM4 45h1v1h-1zM14 45h1v1h-1zM19 45h1v1h-1zM5 46h1v1h-1zM20 46h1v1h-1zM56 46h1v1h-1zM13 47h1v1h-1zM37 47h1v1h-1zM13 48h1v1h-1zM13 49h1v1h-1zM6 50h1v1h-1zM13 50h1v1h-1zM20 50h1v1h-1zM6 51h1v1h-1zM20 51h1v1h-1zM37 51h1v1h-1zM6 52h1v1h-1zM19 52h1v1h-1zM28 52h1v1h-1zM56 52h1v1h-1zM16 53h3v1h-3zM6 54h1v1h-1zM29 54h1v1h-1zM55 54h1v1h-1zM5 55h2v1h-2zM31 55h3v1h-3zM54 55h1v1h-1zM4 56h2v1h-2zM44 56h1v1h-1zM52 56h1v1h-1zM0 57h4v1h-4z"/><path fill="#eb6b20" d="M43 8h1v1h-1zM41 25h1v1h-1zM57 29h1v1h-1zM24 38h1v1h-1zM9 48h1v1h-1z"/><path fill="#374daf" d="M62 8h1v1h-1zM14 9h1v1h-1zM20 9h1v1h-1zM60 9h1v1h-1zM12 10h1v1h-1zM22 11h1v1h-1zM30 11h2v1h-2zM34 11h2v1h-2zM10 12h1v1h-1zM36 12h1v1h-1zM47 12h1v1h-1zM50 12h1v1h-1zM37 13h1v1h-1zM45 14h1v1h-1zM23 16h1v1h-1zM23 17h1v1h-1zM60 17h1v1h-1zM61 18h1v1h-1zM45 19h1v1h-1zM52 19h1v1h-1zM62 19h4v1h-4zM46 20h1v1h-1zM51 20h1v1h-1zM10 21h1v1h-1zM22 21h1v1h-1zM32 21h2v1h-2zM21 22h1v1h-1zM15 23h4v1h-4zM31 28h3v1h-3zM48 28h3v1h-3zM29 29h1v1h-1zM36 29h1v1h-1zM46 29h1v1h-1zM52 29h1v1h-1zM15 30h1v1h-1zM18 30h2v1h-2zM14 31h1v1h-1zM19 31h1v1h-1zM37 31h1v1h-1zM45 31h1v1h-1zM53 31h1v1h-1zM20 32h1v1h-1zM28 32h1v1h-1zM37 32h1v1h-1zM53 32h1v1h-1zM13 33h1v1h-1zM20 33h1v1h-1zM28 33h1v1h-1zM37 33h1v1h-1zM14 34h1v1h-1zM19 34h1v1h-1zM37 34h1v1h-1zM45 34h1v1h-1zM14 35h2v1h-2zM18 35h2v1h-2zM46 35h1v1h-1zM51 35h1v1h-1zM16 36h2v1h-2zM36 36h1v1h-1zM51 42h1v1h-1zM54 43h1v1h-1zM31 44h1v1h-1zM34 44h1v1h-1zM55 44h1v1h-1zM2 45h2v1h-2zM15 45h4v1h-4zM36 45h1v1h-1zM4 46h1v1h-1zM14 46h1v1h-1zM19 46h1v1h-1zM28 46h1v1h-1zM5 47h1v1h-1zM20 47h1v1h-1zM56 47h1v1h-1zM20 48h1v1h-1zM37 48h1v1h-1zM20 49h1v1h-1zM37 49h1v1h-1zM37 50h1v1h-1zM56 50h1v1h-1zM14 51h1v1h-1zM19 51h1v1h-1zM28 51h1v1h-1zM56 51h1v1h-1zM15 52h4v1h-4zM6 53h1v1h-1zM29 53h1v1h-1zM36 53h1v1h-1zM43 53h1v1h-1zM55 53h1v1h-1zM5 54h1v1h-1zM30 54h2v1h-2zM34 54h2v1h-2zM4 55h1v1h-1zM53 55h1v1h-1zM2 56h2v1h-2zM45 56h1v1h-1zM50 56h2v1h-2z"/><path fill="#364bae" d="M63 8h3v1h-3zM15 9h2v1h-2zM19 9h1v1h-1zM61 9h1v1h-1zM21 10h1v1h-1zM60 10h1v1h-1zM11 11h1v1h-1zM32 11h2v1h-2zM60 11h1v1h-1zM30 12h1v1h-1zM35 12h1v1h-1zM48 12h2v1h-2zM10 13h1v1h-1zM29 13h1v1h-1zM46 13h1v1h-1zM51 13h1v1h-1zM37 14h1v1h-1zM52 14h1v1h-1zM45 15h1v1h-1zM60 16h1v1h-1zM61 17h1v1h-1zM45 18h1v1h-1zM62 18h1v1h-1zM29 19h1v1h-1zM37 19h1v1h-1zM10 20h1v1h-1zM36 20h1v1h-1zM47 20h1v1h-1zM50 20h1v1h-1zM11 22h1v1h-1zM30 29h2v1h-2zM34 29h2v1h-2zM47 29h1v1h-1zM50 29h2v1h-2zM16 30h2v1h-2zM29 30h1v1h-1zM36 30h1v1h-1zM52 30h1v1h-1zM15 31h1v1h-1zM18 31h1v1h-1zM29 31h1v1h-1zM36 31h1v1h-1zM52 31h1v1h-1zM14 32h1v1h-1zM19 32h1v1h-1zM45 32h1v1h-1zM14 33h1v1h-1zM19 33h1v1h-1zM45 33h1v1h-1zM15 34h1v1h-1zM18 34h1v1h-1zM29 34h1v1h-1zM36 34h1v1h-1zM52 34h1v1h-1zM16 35h2v1h-2zM29 35h1v1h-1zM36 35h1v1h-1zM30 36h2v1h-2zM34 36h2v1h-2zM46 42h1v1h-1zM50 42h1v1h-1zM44 43h1v1h-1zM32 44h2v1h-2zM0 45h2v1h-2zM29 45h1v1h-1zM3 46h1v1h-1zM15 46h4v1h-4zM14 47h1v1h-1zM19 47h1v1h-1zM28 47h1v1h-1zM5 48h1v1h-1zM14 48h1v1h-1zM19 48h1v1h-1zM28 48h1v1h-1zM56 48h1v1h-1zM14 49h1v1h-1zM19 49h1v1h-1zM28 49h1v1h-1zM56 49h1v1h-1zM14 50h1v1h-1zM19 50h1v1h-1zM28 50h1v1h-1zM15 51h4v1h-4zM5 53h1v1h-1zM30 53h1v1h-1zM35 53h1v1h-1zM32 54h2v1h-2zM54 54h1v1h-1zM3 55h1v1h-1zM44 55h1v1h-1zM0 56h2v1h-2zM46 56h1v1h-1zM49 56h1v1h-1z"/><path fill="#3549ad" d="M17 9h2v1h-2zM62 9h2v1h-2zM13 10h1v1h-1zM20 10h1v1h-1zM61 10h1v1h-1zM22 12h1v1h-1zM31 12h4v1h-4zM60 12h1v1h-1zM36 13h1v1h-1zM47 13h4v1h-4zM60 13h1v1h-1zM29 14h1v1h-1zM46 14h1v1h-1zM51 14h1v1h-1zM60 14h1v1h-1zM37 15h1v1h-1zM52 15h1v1h-1zM60 15h1v1h-1zM37 16h1v1h-1zM45 16h1v1h-1zM52 16h1v1h-1zM37 17h1v1h-1zM45 17h1v1h-1zM52 17h1v1h-1zM37 18h1v1h-1zM52 18h1v1h-1zM63 18h3v1h-3zM46 19h1v1h-1zM51 19h1v1h-1zM30 20h1v1h-1zM48 20h2v1h-2zM32 29h2v1h-2zM48 29h2v1h-2zM30 30h1v1h-1zM35 30h1v1h-1zM46 30h1v1h-1zM51 30h1v1h-1zM16 31h2v1h-2zM15 32h1v1h-1zM18 32h1v1h-1zM29 32h1v1h-1zM36 32h1v1h-1zM52 32h1v1h-1zM15 33h1v1h-1zM18 33h1v1h-1zM29 33h1v1h-1zM36 33h1v1h-1zM52 33h1v1h-1zM16 34h2v1h-2zM30 35h1v1h-1zM35 35h1v1h-1zM47 35h1v1h-1zM50 35h1v1h-1zM32 36h2v1h-2zM48 42h2v1h-2zM53 43h1v1h-1zM43 45h1v1h-1zM55 45h1v1h-1zM0 46h3v1h-3zM36 46h1v1h-1zM4 47h1v1h-1zM15 47h1v1h-1zM18 47h1v1h-1zM5 49h1v1h-1zM5 50h1v1h-1zM15 50h1v1h-1zM18 50h1v1h-1zM5 51h1v1h-1zM5 52h1v1h-1zM29 52h1v1h-1zM36 52h1v1h-1zM43 52h1v1h-1zM55 52h1v1h-1zM31 53h4v1h-4zM4 54h1v1h-1zM0 55h3v1h-3zM52 55h1v1h-1zM47 56h2v1h-2z"/><path fill="#3447ac" d="M64 9h2v1h-2zM62 10h1v1h-1zM12 11h1v1h-1zM21 11h1v1h-1zM61 11h1v1h-1zM11 12h1v1h-1zM30 13h1v1h-1zM35 13h1v1h-1zM10 14h1v1h-1zM36 14h1v1h-1zM47 14h1v1h-1zM50 14h1v1h-1zM29 15h1v1h-1zM46 15h1v1h-1zM51 15h1v1h-1zM61 16h1v1h-1zM62 17h1v1h-1zM29 18h1v1h-1zM46 18h1v1h-1zM51 18h1v1h-1zM10 19h1v1h-1zM36 19h1v1h-1zM47 19h1v1h-1zM50 19h1v1h-1zM22 20h1v1h-1zM35 20h1v1h-1zM11 21h1v1h-1zM12 22h1v1h-1zM31 30h4v1h-4zM47 30h4v1h-4zM30 31h1v1h-1zM35 31h1v1h-1zM46 31h1v1h-1zM51 31h1v1h-1zM16 32h2v1h-2zM30 32h1v1h-1zM35 32h1v1h-1zM46 32h1v1h-1zM51 32h1v1h-1zM16 33h2v1h-2zM30 33h1v1h-1zM35 33h1v1h-1zM46 33h1v1h-1zM51 33h1v1h-1zM30 34h1v1h-1zM35 34h1v1h-1zM46 34h1v1h-1zM51 34h1v1h-1zM31 35h4v1h-4zM48 35h2v1h-2zM47 42h1v1h-1zM54 44h1v1h-1zM30 45h1v1h-1zM35 45h1v1h-1zM29 46h1v1h-1zM55 46h1v1h-1zM3 47h1v1h-1zM16 47h2v1h-2zM4 48h1v1h-1zM15 48h4v1h-4zM15 49h4v1h-4zM16 50h2v1h-2zM29 51h1v1h-1zM36 51h1v1h-1zM43 51h1v1h-1zM55 51h1v1h-1zM30 52h1v1h-1zM35 52h1v1h-1zM4 53h1v1h-1zM54 53h1v1h-1zM3 54h1v1h-1zM44 54h1v1h-1zM53 54h1v1h-1zM45 55h1v1h-1zM51 55h1v1h-1z"/><path fill="#3345ab" d="M14 10h1v1h-1zM19 10h1v1h-1zM63 10h1v1h-1zM61 12h1v1h-1zM22 13h1v1h-1zM31 13h1v1h-1zM34 13h1v1h-1zM48 14h2v1h-2zM10 15h1v1h-1zM36 15h1v1h-1zM61 15h1v1h-1zM10 16h1v1h-1zM29 16h1v1h-1zM46 16h1v1h-1zM51 16h1v1h-1zM62 16h1v1h-1zM10 17h1v1h-1zM29 17h1v1h-1zM46 17h1v1h-1zM51 17h1v1h-1zM63 17h3v1h-3zM10 18h1v1h-1zM36 18h1v1h-1zM48 19h2v1h-2zM31 20h1v1h-1zM34 20h1v1h-1zM20 22h1v1h-1zM31 31h1v1h-1zM34 31h1v1h-1zM47 31h1v1h-1zM50 31h1v1h-1zM31 34h1v1h-1zM34 34h1v1h-1zM47 34h1v1h-1zM50 34h1v1h-1zM52 43h1v1h-1zM31 45h1v1h-1zM34 45h1v1h-1zM43 46h1v1h-1zM2 47h1v1h-1zM29 47h1v1h-1zM36 47h1v1h-1zM55 47h1v1h-1zM4 49h1v1h-1zM29 50h1v1h-1zM36 50h1v1h-1zM55 50h1v1h-1zM4 52h1v1h-1zM31 52h1v1h-1zM34 52h1v1h-1zM2 54h1v1h-1zM46 55h1v1h-1z"/><path fill="#3243aa" d="M15 10h4v1h-4zM64 10h2v1h-2zM13 11h1v1h-1zM20 11h1v1h-1zM62 11h1v1h-1zM11 13h1v1h-1zM32 13h2v1h-2zM61 13h1v1h-1zM22 14h1v1h-1zM30 14h1v1h-1zM35 14h1v1h-1zM61 14h1v1h-1zM47 15h1v1h-1zM50 15h1v1h-1zM36 16h1v1h-1zM36 17h1v1h-1zM47 18h1v1h-1zM50 18h1v1h-1zM22 19h1v1h-1zM30 19h1v1h-1zM35 19h1v1h-1zM11 20h1v1h-1zM32 20h2v1h-2zM21 21h1v1h-1zM13 22h1v1h-1zM19 22h1v1h-1zM32 31h2v1h-2zM48 31h2v1h-2zM31 32h1v1h-1zM34 32h1v1h-1zM47 32h1v1h-1zM50 32h1v1h-1zM31 33h1v1h-1zM34 33h1v1h-1zM47 33h1v1h-1zM50 33h1v1h-1zM32 34h2v1h-2zM48 34h2v1h-2zM45 43h1v1h-1zM32 45h2v1h-2zM54 45h1v1h-1zM30 46h1v1h-1zM35 46h1v1h-1zM0 47h2v1h-2zM43 47h1v1h-1zM3 48h1v1h-1zM29 48h1v1h-1zM36 48h1v1h-1zM43 48h1v1h-1zM55 48h1v1h-1zM29 49h1v1h-1zM36 49h1v1h-1zM43 49h1v1h-1zM55 49h1v1h-1zM4 50h1v1h-1zM43 50h1v1h-1zM4 51h1v1h-1zM30 51h1v1h-1zM35 51h1v1h-1zM32 52h2v1h-2zM54 52h1v1h-1zM3 53h1v1h-1zM0 54h2v1h-2zM45 54h1v1h-1zM52 54h1v1h-1zM47 55h4v1h-4z"/><path fill="#303ea5" d="M14 11h1v1h-1zM19 11h1v1h-1zM64 11h2v1h-2zM62 13h1v1h-1zM32 14h2v1h-2zM62 14h1v1h-1zM11 15h1v1h-1zM63 15h1v1h-1zM22 16h1v1h-1zM30 16h1v1h-1zM35 16h1v1h-1zM48 16h2v1h-2zM22 17h1v1h-1zM30 17h1v1h-1zM35 17h1v1h-1zM48 17h2v1h-2zM11 18h1v1h-1zM32 19h2v1h-2zM15 22h4v1h-4zM46 43h1v1h-1zM50 43h1v1h-1zM32 46h2v1h-2zM54 46h1v1h-1zM0 48h2v1h-2zM30 48h1v1h-1zM35 48h1v1h-1zM30 49h1v1h-1zM35 49h1v1h-1zM3 50h1v1h-1zM3 51h1v1h-1zM32 51h2v1h-2zM54 51h1v1h-1zM0 53h2v1h-2zM46 54h1v1h-1zM51 54h1v1h-1z"/><path fill="#2f3a9f" d="M15 11h4v1h-4zM13 12h1v1h-1zM20 12h1v1h-1zM63 12h1v1h-1zM12 13h1v1h-1zM21 13h1v1h-1zM31 15h1v1h-1zM34 15h1v1h-1zM64 15h2v1h-2zM11 16h1v1h-1zM11 17h1v1h-1zM31 18h1v1h-1zM34 18h1v1h-1zM12 20h1v1h-1zM21 20h1v1h-1zM13 21h1v1h-1zM20 21h1v1h-1zM47 43h3v1h-3zM45 44h1v1h-1zM52 44h1v1h-1zM44 45h1v1h-1zM53 45h1v1h-1zM31 47h1v1h-1zM34 47h1v1h-1zM54 47h1v1h-1zM2 49h1v1h-1zM31 50h1v1h-1zM34 50h1v1h-1zM54 50h1v1h-1zM2 52h1v1h-1zM44 52h1v1h-1zM53 52h1v1h-1zM45 53h1v1h-1zM52 53h1v1h-1zM47 54h1v1h-1zM50 54h1v1h-1z"/><path fill="#ee7620" d="M41 11h1v1h-1zM56 16h1v1h-1zM42 24h1v1h-1zM41 26h1v1h-1zM24 41h1v1h-1zM37 59h1v1h-1z"/><path fill="#3141a9" d="M63 11h1v1h-1zM12 12h1v1h-1zM21 12h1v1h-1zM62 12h1v1h-1zM11 14h1v1h-1zM31 14h1v1h-1zM34 14h1v1h-1zM22 15h1v1h-1zM30 15h1v1h-1zM35 15h1v1h-1zM48 15h2v1h-2zM62 15h1v1h-1zM47 16h1v1h-1zM50 16h1v1h-1zM63 16h3v1h-3zM47 17h1v1h-1zM50 17h1v1h-1zM22 18h1v1h-1zM30 18h1v1h-1zM35 18h1v1h-1zM48 18h2v1h-2zM11 19h1v1h-1zM31 19h1v1h-1zM34 19h1v1h-1zM12 21h1v1h-1zM14 22h1v1h-1zM32 32h2v1h-2zM48 32h2v1h-2zM32 33h2v1h-2zM48 33h2v1h-2zM51 43h1v1h-1zM44 44h1v1h-1zM53 44h1v1h-1zM31 46h1v1h-1zM34 46h1v1h-1zM30 47h1v1h-1zM35 47h1v1h-1zM2 48h1v1h-1zM3 49h1v1h-1zM30 50h1v1h-1zM35 50h1v1h-1zM31 51h1v1h-1zM34 51h1v1h-1zM3 52h1v1h-1zM2 53h1v1h-1zM44 53h1v1h-1zM53 53h1v1h-1z"/><path fill="#2f3699" d="M14 12h1v1h-1zM19 12h1v1h-1zM64 12h2v1h-2zM63 13h1v1h-1zM12 14h1v1h-1zM21 14h1v1h-1zM63 14h1v1h-1zM32 15h2v1h-2zM31 16h1v1h-1zM34 16h1v1h-1zM31 17h1v1h-1zM34 17h1v1h-1zM32 18h2v1h-2zM12 19h1v1h-1zM21 19h1v1h-1zM14 21h1v1h-1zM19 21h1v1h-1zM51 44h1v1h-1zM32 47h2v1h-2zM31 48h1v1h-1zM34 48h1v1h-1zM54 48h1v1h-1zM0 49h2v1h-2zM31 49h1v1h-1zM34 49h1v1h-1zM54 49h1v1h-1zM2 50h1v1h-1zM32 50h2v1h-2zM2 51h1v1h-1zM44 51h1v1h-1zM0 52h2v1h-2zM48 54h2v1h-2z"/><path fill="#2e3292" d="M15 12h1v1h-1zM18 12h1v1h-1zM13 13h1v1h-1zM20 13h1v1h-1zM64 13h2v1h-2zM64 14h2v1h-2zM12 15h1v1h-1zM21 15h1v1h-1zM32 16h2v1h-2zM32 17h2v1h-2zM12 18h1v1h-1zM21 18h1v1h-1zM13 20h1v1h-1zM20 20h1v1h-1zM15 21h1v1h-1zM18 21h1v1h-1zM46 44h2v1h-2zM50 44h1v1h-1zM45 45h1v1h-1zM52 45h1v1h-1zM44 46h1v1h-1zM53 46h1v1h-1zM44 47h1v1h-1zM53 47h1v1h-1zM32 48h2v1h-2zM32 49h2v1h-2zM0 50h2v1h-2zM44 50h1v1h-1zM53 50h1v1h-1zM0 51h2v1h-2zM53 51h1v1h-1zM45 52h1v1h-1zM52 52h1v1h-1zM46 53h2v1h-2zM50 53h2v1h-2z"/><path fill="#2e3087" d="M16 12h2v1h-2zM14 13h1v1h-1zM19 13h1v1h-1zM13 14h1v1h-1zM20 14h1v1h-1zM12 16h1v1h-1zM21 16h1v1h-1zM12 17h1v1h-1zM21 17h1v1h-1zM13 19h1v1h-1zM20 19h1v1h-1zM14 20h1v1h-1zM19 20h1v1h-1zM16 21h2v1h-2zM48 44h2v1h-2zM46 45h1v1h-1zM51 45h1v1h-1zM45 46h1v1h-1zM52 46h1v1h-1zM44 48h1v1h-1zM53 48h1v1h-1zM44 49h1v1h-1zM53 49h1v1h-1zM45 51h1v1h-1zM52 51h1v1h-1zM46 52h1v1h-1zM51 52h1v1h-1zM48 53h2v1h-2z"/><path fill="#2f3079" d="M15 13h4v1h-4zM14 14h2v1h-2zM18 14h2v1h-2zM13 15h2v1h-2zM19 15h2v1h-2zM13 16h1v1h-1zM20 16h1v1h-1zM13 17h1v1h-1zM20 17h1v1h-1zM13 18h2v1h-2zM19 18h2v1h-2zM14 19h2v1h-2zM18 19h2v1h-2zM15 20h4v1h-4zM47 45h4v1h-4zM46 46h1v1h-1zM51 46h1v1h-1zM45 47h1v1h-1zM52 47h1v1h-1zM45 48h1v1h-1zM52 48h1v1h-1zM45 49h1v1h-1zM52 49h1v1h-1zM45 50h1v1h-1zM52 50h1v1h-1zM46 51h1v1h-1zM51 51h1v1h-1zM47 52h4v1h-4z"/><path fill="#30306b" d="M16 14h2v1h-2zM15 15h4v1h-4zM14 16h6v1h-6zM14 17h6v1h-6zM15 18h4v1h-4zM16 19h2v1h-2zM47 46h4v1h-4zM46 47h6v1h-6zM46 48h6v1h-6zM46 49h6v1h-6zM46 50h6v1h-6zM47 51h4v1h-4z"/><path fill="#da3720" d="M56 22h1v1h-1zM22 57h1v1h-1zM36 59h1v1h-1z"/><path fill="#dd4020" d="M40 24h1v1h-1zM42 25h1v1h-1zM23 40h1v1h-1z"/><path fill="#e04820" d="M41 24h1v1h-1zM24 40h1v1h-1zM24 52h1v1h-1z"/><path fill="#cb2a20" d="M55 24h1v1h-1zM10 41h1v1h-1zM9 42h1v1h-1z"/><path fill="#e86020" d="M25 40h1v1h-1z"/><path fill="#d32e20" d="M35 59h1v1h-1z"/></svg></g></g>
<rect x="89.40" y="11.20" width="412.00" height="410.40" fill="none" stroke="#111" stroke-width="2.6"/>
<rect x="89.40" y="443.80" width="412.00" height="410.00" fill="none" stroke="#111" stroke-width="2.6"/>
<line x1="73.8" y1="11.2" x2="89.4" y2="11.2" stroke="#000" stroke-width="3.6"/>
<line x1="73.8" y1="112.9" x2="89.4" y2="112.9" stroke="#000" stroke-width="3.6"/>
<line x1="73.8" y1="215.5" x2="89.4" y2="215.5" stroke="#000" stroke-width="3.6"/>
<line x1="73.8" y1="319.4" x2="89.4" y2="319.4" stroke="#000" stroke-width="3.6"/>
<line x1="73.8" y1="421.2" x2="89.4" y2="421.2" stroke="#000" stroke-width="3.6"/>
<line x1="73.8" y1="444.0" x2="89.4" y2="444.0" stroke="#000" stroke-width="3.6"/>
<line x1="73.8" y1="545.2" x2="89.4" y2="545.2" stroke="#000" stroke-width="3.6"/>
<line x1="73.8" y1="648.8" x2="89.4" y2="648.8" stroke="#000" stroke-width="3.6"/>
<line x1="73.8" y1="752.2" x2="89.4" y2="752.2" stroke="#000" stroke-width="3.6"/>
<line x1="73.8" y1="854.2" x2="89.4" y2="854.2" stroke="#000" stroke-width="3.6"/>
<line x1="89.2" y1="421.6" x2="89.2" y2="439.2" stroke="#000" stroke-width="4.0"/>
<line x1="191.2" y1="421.6" x2="191.2" y2="439.2" stroke="#000" stroke-width="4.0"/>
<line x1="293.9" y1="421.6" x2="293.9" y2="439.2" stroke="#000" stroke-width="4.0"/>
<line x1="398.2" y1="421.6" x2="398.2" y2="439.2" stroke="#000" stroke-width="4.0"/>
<line x1="500.5" y1="421.6" x2="500.5" y2="439.2" stroke="#000" stroke-width="4.0"/>
<line x1="89.2" y1="853.8" x2="89.2" y2="871.4" stroke="#000" stroke-width="4.0"/>
<line x1="191.2" y1="853.8" x2="191.2" y2="871.4" stroke="#000" stroke-width="4.0"/>
<line x1="293.9" y1="853.8" x2="293.9" y2="871.4" stroke="#000" stroke-width="4.0"/>
<line x1="398.2" y1="853.8" x2="398.2" y2="871.4" stroke="#000" stroke-width="4.0"/>
<line x1="500.5" y1="853.8" x2="500.5" y2="871.4" stroke="#000" stroke-width="4.0"/>
<rect x="518.50" y="9.50" width="22.00" height="414.00" fill="url(#cg)" stroke="#151515" stroke-width="2.6"/>
<rect x="516.2" y="8.30" width="2.4" height="416.40" fill="#5a5a5a"/>
<rect x="518.50" y="442.50" width="22.00" height="412.50" fill="url(#cg)" stroke="#151515" stroke-width="2.6"/>
<rect x="516.2" y="441.30" width="2.4" height="414.90" fill="#5a5a5a"/>
<line x1="541.5" y1="89.2" x2="557.0" y2="89.2" stroke="#000" stroke-width="3.6"/>
<line x1="541.5" y1="218.6" x2="557.0" y2="218.6" stroke="#000" stroke-width="3.6"/>
<line x1="541.5" y1="348.0" x2="557.0" y2="348.0" stroke="#000" stroke-width="3.6"/>
<line x1="541.5" y1="457.3" x2="557.0" y2="457.3" stroke="#000" stroke-width="3.6"/>
<line x1="541.5" y1="537.3" x2="557.0" y2="537.3" stroke="#000" stroke-width="3.6"/>
<line x1="541.5" y1="620.2" x2="557.0" y2="620.2" stroke="#000" stroke-width="3.6"/>
<line x1="541.5" y1="700.2" x2="557.0" y2="700.2" stroke="#000" stroke-width="3.6"/>
<line x1="541.5" y1="782.4" x2="557.0" y2="782.4" stroke="#000" stroke-width="3.6"/>
<text x="66.5" y="21.4" text-anchor="end" font-size="30">8</text>
<text x="66.5" y="121.6" text-anchor="end" font-size="30">4</text>
<text x="66.5" y="223.6" text-anchor="end" font-size="30">0</text>
<text x="66.5" y="328.1" text-anchor="end" font-size="30">-4</text>
<text x="66.5" y="428.0" text-anchor="end" font-size="30">-8</text>
<text x="66.5" y="455.9" text-anchor="end" font-size="30">8</text>
<text x="66.5" y="556.6" text-anchor="end" font-size="30">4</text>
<text x="66.5" y="658.9" text-anchor="end" font-size="30">0</text>
<text x="66.5" y="763.9" text-anchor="end" font-size="30">-4</text>
<text x="66.5" y="863.1" text-anchor="end" font-size="30">-8</text>
<text x="71.8" y="900.1" text-anchor="start" font-size="30">-8</text>
<text x="179.3" y="900.1" text-anchor="start" font-size="30">-4</text>
<text x="294.2" y="900.1" text-anchor="start" font-size="30">0</text>
<text x="399.4" y="900.1" text-anchor="start" font-size="30">4</text>
<text x="506.4" y="900.1" text-anchor="start" font-size="30">8</text>
<text x="561.0" y="100.2" text-anchor="start" font-size="30">-2.05</text>
<text x="561.0" y="228.7" text-anchor="start" font-size="30">-2.10</text>
<text x="561.0" y="358.7" text-anchor="start" font-size="30">-2.15</text>
<text x="571.7" y="466.2" text-anchor="start" font-size="30">-3.0</text>
<text x="571.7" y="549.9" text-anchor="start" font-size="30">-3.5</text>
<text x="571.7" y="630.7" text-anchor="start" font-size="30">-4.0</text>
<text x="571.7" y="709.5" text-anchor="start" font-size="30">-4.5</text>
<text x="571.7" y="792.6" text-anchor="start" font-size="30">-5.0</text>
<text x="240" y="943" font-size="40">y (km)</text>
<text transform="translate(29,218.3) rotate(-90)" text-anchor="middle" font-size="40">x (km)</text>
<text transform="translate(29,648.3) rotate(-90)" text-anchor="middle" font-size="40">x (km)</text>
<text transform="translate(657,0) rotate(90)" font-size="40"><tspan x="189.6" y="0">log</tspan><tspan x="243.4" y="8" font-size="30">10</tspan><tspan x="278.0" y="0">|</tspan><tspan x="284.5">Z</tspan><tspan x="311.2">x</tspan><tspan x="330.5">y</tspan><tspan x="350.6">|</tspan></text>
<text transform="translate(657,0) rotate(90)" font-size="40"><tspan x="555.5" y="0">log</tspan><tspan x="609.3" y="8" font-size="30">10</tspan><tspan x="643.9" y="0">|</tspan><tspan x="650.4">Z</tspan><tspan x="677.1">x</tspan><tspan x="696.4">x</tspan><tspan x="716.5">|</tspan></text>
</svg>
</body></html>
